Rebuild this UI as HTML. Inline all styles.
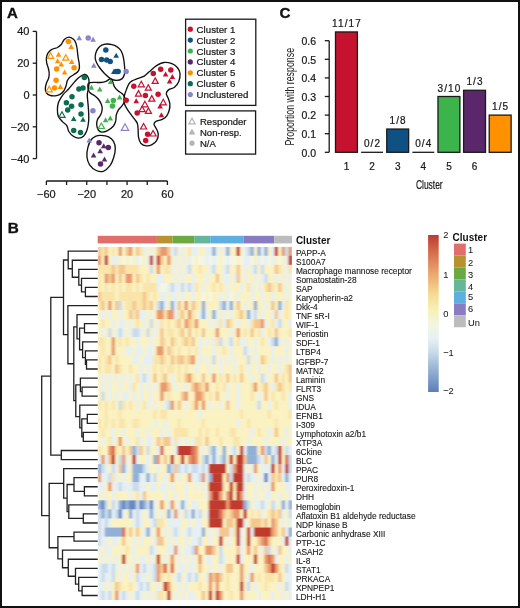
<!DOCTYPE html>
<html><head><meta charset="utf-8"><title>Figure</title>
<style>html,body{margin:0;padding:0;background:#fff;width:520px;height:608px;overflow:hidden}svg{display:block;will-change:transform}text{font-family:"Liberation Sans",sans-serif}</style>
</head><body>
<svg width="520" height="608" viewBox="0 0 520 608" font-family="Liberation Sans, sans-serif">
<rect x="1" y="1" width="518" height="606" fill="#fff" stroke="#111" stroke-width="2"/>
<text x="6.90" y="17.80" font-size="15.00" text-anchor="start" font-weight="bold" fill="#111" stroke="#111" stroke-width="0.35">A</text>
<text x="279.50" y="18.30" font-size="15.20" text-anchor="start" font-weight="bold" fill="#111" stroke="#111" stroke-width="0.35">C</text>
<text x="7.70" y="232.60" font-size="15.30" text-anchor="start" font-weight="bold" fill="#111" stroke="#111" stroke-width="0.35">B</text>
<path d="M36.5,31.4 V158.5" stroke="#1a1a1a" stroke-width="1.3" fill="none"/>
<path d="M32.7,31.40 H36.5" stroke="#1a1a1a" stroke-width="1.3"/>
<text x="29.50" y="35.30" font-size="11.00" text-anchor="end" font-weight="normal" fill="#1a1a1a" stroke="#1a1a1a" stroke-width="0.22" >40</text>
<path d="M32.7,63.20 H36.5" stroke="#1a1a1a" stroke-width="1.3"/>
<text x="29.50" y="67.10" font-size="11.00" text-anchor="end" font-weight="normal" fill="#1a1a1a" stroke="#1a1a1a" stroke-width="0.22" >20</text>
<path d="M32.7,95.00 H36.5" stroke="#1a1a1a" stroke-width="1.3"/>
<text x="29.50" y="98.90" font-size="11.00" text-anchor="end" font-weight="normal" fill="#1a1a1a" stroke="#1a1a1a" stroke-width="0.22" >0</text>
<path d="M32.7,126.80 H36.5" stroke="#1a1a1a" stroke-width="1.3"/>
<text x="29.50" y="130.70" font-size="11.00" text-anchor="end" font-weight="normal" fill="#1a1a1a" stroke="#1a1a1a" stroke-width="0.22" >−20</text>
<path d="M32.7,158.60 H36.5" stroke="#1a1a1a" stroke-width="1.3"/>
<text x="29.50" y="162.50" font-size="11.00" text-anchor="end" font-weight="normal" fill="#1a1a1a" stroke="#1a1a1a" stroke-width="0.22" >−40</text>
<path d="M46.4,181 H167.4" stroke="#1a1a1a" stroke-width="1.3" fill="none"/>
<path d="M46.40,181 V185" stroke="#1a1a1a" stroke-width="1.3"/>
<text x="46.40" y="197.80" font-size="11.00" text-anchor="middle" font-weight="normal" fill="#1a1a1a" stroke="#1a1a1a" stroke-width="0.22" >−60</text>
<path d="M66.57,181 V185" stroke="#1a1a1a" stroke-width="1.3"/>
<path d="M86.74,181 V185" stroke="#1a1a1a" stroke-width="1.3"/>
<text x="86.74" y="197.80" font-size="11.00" text-anchor="middle" font-weight="normal" fill="#1a1a1a" stroke="#1a1a1a" stroke-width="0.22" >−20</text>
<path d="M106.91,181 V185" stroke="#1a1a1a" stroke-width="1.3"/>
<path d="M127.08,181 V185" stroke="#1a1a1a" stroke-width="1.3"/>
<text x="127.08" y="197.80" font-size="11.00" text-anchor="middle" font-weight="normal" fill="#1a1a1a" stroke="#1a1a1a" stroke-width="0.22" >20</text>
<path d="M147.25,181 V185" stroke="#1a1a1a" stroke-width="1.3"/>
<path d="M167.42,181 V185" stroke="#1a1a1a" stroke-width="1.3"/>
<text x="167.42" y="197.80" font-size="11.00" text-anchor="middle" font-weight="normal" fill="#1a1a1a" stroke="#1a1a1a" stroke-width="0.22" >60</text>
<path d="M68.80,37.10 C70.33,37.05 72.33,38.32 73.50,39.30 C74.67,40.28 75.22,41.55 75.80,43.00 C76.38,44.45 76.70,46.33 77.00,48.00 C77.30,49.67 77.40,51.33 77.60,53.00 C77.80,54.67 77.93,56.25 78.20,58.00 C78.47,59.75 79.02,61.75 79.20,63.50 C79.38,65.25 79.58,67.08 79.30,68.50 C79.02,69.92 78.47,70.95 77.50,72.00 C76.53,73.05 74.83,73.88 73.50,74.80 C72.17,75.72 70.55,76.47 69.50,77.50 C68.45,78.53 67.78,79.58 67.20,81.00 C66.62,82.42 66.57,84.33 66.00,86.00 C65.43,87.67 64.80,89.62 63.80,91.00 C62.80,92.38 61.47,93.50 60.00,94.30 C58.53,95.10 56.67,95.62 55.00,95.80 C53.33,95.98 51.43,95.90 50.00,95.40 C48.57,94.90 47.18,93.95 46.40,92.80 C45.62,91.65 45.28,90.13 45.30,88.50 C45.32,86.87 45.95,84.70 46.50,83.00 C47.05,81.30 48.15,79.88 48.60,78.30 C49.05,76.72 49.23,75.13 49.20,73.50 C49.17,71.87 48.82,70.25 48.40,68.50 C47.98,66.75 47.03,64.75 46.70,63.00 C46.37,61.25 46.22,59.62 46.40,58.00 C46.58,56.38 46.95,54.70 47.80,53.30 C48.65,51.90 49.88,50.57 51.50,49.60 C53.12,48.63 55.88,48.35 57.50,47.50 C59.12,46.65 60.07,45.82 61.20,44.50 C62.33,43.18 63.03,40.83 64.30,39.60 C65.57,38.37 67.27,37.15 68.80,37.10 Z" fill="none" stroke="#111" stroke-width="1.35"/>
<path d="M106.70,44.00 C108.40,43.90 110.32,44.17 112.00,44.60 C113.68,45.03 115.43,45.77 116.80,46.60 C118.17,47.43 119.28,48.45 120.20,49.60 C121.12,50.75 121.75,52.10 122.30,53.50 C122.85,54.90 123.18,56.42 123.50,58.00 C123.82,59.58 124.00,61.25 124.20,63.00 C124.40,64.75 124.65,66.67 124.70,68.50 C124.75,70.33 124.92,72.32 124.50,74.00 C124.08,75.68 123.53,77.53 122.20,78.60 C120.87,79.67 118.45,80.40 116.50,80.40 C114.55,80.40 112.50,79.75 110.50,78.60 C108.50,77.45 106.33,75.35 104.50,73.50 C102.67,71.65 100.83,69.33 99.50,67.50 C98.17,65.67 97.22,64.08 96.50,62.50 C95.78,60.92 95.32,59.58 95.20,58.00 C95.08,56.42 95.33,54.58 95.80,53.00 C96.27,51.42 97.00,49.80 98.00,48.50 C99.00,47.20 100.35,45.95 101.80,45.20 C103.25,44.45 105.00,44.10 106.70,44.00 Z" fill="none" stroke="#111" stroke-width="1.35"/>
<path d="M84.40,74.50 C85.75,74.25 86.53,74.80 87.30,75.80 C88.07,76.80 88.78,78.55 89.00,80.50 C89.22,82.45 88.88,85.17 88.60,87.50 C88.32,89.83 87.43,92.17 87.30,94.50 C87.17,96.83 87.60,98.92 87.80,101.50 C88.00,104.08 88.35,106.83 88.50,110.00 C88.65,113.17 88.95,117.17 88.70,120.50 C88.45,123.83 87.87,127.38 87.00,130.00 C86.13,132.62 84.87,134.85 83.50,136.20 C82.13,137.55 80.50,138.08 78.80,138.10 C77.10,138.12 74.97,137.40 73.30,136.30 C71.63,135.20 69.88,133.28 68.80,131.50 C67.72,129.72 67.82,127.20 66.80,125.60 C65.78,124.00 64.12,123.45 62.70,121.90 C61.28,120.35 59.18,118.42 58.30,116.30 C57.42,114.18 57.40,111.42 57.40,109.20 C57.40,106.98 57.83,104.70 58.30,103.00 C58.77,101.30 59.37,100.43 60.20,99.00 C61.03,97.57 61.87,96.10 63.30,94.40 C64.73,92.70 66.92,90.88 68.80,88.80 C70.68,86.72 72.87,83.82 74.60,81.90 C76.33,79.98 77.57,78.53 79.20,77.30 C80.83,76.07 83.05,74.75 84.40,74.50 Z" fill="none" stroke="#111" stroke-width="1.35"/>
<path d="M88.60,83.20 C89.77,82.27 93.02,82.52 95.00,82.40 C96.98,82.28 98.67,82.67 100.50,82.50 C102.33,82.33 104.48,81.95 106.00,81.40 C107.52,80.85 108.60,79.43 109.60,79.20 C110.60,78.97 111.20,78.77 112.00,80.00 C112.80,81.23 113.40,84.80 114.40,86.60 C115.40,88.40 116.73,89.65 118.00,90.80 C119.27,91.95 120.90,92.47 122.00,93.50 C123.10,94.53 124.17,95.67 124.60,97.00 C125.03,98.33 125.03,100.03 124.60,101.50 C124.17,102.97 123.00,104.45 122.00,105.80 C121.00,107.15 119.55,108.07 118.60,109.60 C117.65,111.13 116.80,113.02 116.30,115.00 C115.80,116.98 116.15,119.58 115.60,121.50 C115.05,123.42 114.35,124.98 113.00,126.50 C111.65,128.02 109.35,129.67 107.50,130.60 C105.65,131.53 103.43,132.20 101.90,132.10 C100.37,132.00 99.17,131.22 98.30,130.00 C97.43,128.78 96.83,126.53 96.70,124.80 C96.57,123.07 96.82,121.32 97.50,119.60 C98.18,117.88 100.02,116.27 100.80,114.50 C101.58,112.73 102.10,110.67 102.20,109.00 C102.30,107.33 102.00,106.08 101.40,104.50 C100.80,102.92 99.67,100.92 98.60,99.50 C97.53,98.08 96.43,97.12 95.00,96.00 C93.57,94.88 91.17,94.13 90.00,92.80 C88.83,91.47 88.23,89.60 88.00,88.00 C87.77,86.40 87.43,84.13 88.60,83.20 Z" fill="none" stroke="#111" stroke-width="1.35"/>
<path d="M163.80,62.50 C166.37,62.18 169.62,62.83 171.90,63.70 C174.18,64.57 176.15,66.07 177.50,67.70 C178.85,69.33 179.78,71.20 180.00,73.50 C180.22,75.80 179.72,79.22 178.80,81.50 C177.88,83.78 176.17,85.85 174.50,87.20 C172.83,88.55 170.17,88.55 168.80,89.60 C167.43,90.65 166.40,92.07 166.30,93.50 C166.20,94.93 167.62,96.53 168.20,98.20 C168.78,99.87 169.60,101.62 169.80,103.50 C170.00,105.38 169.90,107.45 169.40,109.50 C168.90,111.55 167.98,114.17 166.80,115.80 C165.62,117.43 164.10,118.38 162.30,119.30 C160.50,120.22 157.38,120.48 156.00,121.30 C154.62,122.12 153.93,122.95 154.00,124.20 C154.07,125.45 155.68,127.13 156.40,128.80 C157.12,130.47 158.27,132.23 158.30,134.20 C158.33,136.17 157.65,138.87 156.60,140.60 C155.55,142.33 153.73,143.73 152.00,144.60 C150.27,145.47 148.03,145.98 146.20,145.80 C144.37,145.62 142.27,144.85 141.00,143.50 C139.73,142.15 139.08,140.02 138.60,137.70 C138.12,135.38 138.30,131.95 138.10,129.60 C137.90,127.25 137.93,125.25 137.40,123.60 C136.87,121.95 135.87,121.08 134.90,119.70 C133.93,118.32 132.70,116.77 131.60,115.30 C130.50,113.83 129.43,112.65 128.30,110.90 C127.17,109.15 125.53,106.70 124.80,104.80 C124.07,102.90 123.92,101.22 123.90,99.50 C123.88,97.78 124.27,96.18 124.70,94.50 C125.13,92.82 125.80,91.18 126.50,89.40 C127.20,87.62 127.98,85.23 128.90,83.80 C129.82,82.37 130.57,81.67 132.00,80.80 C133.43,79.93 135.47,79.38 137.50,78.60 C139.53,77.82 142.25,77.23 144.20,76.10 C146.15,74.97 147.15,73.55 149.20,71.80 C151.25,70.05 154.07,67.15 156.50,65.60 C158.93,64.05 161.23,62.82 163.80,62.50 Z" fill="none" stroke="#111" stroke-width="1.35"/>
<path d="M100.80,135.40 C102.90,135.52 106.48,135.82 108.60,136.80 C110.72,137.78 112.38,139.35 113.50,141.30 C114.62,143.25 115.28,145.77 115.30,148.50 C115.32,151.23 114.48,154.85 113.60,157.70 C112.72,160.55 111.72,163.33 110.00,165.60 C108.28,167.87 105.58,170.48 103.30,171.30 C101.02,172.12 98.58,171.58 96.30,170.50 C94.02,169.42 91.17,167.13 89.60,164.80 C88.03,162.47 87.18,159.42 86.90,156.50 C86.62,153.58 87.17,150.13 87.90,147.30 C88.63,144.47 89.95,141.37 91.30,139.50 C92.65,137.63 94.42,136.78 96.00,136.10 C97.58,135.42 98.70,135.28 100.80,135.40 Z" fill="none" stroke="#111" stroke-width="1.35"/>
<circle cx="68.4" cy="41.4" r="2.75" fill="#ff9100"/>
<path d="M71.20,43.98 L74.00,49.02 L68.40,49.02 Z" fill="#ff9100"/>
<path d="M50.60,52.81 L53.65,58.30 L47.55,58.30 Z" fill="none" stroke="#ff9100" stroke-width="1.2" stroke-linejoin="miter"/>
<path d="M58.60,51.68 L61.40,56.72 L55.80,56.72 Z" fill="#ff9100"/>
<path d="M65.80,54.71 L68.85,60.20 L62.75,60.20 Z" fill="none" stroke="#ff9100" stroke-width="1.2" stroke-linejoin="miter"/>
<path d="M57.60,58.18 L60.40,63.22 L54.80,63.22 Z" fill="#ff9100"/>
<path d="M61.30,61.48 L64.10,66.52 L58.50,66.52 Z" fill="#ff9100"/>
<path d="M71.70,58.98 L74.50,64.02 L68.90,64.02 Z" fill="#ff9100"/>
<circle cx="74.1" cy="67.7" r="2.75" fill="#ff9100"/>
<circle cx="56.6" cy="69.0" r="2.75" fill="#ff9100"/>
<path d="M64.60,69.38 L67.40,74.42 L61.80,74.42 Z" fill="#ff9100"/>
<circle cx="56.1" cy="80.2" r="2.75" fill="#ff9100"/>
<path d="M49.20,86.31 L52.25,91.80 L46.15,91.80 Z" fill="none" stroke="#ff9100" stroke-width="1.2" stroke-linejoin="miter"/>
<circle cx="54.5" cy="88.0" r="2.75" fill="#ff9100"/>
<path d="M60.40,83.98 L63.20,89.02 L57.60,89.02 Z" fill="#ff9100"/>
<path d="M79.20,35.18 L82.00,40.22 L76.40,40.22 Z" fill="#8a84c8"/>
<circle cx="88.2" cy="37.9" r="2.75" fill="#8a84c8"/>
<path d="M93.10,36.78 L95.90,41.82 L90.30,41.82 Z" fill="#8a84c8"/>
<path d="M93.80,62.78 L96.60,67.82 L91.00,67.82 Z" fill="#8a84c8"/>
<circle cx="126.1" cy="71.4" r="2.75" fill="#8a84c8"/>
<circle cx="92.9" cy="110.8" r="2.75" fill="#8a84c8"/>
<path d="M89.20,137.58 L92.00,142.62 L86.40,142.62 Z" fill="#8a84c8"/>
<path d="M125.00,123.80 L128.70,130.46 L121.30,130.46 Z" fill="none" stroke="#8a84c8" stroke-width="1.2" stroke-linejoin="miter"/>
<circle cx="105.8" cy="49.9" r="2.75" fill="#105183"/>
<path d="M116.20,52.78 L119.00,57.82 L113.40,57.82 Z" fill="#105183"/>
<circle cx="101.5" cy="59.4" r="2.75" fill="#105183"/>
<circle cx="106.7" cy="59.9" r="2.75" fill="#105183"/>
<circle cx="110.2" cy="61.4" r="2.75" fill="#105183"/>
<path d="M113.80,68.98 L116.60,74.02 L111.00,74.02 Z" fill="#105183"/>
<circle cx="118.2" cy="71.5" r="2.75" fill="#105183"/>
<circle cx="116.1" cy="71.6" r="2.75" fill="#105183"/>
<circle cx="84.4" cy="77.5" r="2.75" fill="#0a6e50"/>
<circle cx="78.9" cy="88.9" r="2.75" fill="#0a6e50"/>
<circle cx="83.0" cy="88.0" r="2.75" fill="#0a6e50"/>
<circle cx="72.0" cy="96.8" r="2.75" fill="#0a6e50"/>
<circle cx="66.4" cy="102.7" r="2.75" fill="#0a6e50"/>
<circle cx="71.6" cy="106.2" r="2.75" fill="#0a6e50"/>
<circle cx="81.0" cy="104.7" r="2.75" fill="#0a6e50"/>
<circle cx="67.7" cy="110.1" r="2.75" fill="#0a6e50"/>
<path d="M62.00,111.81 L65.05,117.30 L58.95,117.30 Z" fill="none" stroke="#0a6e50" stroke-width="1.2" stroke-linejoin="miter"/>
<circle cx="81.0" cy="114.1" r="2.75" fill="#0a6e50"/>
<path d="M73.70,115.98 L76.50,121.02 L70.90,121.02 Z" fill="#0a6e50"/>
<path d="M83.00,116.68 L85.80,121.72 L80.20,121.72 Z" fill="#0a6e50"/>
<circle cx="73.7" cy="130.4" r="2.75" fill="#0a6e50"/>
<circle cx="80.5" cy="132.4" r="2.75" fill="#0a6e50"/>
<path d="M91.40,84.68 L94.20,89.72 L88.60,89.72 Z" fill="#3cb44b"/>
<path d="M99.80,86.38 L102.60,91.42 L97.00,91.42 Z" fill="#3cb44b"/>
<path d="M110.70,78.98 L113.50,84.02 L107.90,84.02 Z" fill="#3cb44b"/>
<path d="M107.60,97.98 L110.40,103.02 L104.80,103.02 Z" fill="#3cb44b"/>
<circle cx="113.4" cy="100.4" r="2.75" fill="#3cb44b"/>
<path d="M119.60,94.58 L122.40,99.62 L116.80,99.62 Z" fill="#3cb44b"/>
<circle cx="112.4" cy="106.0" r="2.75" fill="#3cb44b"/>
<path d="M110.30,115.38 L113.10,120.42 L107.50,120.42 Z" fill="#3cb44b"/>
<path d="M105.60,117.18 L108.40,122.22 L102.80,122.22 Z" fill="#3cb44b"/>
<path d="M101.40,123.01 L104.45,128.50 L98.35,128.50 Z" fill="none" stroke="#3cb44b" stroke-width="1.2" stroke-linejoin="miter"/>
<circle cx="99.0" cy="142.7" r="2.75" fill="#5a286a"/>
<path d="M103.70,143.18 L106.50,148.22 L100.90,148.22 Z" fill="#5a286a"/>
<circle cx="108.3" cy="147.5" r="2.75" fill="#5a286a"/>
<path d="M100.20,148.28 L103.00,153.32 L97.40,153.32 Z" fill="#5a286a"/>
<path d="M93.60,152.58 L96.40,157.62 L90.80,157.62 Z" fill="#5a286a"/>
<path d="M104.50,156.38 L107.30,161.42 L101.70,161.42 Z" fill="#5a286a"/>
<circle cx="100.5" cy="164.0" r="2.75" fill="#5a286a"/>
<circle cx="160.7" cy="69.2" r="2.75" fill="#c4122f"/>
<circle cx="170.8" cy="70.1" r="2.75" fill="#c4122f"/>
<circle cx="153.3" cy="73.6" r="2.75" fill="#c4122f"/>
<path d="M165.60,71.58 L168.40,76.62 L162.80,76.62 Z" fill="#c4122f"/>
<path d="M172.40,74.08 L175.20,79.12 L169.60,79.12 Z" fill="#c4122f"/>
<path d="M169.60,78.58 L172.40,83.62 L166.80,83.62 Z" fill="#c4122f"/>
<path d="M155.20,77.91 L158.25,83.40 L152.15,83.40 Z" fill="none" stroke="#c4122f" stroke-width="1.2" stroke-linejoin="miter"/>
<circle cx="133.8" cy="86.3" r="2.75" fill="#c4122f"/>
<path d="M141.30,81.31 L144.35,86.80 L138.25,86.80 Z" fill="none" stroke="#c4122f" stroke-width="1.2" stroke-linejoin="miter"/>
<path d="M148.30,84.71 L151.35,90.20 L145.25,90.20 Z" fill="none" stroke="#c4122f" stroke-width="1.2" stroke-linejoin="miter"/>
<path d="M138.50,90.61 L141.55,96.10 L135.45,96.10 Z" fill="none" stroke="#c4122f" stroke-width="1.2" stroke-linejoin="miter"/>
<circle cx="145.4" cy="95.5" r="2.75" fill="#c4122f"/>
<circle cx="158.1" cy="94.2" r="2.75" fill="#c4122f"/>
<path d="M151.80,95.61 L154.85,101.10 L148.75,101.10 Z" fill="none" stroke="#c4122f" stroke-width="1.2" stroke-linejoin="miter"/>
<path d="M136.20,98.28 L139.00,103.32 L133.40,103.32 Z" fill="#c4122f"/>
<circle cx="126.2" cy="100.2" r="2.75" fill="#c4122f"/>
<path d="M144.90,101.31 L147.95,106.80 L141.85,106.80 Z" fill="none" stroke="#c4122f" stroke-width="1.2" stroke-linejoin="miter"/>
<path d="M163.30,99.31 L166.35,104.80 L160.25,104.80 Z" fill="none" stroke="#c4122f" stroke-width="1.2" stroke-linejoin="miter"/>
<path d="M160.10,103.58 L162.90,108.62 L157.30,108.62 Z" fill="#c4122f"/>
<path d="M142.10,106.21 L145.15,111.70 L139.05,111.70 Z" fill="none" stroke="#c4122f" stroke-width="1.2" stroke-linejoin="miter"/>
<path d="M148.40,107.91 L151.45,113.40 L145.35,113.40 Z" fill="none" stroke="#c4122f" stroke-width="1.2" stroke-linejoin="miter"/>
<circle cx="137.2" cy="113.0" r="2.75" fill="#c4122f"/>
<path d="M161.40,112.28 L164.20,117.32 L158.60,117.32 Z" fill="#c4122f"/>
<path d="M143.60,123.51 L146.65,129.00 L140.55,129.00 Z" fill="none" stroke="#c4122f" stroke-width="1.2" stroke-linejoin="miter"/>
<circle cx="147.6" cy="134.2" r="2.75" fill="#c4122f"/>
<path d="M153.10,130.51 L156.15,136.00 L150.05,136.00 Z" fill="none" stroke="#c4122f" stroke-width="1.2" stroke-linejoin="miter"/>
<circle cx="145.7" cy="140.6" r="2.75" fill="#c4122f"/>
<rect x="185.6" y="19.2" width="70.2" height="86.2" fill="none" stroke="#1a1a1a" stroke-width="1.3"/>
<rect x="185.6" y="110.9" width="70" height="43.2" fill="none" stroke="#1a1a1a" stroke-width="1.3"/>
<circle cx="190.3" cy="29.2" r="2.60" fill="#c4122f"/>
<text x="196.60" y="32.70" font-size="9.70" text-anchor="start" font-weight="normal" fill="#1a1a1a" stroke="#1a1a1a" stroke-width="0.22" >Cluster 1</text>
<circle cx="190.3" cy="40.1" r="2.60" fill="#105183"/>
<text x="196.60" y="43.60" font-size="9.70" text-anchor="start" font-weight="normal" fill="#1a1a1a" stroke="#1a1a1a" stroke-width="0.22" >Cluster 2</text>
<circle cx="190.3" cy="51.0" r="2.60" fill="#3cb44b"/>
<text x="196.60" y="54.50" font-size="9.70" text-anchor="start" font-weight="normal" fill="#1a1a1a" stroke="#1a1a1a" stroke-width="0.22" >Cluster 3</text>
<circle cx="190.3" cy="61.9" r="2.60" fill="#5a286a"/>
<text x="196.60" y="65.40" font-size="9.70" text-anchor="start" font-weight="normal" fill="#1a1a1a" stroke="#1a1a1a" stroke-width="0.22" >Cluster 4</text>
<circle cx="190.3" cy="72.8" r="2.60" fill="#ff9100"/>
<text x="196.60" y="76.30" font-size="9.70" text-anchor="start" font-weight="normal" fill="#1a1a1a" stroke="#1a1a1a" stroke-width="0.22" >Cluster 5</text>
<circle cx="190.3" cy="83.7" r="2.60" fill="#0a6e50"/>
<text x="196.60" y="87.20" font-size="9.70" text-anchor="start" font-weight="normal" fill="#1a1a1a" stroke="#1a1a1a" stroke-width="0.22" >Cluster 6</text>
<circle cx="190.3" cy="94.6" r="2.60" fill="#8a84c8"/>
<text x="196.60" y="98.10" font-size="9.70" text-anchor="start" font-weight="normal" fill="#1a1a1a" stroke="#1a1a1a" stroke-width="0.22" >Unclustered</text>
<path d="M192.00,118.14 L195.20,123.90 L188.80,123.90 Z" fill="none" stroke="#b4b4bc" stroke-width="1.2" stroke-linejoin="miter"/>
<text x="200.00" y="125.10" font-size="9.50" text-anchor="start" font-weight="normal" fill="#1a1a1a" stroke="#1a1a1a" stroke-width="0.22" >Responder</text>
<path d="M192.00,128.44 L195.30,134.38 L188.70,134.38 Z" fill="#b4b4bc"/>
<text x="200.00" y="135.90" font-size="9.50" text-anchor="start" font-weight="normal" fill="#1a1a1a" stroke="#1a1a1a" stroke-width="0.22" >Non-resp.</text>
<circle cx="192.0" cy="143.2" r="2.60" fill="#b4b4bc"/>
<text x="200.00" y="146.70" font-size="9.50" text-anchor="start" font-weight="normal" fill="#1a1a1a" stroke="#1a1a1a" stroke-width="0.22" >N/A</text>
<path d="M329.2,152.30 V40.70" stroke="#1a1a1a" stroke-width="1.3"/>
<path d="M324.8,152.30 H329.2" stroke="#1a1a1a" stroke-width="1.3"/>
<text x="316.00" y="156.60" font-size="10.50" text-anchor="end" font-weight="normal" fill="#1a1a1a" stroke="#1a1a1a" stroke-width="0.22" >0.0</text>
<path d="M324.8,133.70 H329.2" stroke="#1a1a1a" stroke-width="1.3"/>
<text x="316.00" y="138.00" font-size="10.50" text-anchor="end" font-weight="normal" fill="#1a1a1a" stroke="#1a1a1a" stroke-width="0.22" >0.1</text>
<path d="M324.8,115.10 H329.2" stroke="#1a1a1a" stroke-width="1.3"/>
<text x="316.00" y="119.40" font-size="10.50" text-anchor="end" font-weight="normal" fill="#1a1a1a" stroke="#1a1a1a" stroke-width="0.22" >0.2</text>
<path d="M324.8,96.50 H329.2" stroke="#1a1a1a" stroke-width="1.3"/>
<text x="316.00" y="100.80" font-size="10.50" text-anchor="end" font-weight="normal" fill="#1a1a1a" stroke="#1a1a1a" stroke-width="0.22" >0.3</text>
<path d="M324.8,77.90 H329.2" stroke="#1a1a1a" stroke-width="1.3"/>
<text x="316.00" y="82.20" font-size="10.50" text-anchor="end" font-weight="normal" fill="#1a1a1a" stroke="#1a1a1a" stroke-width="0.22" >0.4</text>
<path d="M324.8,59.30 H329.2" stroke="#1a1a1a" stroke-width="1.3"/>
<text x="316.00" y="63.60" font-size="10.50" text-anchor="end" font-weight="normal" fill="#1a1a1a" stroke="#1a1a1a" stroke-width="0.22" >0.5</text>
<path d="M324.8,40.70 H329.2" stroke="#1a1a1a" stroke-width="1.3"/>
<text x="316.00" y="45.00" font-size="10.50" text-anchor="end" font-weight="normal" fill="#1a1a1a" stroke="#1a1a1a" stroke-width="0.22" >0.6</text>
<rect x="335.50" y="31.95" width="21.90" height="120.35" fill="#c4122f" stroke="#1a1a1a" stroke-width="1.3"/>
<text x="346.95" y="26.95" font-size="10.00" text-anchor="middle" font-weight="normal" fill="#1a1a1a" stroke="#1a1a1a" stroke-width="0.22" letter-spacing="1.1">11/17</text>
<text x="346.45" y="170.20" font-size="10.00" text-anchor="middle" font-weight="normal" fill="#1a1a1a" stroke="#1a1a1a" stroke-width="0.22" >1</text>
<path d="M361.12,152.30 H383.02" stroke="#1a1a1a" stroke-width="1.3"/>
<text x="372.57" y="147.30" font-size="10.00" text-anchor="middle" font-weight="normal" fill="#1a1a1a" stroke="#1a1a1a" stroke-width="0.22" letter-spacing="1.1">0/2</text>
<text x="372.07" y="170.20" font-size="10.00" text-anchor="middle" font-weight="normal" fill="#1a1a1a" stroke="#1a1a1a" stroke-width="0.22" >2</text>
<rect x="386.74" y="129.05" width="21.90" height="23.25" fill="#105183" stroke="#1a1a1a" stroke-width="1.3"/>
<text x="398.19" y="124.05" font-size="10.00" text-anchor="middle" font-weight="normal" fill="#1a1a1a" stroke="#1a1a1a" stroke-width="0.22" letter-spacing="1.1">1/8</text>
<text x="397.69" y="170.20" font-size="10.00" text-anchor="middle" font-weight="normal" fill="#1a1a1a" stroke="#1a1a1a" stroke-width="0.22" >3</text>
<path d="M412.36,152.30 H434.26" stroke="#1a1a1a" stroke-width="1.3"/>
<text x="423.81" y="147.30" font-size="10.00" text-anchor="middle" font-weight="normal" fill="#1a1a1a" stroke="#1a1a1a" stroke-width="0.22" letter-spacing="1.1">0/4</text>
<text x="423.31" y="170.20" font-size="10.00" text-anchor="middle" font-weight="normal" fill="#1a1a1a" stroke="#1a1a1a" stroke-width="0.22" >4</text>
<rect x="437.98" y="96.50" width="21.90" height="55.80" fill="#3cb44b" stroke="#1a1a1a" stroke-width="1.3"/>
<text x="449.43" y="91.50" font-size="10.00" text-anchor="middle" font-weight="normal" fill="#1a1a1a" stroke="#1a1a1a" stroke-width="0.22" letter-spacing="1.1">3/10</text>
<text x="448.93" y="170.20" font-size="10.00" text-anchor="middle" font-weight="normal" fill="#1a1a1a" stroke="#1a1a1a" stroke-width="0.22" >5</text>
<rect x="463.60" y="90.30" width="21.90" height="62.00" fill="#5a286a" stroke="#1a1a1a" stroke-width="1.3"/>
<text x="475.05" y="85.30" font-size="10.00" text-anchor="middle" font-weight="normal" fill="#1a1a1a" stroke="#1a1a1a" stroke-width="0.22" letter-spacing="1.1">1/3</text>
<text x="474.55" y="170.20" font-size="10.00" text-anchor="middle" font-weight="normal" fill="#1a1a1a" stroke="#1a1a1a" stroke-width="0.22" >6</text>
<rect x="489.22" y="115.10" width="21.90" height="37.20" fill="#ff9100" stroke="#1a1a1a" stroke-width="1.3"/>
<text x="500.67" y="110.10" font-size="10.00" text-anchor="middle" font-weight="normal" fill="#1a1a1a" stroke="#1a1a1a" stroke-width="0.22" letter-spacing="1.1">1/5</text>
<text x="429.30" y="188.70" font-size="12.20" text-anchor="middle" font-weight="normal" fill="#1a1a1a" stroke="#1a1a1a" stroke-width="0.22" textLength="26.8" lengthAdjust="spacingAndGlyphs">Cluster</text>
<text transform="translate(294.2,96.75) rotate(-90)" font-size="12.2" text-anchor="middle" fill="#1a1a1a" textLength="97.7" lengthAdjust="spacingAndGlyphs">Proportion with response</text>
<defs><filter id="hb" x="0" y="0" width="1" height="1"><feGaussianBlur stdDeviation="0.8 0.25" edgeMode="duplicate"/></filter><clipPath id="hc"><rect x="97.7" y="246.7" width="194.3" height="353.3"/></clipPath></defs>
<g clip-path="url(#hc)"><g filter="url(#hb)">
<rect x="97.70" y="246.70" width="3.82" height="9.41" fill="#f4c790"/>
<rect x="101.17" y="246.70" width="3.82" height="9.41" fill="#f9e5aa"/>
<rect x="104.64" y="246.70" width="3.82" height="9.41" fill="#f4c790"/>
<rect x="108.11" y="246.70" width="3.82" height="9.41" fill="#faf2c2"/>
<rect x="111.58" y="246.70" width="3.82" height="9.41" fill="#f9e5aa"/>
<rect x="115.05" y="246.70" width="3.82" height="9.41" fill="#faf2c2"/>
<rect x="118.52" y="246.70" width="3.82" height="9.41" fill="#e99a6c"/>
<rect x="121.99" y="246.70" width="3.82" height="9.41" fill="#faf2c2"/>
<rect x="125.46" y="246.70" width="3.82" height="9.41" fill="#f4c790"/>
<rect x="128.93" y="246.70" width="3.82" height="9.41" fill="#e99a6c"/>
<rect x="132.40" y="246.70" width="3.82" height="9.41" fill="#faf2c2"/>
<rect x="135.87" y="246.70" width="3.82" height="9.41" fill="#f4c790"/>
<rect x="139.34" y="246.70" width="3.82" height="9.41" fill="#f9e5aa"/>
<rect x="142.81" y="246.70" width="3.82" height="9.41" fill="#e6f0f2"/>
<rect x="146.28" y="246.70" width="3.82" height="9.41" fill="#faf2c2"/>
<rect x="149.74" y="246.70" width="3.82" height="9.41" fill="#e6f0f2"/>
<rect x="153.21" y="246.70" width="3.82" height="9.41" fill="#faf2c2"/>
<rect x="156.68" y="246.70" width="3.82" height="9.41" fill="#f4c790"/>
<rect x="160.15" y="246.70" width="7.29" height="9.41" fill="#e99a6c"/>
<rect x="167.09" y="246.70" width="3.82" height="9.41" fill="#f4c790"/>
<rect x="170.56" y="246.70" width="3.82" height="9.41" fill="#e6f0f2"/>
<rect x="174.03" y="246.70" width="3.82" height="9.41" fill="#cadcec"/>
<rect x="177.50" y="246.70" width="3.82" height="9.41" fill="#faf2c2"/>
<rect x="180.97" y="246.70" width="3.82" height="9.41" fill="#e6f0f2"/>
<rect x="184.44" y="246.70" width="3.82" height="9.41" fill="#faf2c2"/>
<rect x="187.91" y="246.70" width="3.82" height="9.41" fill="#f9e5aa"/>
<rect x="191.38" y="246.70" width="7.29" height="9.41" fill="#e6f0f2"/>
<rect x="198.32" y="246.70" width="7.29" height="9.41" fill="#faf2c2"/>
<rect x="205.26" y="246.70" width="7.29" height="9.41" fill="#e6f0f2"/>
<rect x="212.20" y="246.70" width="3.82" height="9.41" fill="#92b0d6"/>
<rect x="215.67" y="246.70" width="3.82" height="9.41" fill="#e6f0f2"/>
<rect x="219.14" y="246.70" width="3.82" height="9.41" fill="#faf2c2"/>
<rect x="222.61" y="246.70" width="3.82" height="9.41" fill="#e6f0f2"/>
<rect x="226.08" y="246.70" width="3.82" height="9.41" fill="#92b0d6"/>
<rect x="229.55" y="246.70" width="7.29" height="9.41" fill="#faf2c2"/>
<rect x="236.49" y="246.70" width="3.82" height="9.41" fill="#c03a2e"/>
<rect x="239.96" y="246.70" width="3.82" height="9.41" fill="#faf2c2"/>
<rect x="243.43" y="246.70" width="3.82" height="9.41" fill="#e6f0f2"/>
<rect x="246.89" y="246.70" width="3.82" height="9.41" fill="#cadcec"/>
<rect x="250.36" y="246.70" width="3.82" height="9.41" fill="#92b0d6"/>
<rect x="253.83" y="246.70" width="3.82" height="9.41" fill="#faf2c2"/>
<rect x="257.30" y="246.70" width="3.82" height="9.41" fill="#92b0d6"/>
<rect x="260.77" y="246.70" width="3.82" height="9.41" fill="#e6f0f2"/>
<rect x="264.24" y="246.70" width="3.82" height="9.41" fill="#92b0d6"/>
<rect x="267.71" y="246.70" width="3.82" height="9.41" fill="#faf2c2"/>
<rect x="271.18" y="246.70" width="3.82" height="9.41" fill="#e6f0f2"/>
<rect x="274.65" y="246.70" width="3.82" height="9.41" fill="#c03a2e"/>
<rect x="278.12" y="246.70" width="3.82" height="9.41" fill="#faf2c2"/>
<rect x="281.59" y="246.70" width="3.82" height="9.41" fill="#e99a6c"/>
<rect x="285.06" y="246.70" width="3.82" height="9.41" fill="#cadcec"/>
<rect x="288.53" y="246.70" width="3.82" height="9.41" fill="#e99a6c"/>
<rect x="97.70" y="255.76" width="3.82" height="9.41" fill="#e99a6c"/>
<rect x="101.17" y="255.76" width="3.82" height="9.41" fill="#faf2c2"/>
<rect x="104.64" y="255.76" width="3.82" height="9.41" fill="#c03a2e"/>
<rect x="108.11" y="255.76" width="3.82" height="9.41" fill="#faf2c2"/>
<rect x="111.58" y="255.76" width="7.29" height="9.41" fill="#e6f0f2"/>
<rect x="118.52" y="255.76" width="3.82" height="9.41" fill="#faf2c2"/>
<rect x="121.99" y="255.76" width="3.82" height="9.41" fill="#f4f6e4"/>
<rect x="125.46" y="255.76" width="3.82" height="9.41" fill="#faf2c2"/>
<rect x="128.93" y="255.76" width="3.82" height="9.41" fill="#f4f6e4"/>
<rect x="132.40" y="255.76" width="3.82" height="9.41" fill="#faf2c2"/>
<rect x="135.87" y="255.76" width="3.82" height="9.41" fill="#e6f0f2"/>
<rect x="139.34" y="255.76" width="3.82" height="9.41" fill="#f4f6e4"/>
<rect x="142.81" y="255.76" width="3.82" height="9.41" fill="#faf2c2"/>
<rect x="146.28" y="255.76" width="3.82" height="9.41" fill="#e6f0f2"/>
<rect x="149.74" y="255.76" width="3.82" height="9.41" fill="#c03a2e"/>
<rect x="153.21" y="255.76" width="3.82" height="9.41" fill="#f4f6e4"/>
<rect x="156.68" y="255.76" width="3.82" height="9.41" fill="#c03a2e"/>
<rect x="160.15" y="255.76" width="3.82" height="9.41" fill="#f4c790"/>
<rect x="163.62" y="255.76" width="3.82" height="9.41" fill="#faf2c2"/>
<rect x="167.09" y="255.76" width="3.82" height="9.41" fill="#e99a6c"/>
<rect x="170.56" y="255.76" width="3.82" height="9.41" fill="#faf2c2"/>
<rect x="174.03" y="255.76" width="3.82" height="9.41" fill="#e6f0f2"/>
<rect x="177.50" y="255.76" width="3.82" height="9.41" fill="#faf2c2"/>
<rect x="180.97" y="255.76" width="3.82" height="9.41" fill="#e6f0f2"/>
<rect x="184.44" y="255.76" width="3.82" height="9.41" fill="#faf2c2"/>
<rect x="187.91" y="255.76" width="3.82" height="9.41" fill="#e6f0f2"/>
<rect x="191.38" y="255.76" width="3.82" height="9.41" fill="#f4f6e4"/>
<rect x="194.85" y="255.76" width="3.82" height="9.41" fill="#faf2c2"/>
<rect x="198.32" y="255.76" width="7.29" height="9.41" fill="#f4f6e4"/>
<rect x="205.26" y="255.76" width="3.82" height="9.41" fill="#e6f0f2"/>
<rect x="208.73" y="255.76" width="3.82" height="9.41" fill="#f4f6e4"/>
<rect x="212.20" y="255.76" width="3.82" height="9.41" fill="#e6f0f2"/>
<rect x="215.67" y="255.76" width="3.82" height="9.41" fill="#f4f6e4"/>
<rect x="219.14" y="255.76" width="3.82" height="9.41" fill="#faf2c2"/>
<rect x="222.61" y="255.76" width="3.82" height="9.41" fill="#f4f6e4"/>
<rect x="226.08" y="255.76" width="3.82" height="9.41" fill="#e6f0f2"/>
<rect x="229.55" y="255.76" width="7.29" height="9.41" fill="#f4f6e4"/>
<rect x="236.49" y="255.76" width="3.82" height="9.41" fill="#faf2c2"/>
<rect x="239.96" y="255.76" width="3.82" height="9.41" fill="#f4f6e4"/>
<rect x="243.43" y="255.76" width="7.29" height="9.41" fill="#e6f0f2"/>
<rect x="250.36" y="255.76" width="3.82" height="9.41" fill="#f4f6e4"/>
<rect x="253.83" y="255.76" width="3.82" height="9.41" fill="#faf2c2"/>
<rect x="257.30" y="255.76" width="3.82" height="9.41" fill="#e6f0f2"/>
<rect x="260.77" y="255.76" width="3.82" height="9.41" fill="#f4f6e4"/>
<rect x="264.24" y="255.76" width="3.82" height="9.41" fill="#e6f0f2"/>
<rect x="267.71" y="255.76" width="3.82" height="9.41" fill="#f4f6e4"/>
<rect x="271.18" y="255.76" width="3.82" height="9.41" fill="#e6f0f2"/>
<rect x="274.65" y="255.76" width="3.82" height="9.41" fill="#faf2c2"/>
<rect x="278.12" y="255.76" width="3.82" height="9.41" fill="#f4f6e4"/>
<rect x="281.59" y="255.76" width="3.82" height="9.41" fill="#faf2c2"/>
<rect x="285.06" y="255.76" width="3.82" height="9.41" fill="#e6f0f2"/>
<rect x="288.53" y="255.76" width="3.82" height="9.41" fill="#c03a2e"/>
<rect x="97.70" y="264.82" width="14.23" height="9.41" fill="#f9e5aa"/>
<rect x="111.58" y="264.82" width="3.82" height="9.41" fill="#f4c790"/>
<rect x="115.05" y="264.82" width="3.82" height="9.41" fill="#f9e5aa"/>
<rect x="118.52" y="264.82" width="7.29" height="9.41" fill="#f4c790"/>
<rect x="125.46" y="264.82" width="14.23" height="9.41" fill="#f9e5aa"/>
<rect x="139.34" y="264.82" width="10.76" height="9.41" fill="#faf2c2"/>
<rect x="149.74" y="264.82" width="3.82" height="9.41" fill="#cadcec"/>
<rect x="153.21" y="264.82" width="3.82" height="9.41" fill="#faf2c2"/>
<rect x="156.68" y="264.82" width="3.82" height="9.41" fill="#e99a6c"/>
<rect x="160.15" y="264.82" width="3.82" height="9.41" fill="#faf2c2"/>
<rect x="163.62" y="264.82" width="7.29" height="9.41" fill="#f9e5aa"/>
<rect x="170.56" y="264.82" width="3.82" height="9.41" fill="#e6f0f2"/>
<rect x="174.03" y="264.82" width="3.82" height="9.41" fill="#faf2c2"/>
<rect x="177.50" y="264.82" width="3.82" height="9.41" fill="#e6f0f2"/>
<rect x="180.97" y="264.82" width="3.82" height="9.41" fill="#faf2c2"/>
<rect x="184.44" y="264.82" width="3.82" height="9.41" fill="#e6f0f2"/>
<rect x="187.91" y="264.82" width="3.82" height="9.41" fill="#cadcec"/>
<rect x="191.38" y="264.82" width="7.29" height="9.41" fill="#faf2c2"/>
<rect x="198.32" y="264.82" width="3.82" height="9.41" fill="#f9e5aa"/>
<rect x="201.79" y="264.82" width="7.29" height="9.41" fill="#faf2c2"/>
<rect x="208.73" y="264.82" width="3.82" height="9.41" fill="#e6f0f2"/>
<rect x="212.20" y="264.82" width="3.82" height="9.41" fill="#cadcec"/>
<rect x="215.67" y="264.82" width="7.29" height="9.41" fill="#faf2c2"/>
<rect x="222.61" y="264.82" width="3.82" height="9.41" fill="#e6f0f2"/>
<rect x="226.08" y="264.82" width="3.82" height="9.41" fill="#cadcec"/>
<rect x="229.55" y="264.82" width="7.29" height="9.41" fill="#faf2c2"/>
<rect x="236.49" y="264.82" width="3.82" height="9.41" fill="#f4c790"/>
<rect x="239.96" y="264.82" width="3.82" height="9.41" fill="#faf2c2"/>
<rect x="243.43" y="264.82" width="3.82" height="9.41" fill="#e6f0f2"/>
<rect x="246.89" y="264.82" width="3.82" height="9.41" fill="#faf2c2"/>
<rect x="250.36" y="264.82" width="3.82" height="9.41" fill="#e6f0f2"/>
<rect x="253.83" y="264.82" width="3.82" height="9.41" fill="#cadcec"/>
<rect x="257.30" y="264.82" width="3.82" height="9.41" fill="#faf2c2"/>
<rect x="260.77" y="264.82" width="3.82" height="9.41" fill="#cadcec"/>
<rect x="264.24" y="264.82" width="10.76" height="9.41" fill="#faf2c2"/>
<rect x="274.65" y="264.82" width="3.82" height="9.41" fill="#f4c790"/>
<rect x="278.12" y="264.82" width="3.82" height="9.41" fill="#f9e5aa"/>
<rect x="281.59" y="264.82" width="3.82" height="9.41" fill="#faf2c2"/>
<rect x="285.06" y="264.82" width="3.82" height="9.41" fill="#e6f0f2"/>
<rect x="288.53" y="264.82" width="3.82" height="9.41" fill="#f9e5aa"/>
<rect x="97.70" y="273.88" width="3.82" height="9.41" fill="#f9e5aa"/>
<rect x="101.17" y="273.88" width="3.82" height="9.41" fill="#faf2c2"/>
<rect x="104.64" y="273.88" width="3.82" height="9.41" fill="#e99a6c"/>
<rect x="108.11" y="273.88" width="3.82" height="9.41" fill="#f4c790"/>
<rect x="111.58" y="273.88" width="3.82" height="9.41" fill="#e99a6c"/>
<rect x="115.05" y="273.88" width="3.82" height="9.41" fill="#faf2c2"/>
<rect x="118.52" y="273.88" width="3.82" height="9.41" fill="#f4c790"/>
<rect x="121.99" y="273.88" width="3.82" height="9.41" fill="#faf2c2"/>
<rect x="125.46" y="273.88" width="7.29" height="9.41" fill="#e99a6c"/>
<rect x="132.40" y="273.88" width="3.82" height="9.41" fill="#faf2c2"/>
<rect x="135.87" y="273.88" width="3.82" height="9.41" fill="#f4c790"/>
<rect x="139.34" y="273.88" width="3.82" height="9.41" fill="#f9e5aa"/>
<rect x="142.81" y="273.88" width="3.82" height="9.41" fill="#faf2c2"/>
<rect x="146.28" y="273.88" width="3.82" height="9.41" fill="#f9e5aa"/>
<rect x="149.74" y="273.88" width="7.29" height="9.41" fill="#faf2c2"/>
<rect x="156.68" y="273.88" width="7.29" height="9.41" fill="#e6f0f2"/>
<rect x="163.62" y="273.88" width="10.76" height="9.41" fill="#faf2c2"/>
<rect x="174.03" y="273.88" width="3.82" height="9.41" fill="#e6f0f2"/>
<rect x="177.50" y="273.88" width="3.82" height="9.41" fill="#faf2c2"/>
<rect x="180.97" y="273.88" width="3.82" height="9.41" fill="#e6f0f2"/>
<rect x="184.44" y="273.88" width="7.29" height="9.41" fill="#faf2c2"/>
<rect x="191.38" y="273.88" width="3.82" height="9.41" fill="#e6f0f2"/>
<rect x="194.85" y="273.88" width="10.76" height="9.41" fill="#faf2c2"/>
<rect x="205.26" y="273.88" width="3.82" height="9.41" fill="#e6f0f2"/>
<rect x="208.73" y="273.88" width="7.29" height="9.41" fill="#faf2c2"/>
<rect x="215.67" y="273.88" width="3.82" height="9.41" fill="#f4c790"/>
<rect x="219.14" y="273.88" width="3.82" height="9.41" fill="#faf2c2"/>
<rect x="222.61" y="273.88" width="7.29" height="9.41" fill="#e6f0f2"/>
<rect x="229.55" y="273.88" width="3.82" height="9.41" fill="#faf2c2"/>
<rect x="233.02" y="273.88" width="3.82" height="9.41" fill="#e6f0f2"/>
<rect x="236.49" y="273.88" width="3.82" height="9.41" fill="#f4c790"/>
<rect x="239.96" y="273.88" width="3.82" height="9.41" fill="#faf2c2"/>
<rect x="243.43" y="273.88" width="3.82" height="9.41" fill="#e6f0f2"/>
<rect x="246.89" y="273.88" width="7.29" height="9.41" fill="#faf2c2"/>
<rect x="253.83" y="273.88" width="3.82" height="9.41" fill="#e6f0f2"/>
<rect x="257.30" y="273.88" width="3.82" height="9.41" fill="#faf2c2"/>
<rect x="260.77" y="273.88" width="3.82" height="9.41" fill="#e6f0f2"/>
<rect x="264.24" y="273.88" width="3.82" height="9.41" fill="#cadcec"/>
<rect x="267.71" y="273.88" width="7.29" height="9.41" fill="#faf2c2"/>
<rect x="274.65" y="273.88" width="3.82" height="9.41" fill="#e6f0f2"/>
<rect x="278.12" y="273.88" width="3.82" height="9.41" fill="#faf2c2"/>
<rect x="281.59" y="273.88" width="3.82" height="9.41" fill="#e6f0f2"/>
<rect x="285.06" y="273.88" width="3.82" height="9.41" fill="#faf2c2"/>
<rect x="288.53" y="273.88" width="3.82" height="9.41" fill="#e6f0f2"/>
<rect x="97.70" y="282.94" width="3.82" height="9.41" fill="#f9e5aa"/>
<rect x="101.17" y="282.94" width="3.82" height="9.41" fill="#faf2c2"/>
<rect x="104.64" y="282.94" width="3.82" height="9.41" fill="#f9e5aa"/>
<rect x="108.11" y="282.94" width="3.82" height="9.41" fill="#faf2c2"/>
<rect x="111.58" y="282.94" width="3.82" height="9.41" fill="#f9e5aa"/>
<rect x="115.05" y="282.94" width="3.82" height="9.41" fill="#faf2c2"/>
<rect x="118.52" y="282.94" width="3.82" height="9.41" fill="#f9e5aa"/>
<rect x="121.99" y="282.94" width="3.82" height="9.41" fill="#faf2c2"/>
<rect x="125.46" y="282.94" width="7.29" height="9.41" fill="#f9e5aa"/>
<rect x="132.40" y="282.94" width="3.82" height="9.41" fill="#faf2c2"/>
<rect x="135.87" y="282.94" width="3.82" height="9.41" fill="#f9e5aa"/>
<rect x="139.34" y="282.94" width="3.82" height="9.41" fill="#faf2c2"/>
<rect x="142.81" y="282.94" width="14.23" height="9.41" fill="#f9e5aa"/>
<rect x="156.68" y="282.94" width="3.82" height="9.41" fill="#e6f0f2"/>
<rect x="160.15" y="282.94" width="7.29" height="9.41" fill="#f4f6e4"/>
<rect x="167.09" y="282.94" width="3.82" height="9.41" fill="#e6f0f2"/>
<rect x="170.56" y="282.94" width="3.82" height="9.41" fill="#cadcec"/>
<rect x="174.03" y="282.94" width="7.29" height="9.41" fill="#e6f0f2"/>
<rect x="180.97" y="282.94" width="3.82" height="9.41" fill="#cadcec"/>
<rect x="184.44" y="282.94" width="3.82" height="9.41" fill="#e6f0f2"/>
<rect x="187.91" y="282.94" width="3.82" height="9.41" fill="#cadcec"/>
<rect x="191.38" y="282.94" width="3.82" height="9.41" fill="#e6f0f2"/>
<rect x="194.85" y="282.94" width="3.82" height="9.41" fill="#f9e5aa"/>
<rect x="198.32" y="282.94" width="3.82" height="9.41" fill="#faf2c2"/>
<rect x="201.79" y="282.94" width="3.82" height="9.41" fill="#e6f0f2"/>
<rect x="205.26" y="282.94" width="7.29" height="9.41" fill="#faf2c2"/>
<rect x="212.20" y="282.94" width="3.82" height="9.41" fill="#f9e5aa"/>
<rect x="215.67" y="282.94" width="3.82" height="9.41" fill="#faf2c2"/>
<rect x="219.14" y="282.94" width="3.82" height="9.41" fill="#f9e5aa"/>
<rect x="222.61" y="282.94" width="3.82" height="9.41" fill="#faf2c2"/>
<rect x="226.08" y="282.94" width="3.82" height="9.41" fill="#e6f0f2"/>
<rect x="229.55" y="282.94" width="10.76" height="9.41" fill="#faf2c2"/>
<rect x="239.96" y="282.94" width="3.82" height="9.41" fill="#e6f0f2"/>
<rect x="243.43" y="282.94" width="3.82" height="9.41" fill="#faf2c2"/>
<rect x="246.89" y="282.94" width="3.82" height="9.41" fill="#f9e5aa"/>
<rect x="250.36" y="282.94" width="3.82" height="9.41" fill="#e6f0f2"/>
<rect x="253.83" y="282.94" width="3.82" height="9.41" fill="#faf2c2"/>
<rect x="257.30" y="282.94" width="3.82" height="9.41" fill="#e6f0f2"/>
<rect x="260.77" y="282.94" width="3.82" height="9.41" fill="#faf2c2"/>
<rect x="264.24" y="282.94" width="3.82" height="9.41" fill="#f9e5aa"/>
<rect x="267.71" y="282.94" width="3.82" height="9.41" fill="#f4c790"/>
<rect x="271.18" y="282.94" width="3.82" height="9.41" fill="#f9e5aa"/>
<rect x="274.65" y="282.94" width="3.82" height="9.41" fill="#faf2c2"/>
<rect x="278.12" y="282.94" width="3.82" height="9.41" fill="#f4c790"/>
<rect x="281.59" y="282.94" width="3.82" height="9.41" fill="#faf2c2"/>
<rect x="285.06" y="282.94" width="3.82" height="9.41" fill="#e6f0f2"/>
<rect x="288.53" y="282.94" width="3.82" height="9.41" fill="#faf2c2"/>
<rect x="97.70" y="292.00" width="3.82" height="9.41" fill="#f4c790"/>
<rect x="101.17" y="292.00" width="14.23" height="9.41" fill="#f9e5aa"/>
<rect x="115.05" y="292.00" width="3.82" height="9.41" fill="#faf2c2"/>
<rect x="118.52" y="292.00" width="24.64" height="9.41" fill="#f9e5aa"/>
<rect x="142.81" y="292.00" width="3.82" height="9.41" fill="#f4c790"/>
<rect x="146.28" y="292.00" width="3.82" height="9.41" fill="#f9e5aa"/>
<rect x="149.74" y="292.00" width="3.82" height="9.41" fill="#faf2c2"/>
<rect x="153.21" y="292.00" width="3.82" height="9.41" fill="#f9e5aa"/>
<rect x="156.68" y="292.00" width="3.82" height="9.41" fill="#faf2c2"/>
<rect x="160.15" y="292.00" width="7.29" height="9.41" fill="#e6f0f2"/>
<rect x="167.09" y="292.00" width="3.82" height="9.41" fill="#faf2c2"/>
<rect x="170.56" y="292.00" width="7.29" height="9.41" fill="#e6f0f2"/>
<rect x="177.50" y="292.00" width="3.82" height="9.41" fill="#faf2c2"/>
<rect x="180.97" y="292.00" width="3.82" height="9.41" fill="#e6f0f2"/>
<rect x="184.44" y="292.00" width="7.29" height="9.41" fill="#faf2c2"/>
<rect x="191.38" y="292.00" width="3.82" height="9.41" fill="#e6f0f2"/>
<rect x="194.85" y="292.00" width="7.29" height="9.41" fill="#faf2c2"/>
<rect x="201.79" y="292.00" width="3.82" height="9.41" fill="#f4f6e4"/>
<rect x="205.26" y="292.00" width="3.82" height="9.41" fill="#faf2c2"/>
<rect x="208.73" y="292.00" width="3.82" height="9.41" fill="#f4f6e4"/>
<rect x="212.20" y="292.00" width="7.29" height="9.41" fill="#faf2c2"/>
<rect x="219.14" y="292.00" width="3.82" height="9.41" fill="#e6f0f2"/>
<rect x="222.61" y="292.00" width="3.82" height="9.41" fill="#faf2c2"/>
<rect x="226.08" y="292.00" width="3.82" height="9.41" fill="#e6f0f2"/>
<rect x="229.55" y="292.00" width="3.82" height="9.41" fill="#f4f6e4"/>
<rect x="233.02" y="292.00" width="3.82" height="9.41" fill="#faf2c2"/>
<rect x="236.49" y="292.00" width="3.82" height="9.41" fill="#e6f0f2"/>
<rect x="239.96" y="292.00" width="10.76" height="9.41" fill="#faf2c2"/>
<rect x="250.36" y="292.00" width="3.82" height="9.41" fill="#e6f0f2"/>
<rect x="253.83" y="292.00" width="7.29" height="9.41" fill="#faf2c2"/>
<rect x="260.77" y="292.00" width="3.82" height="9.41" fill="#e6f0f2"/>
<rect x="264.24" y="292.00" width="7.29" height="9.41" fill="#faf2c2"/>
<rect x="271.18" y="292.00" width="3.82" height="9.41" fill="#e6f0f2"/>
<rect x="274.65" y="292.00" width="10.76" height="9.41" fill="#faf2c2"/>
<rect x="285.06" y="292.00" width="3.82" height="9.41" fill="#e6f0f2"/>
<rect x="288.53" y="292.00" width="3.82" height="9.41" fill="#faf2c2"/>
<rect x="97.70" y="301.06" width="3.82" height="9.41" fill="#f9e5aa"/>
<rect x="101.17" y="301.06" width="3.82" height="9.41" fill="#f4c790"/>
<rect x="104.64" y="301.06" width="3.82" height="9.41" fill="#faf2c2"/>
<rect x="108.11" y="301.06" width="3.82" height="9.41" fill="#e99a6c"/>
<rect x="111.58" y="301.06" width="3.82" height="9.41" fill="#faf2c2"/>
<rect x="115.05" y="301.06" width="3.82" height="9.41" fill="#f4c790"/>
<rect x="118.52" y="301.06" width="3.82" height="9.41" fill="#cadcec"/>
<rect x="121.99" y="301.06" width="3.82" height="9.41" fill="#faf2c2"/>
<rect x="125.46" y="301.06" width="7.29" height="9.41" fill="#f9e5aa"/>
<rect x="132.40" y="301.06" width="3.82" height="9.41" fill="#f4c790"/>
<rect x="135.87" y="301.06" width="7.29" height="9.41" fill="#f9e5aa"/>
<rect x="142.81" y="301.06" width="3.82" height="9.41" fill="#f4c790"/>
<rect x="146.28" y="301.06" width="3.82" height="9.41" fill="#f9e5aa"/>
<rect x="149.74" y="301.06" width="3.82" height="9.41" fill="#f4c790"/>
<rect x="153.21" y="301.06" width="3.82" height="9.41" fill="#faf2c2"/>
<rect x="156.68" y="301.06" width="3.82" height="9.41" fill="#cadcec"/>
<rect x="160.15" y="301.06" width="3.82" height="9.41" fill="#92b0d6"/>
<rect x="163.62" y="301.06" width="3.82" height="9.41" fill="#e6f0f2"/>
<rect x="167.09" y="301.06" width="3.82" height="9.41" fill="#faf2c2"/>
<rect x="170.56" y="301.06" width="3.82" height="9.41" fill="#92b0d6"/>
<rect x="174.03" y="301.06" width="3.82" height="9.41" fill="#e6f0f2"/>
<rect x="177.50" y="301.06" width="3.82" height="9.41" fill="#f4c790"/>
<rect x="180.97" y="301.06" width="3.82" height="9.41" fill="#faf2c2"/>
<rect x="184.44" y="301.06" width="3.82" height="9.41" fill="#e99a6c"/>
<rect x="187.91" y="301.06" width="3.82" height="9.41" fill="#faf2c2"/>
<rect x="191.38" y="301.06" width="3.82" height="9.41" fill="#f4c790"/>
<rect x="194.85" y="301.06" width="3.82" height="9.41" fill="#f9e5aa"/>
<rect x="198.32" y="301.06" width="3.82" height="9.41" fill="#faf2c2"/>
<rect x="201.79" y="301.06" width="3.82" height="9.41" fill="#92b0d6"/>
<rect x="205.26" y="301.06" width="14.23" height="9.41" fill="#faf2c2"/>
<rect x="219.14" y="301.06" width="3.82" height="9.41" fill="#cadcec"/>
<rect x="222.61" y="301.06" width="3.82" height="9.41" fill="#92b0d6"/>
<rect x="226.08" y="301.06" width="3.82" height="9.41" fill="#e6f0f2"/>
<rect x="229.55" y="301.06" width="3.82" height="9.41" fill="#92b0d6"/>
<rect x="233.02" y="301.06" width="3.82" height="9.41" fill="#faf2c2"/>
<rect x="236.49" y="301.06" width="3.82" height="9.41" fill="#f4c790"/>
<rect x="239.96" y="301.06" width="3.82" height="9.41" fill="#faf2c2"/>
<rect x="243.43" y="301.06" width="3.82" height="9.41" fill="#e6f0f2"/>
<rect x="246.89" y="301.06" width="7.29" height="9.41" fill="#faf2c2"/>
<rect x="253.83" y="301.06" width="3.82" height="9.41" fill="#92b0d6"/>
<rect x="257.30" y="301.06" width="7.29" height="9.41" fill="#faf2c2"/>
<rect x="264.24" y="301.06" width="3.82" height="9.41" fill="#e6f0f2"/>
<rect x="267.71" y="301.06" width="3.82" height="9.41" fill="#faf2c2"/>
<rect x="271.18" y="301.06" width="3.82" height="9.41" fill="#f4c790"/>
<rect x="274.65" y="301.06" width="3.82" height="9.41" fill="#faf2c2"/>
<rect x="278.12" y="301.06" width="3.82" height="9.41" fill="#92b0d6"/>
<rect x="281.59" y="301.06" width="3.82" height="9.41" fill="#e6f0f2"/>
<rect x="285.06" y="301.06" width="3.82" height="9.41" fill="#f9e5aa"/>
<rect x="288.53" y="301.06" width="3.82" height="9.41" fill="#faf2c2"/>
<rect x="97.70" y="310.12" width="3.82" height="9.41" fill="#faf2c2"/>
<rect x="101.17" y="310.12" width="3.82" height="9.41" fill="#e6f0f2"/>
<rect x="104.64" y="310.12" width="3.82" height="9.41" fill="#faf2c2"/>
<rect x="108.11" y="310.12" width="3.82" height="9.41" fill="#e6f0f2"/>
<rect x="111.58" y="310.12" width="7.29" height="9.41" fill="#faf2c2"/>
<rect x="118.52" y="310.12" width="3.82" height="9.41" fill="#e6f0f2"/>
<rect x="121.99" y="310.12" width="7.29" height="9.41" fill="#faf2c2"/>
<rect x="128.93" y="310.12" width="3.82" height="9.41" fill="#f4c790"/>
<rect x="132.40" y="310.12" width="3.82" height="9.41" fill="#f9e5aa"/>
<rect x="135.87" y="310.12" width="3.82" height="9.41" fill="#f4c790"/>
<rect x="139.34" y="310.12" width="7.29" height="9.41" fill="#e6f0f2"/>
<rect x="146.28" y="310.12" width="3.82" height="9.41" fill="#faf2c2"/>
<rect x="149.74" y="310.12" width="3.82" height="9.41" fill="#e6f0f2"/>
<rect x="153.21" y="310.12" width="3.82" height="9.41" fill="#faf2c2"/>
<rect x="156.68" y="310.12" width="7.29" height="9.41" fill="#e99a6c"/>
<rect x="163.62" y="310.12" width="3.82" height="9.41" fill="#f9e5aa"/>
<rect x="167.09" y="310.12" width="7.29" height="9.41" fill="#e99a6c"/>
<rect x="174.03" y="310.12" width="3.82" height="9.41" fill="#e6f0f2"/>
<rect x="177.50" y="310.12" width="3.82" height="9.41" fill="#f9e5aa"/>
<rect x="180.97" y="310.12" width="3.82" height="9.41" fill="#f4c790"/>
<rect x="184.44" y="310.12" width="3.82" height="9.41" fill="#faf2c2"/>
<rect x="187.91" y="310.12" width="3.82" height="9.41" fill="#e99a6c"/>
<rect x="191.38" y="310.12" width="3.82" height="9.41" fill="#f9e5aa"/>
<rect x="194.85" y="310.12" width="3.82" height="9.41" fill="#faf2c2"/>
<rect x="198.32" y="310.12" width="3.82" height="9.41" fill="#e6f0f2"/>
<rect x="201.79" y="310.12" width="3.82" height="9.41" fill="#92b0d6"/>
<rect x="205.26" y="310.12" width="3.82" height="9.41" fill="#e6f0f2"/>
<rect x="208.73" y="310.12" width="3.82" height="9.41" fill="#faf2c2"/>
<rect x="212.20" y="310.12" width="3.82" height="9.41" fill="#92b0d6"/>
<rect x="215.67" y="310.12" width="3.82" height="9.41" fill="#e6f0f2"/>
<rect x="219.14" y="310.12" width="3.82" height="9.41" fill="#faf2c2"/>
<rect x="222.61" y="310.12" width="3.82" height="9.41" fill="#e6f0f2"/>
<rect x="226.08" y="310.12" width="3.82" height="9.41" fill="#faf2c2"/>
<rect x="229.55" y="310.12" width="3.82" height="9.41" fill="#e6f0f2"/>
<rect x="233.02" y="310.12" width="3.82" height="9.41" fill="#faf2c2"/>
<rect x="236.49" y="310.12" width="3.82" height="9.41" fill="#f9e5aa"/>
<rect x="239.96" y="310.12" width="3.82" height="9.41" fill="#f4c790"/>
<rect x="243.43" y="310.12" width="3.82" height="9.41" fill="#faf2c2"/>
<rect x="246.89" y="310.12" width="3.82" height="9.41" fill="#92b0d6"/>
<rect x="250.36" y="310.12" width="3.82" height="9.41" fill="#e6f0f2"/>
<rect x="253.83" y="310.12" width="3.82" height="9.41" fill="#cadcec"/>
<rect x="257.30" y="310.12" width="3.82" height="9.41" fill="#faf2c2"/>
<rect x="260.77" y="310.12" width="3.82" height="9.41" fill="#e6f0f2"/>
<rect x="264.24" y="310.12" width="7.29" height="9.41" fill="#faf2c2"/>
<rect x="271.18" y="310.12" width="3.82" height="9.41" fill="#e6f0f2"/>
<rect x="274.65" y="310.12" width="3.82" height="9.41" fill="#f4c790"/>
<rect x="278.12" y="310.12" width="3.82" height="9.41" fill="#e6f0f2"/>
<rect x="281.59" y="310.12" width="3.82" height="9.41" fill="#faf2c2"/>
<rect x="285.06" y="310.12" width="3.82" height="9.41" fill="#f9e5aa"/>
<rect x="288.53" y="310.12" width="3.82" height="9.41" fill="#faf2c2"/>
<rect x="97.70" y="319.18" width="3.82" height="9.41" fill="#faf2c2"/>
<rect x="101.17" y="319.18" width="3.82" height="9.41" fill="#f9e5aa"/>
<rect x="104.64" y="319.18" width="7.29" height="9.41" fill="#faf2c2"/>
<rect x="111.58" y="319.18" width="3.82" height="9.41" fill="#e6f0f2"/>
<rect x="115.05" y="319.18" width="3.82" height="9.41" fill="#faf2c2"/>
<rect x="118.52" y="319.18" width="7.29" height="9.41" fill="#e6f0f2"/>
<rect x="125.46" y="319.18" width="3.82" height="9.41" fill="#faf2c2"/>
<rect x="128.93" y="319.18" width="3.82" height="9.41" fill="#e6f0f2"/>
<rect x="132.40" y="319.18" width="3.82" height="9.41" fill="#faf2c2"/>
<rect x="135.87" y="319.18" width="3.82" height="9.41" fill="#f9e5aa"/>
<rect x="139.34" y="319.18" width="3.82" height="9.41" fill="#faf2c2"/>
<rect x="142.81" y="319.18" width="3.82" height="9.41" fill="#e6f0f2"/>
<rect x="146.28" y="319.18" width="3.82" height="9.41" fill="#faf2c2"/>
<rect x="149.74" y="319.18" width="3.82" height="9.41" fill="#cadcec"/>
<rect x="153.21" y="319.18" width="3.82" height="9.41" fill="#faf2c2"/>
<rect x="156.68" y="319.18" width="3.82" height="9.41" fill="#e6f0f2"/>
<rect x="160.15" y="319.18" width="3.82" height="9.41" fill="#f9e5aa"/>
<rect x="163.62" y="319.18" width="3.82" height="9.41" fill="#faf2c2"/>
<rect x="167.09" y="319.18" width="3.82" height="9.41" fill="#f9e5aa"/>
<rect x="170.56" y="319.18" width="3.82" height="9.41" fill="#faf2c2"/>
<rect x="174.03" y="319.18" width="3.82" height="9.41" fill="#f9e5aa"/>
<rect x="177.50" y="319.18" width="3.82" height="9.41" fill="#f4c790"/>
<rect x="180.97" y="319.18" width="3.82" height="9.41" fill="#faf2c2"/>
<rect x="184.44" y="319.18" width="3.82" height="9.41" fill="#e99a6c"/>
<rect x="187.91" y="319.18" width="3.82" height="9.41" fill="#f4c790"/>
<rect x="191.38" y="319.18" width="3.82" height="9.41" fill="#f9e5aa"/>
<rect x="194.85" y="319.18" width="3.82" height="9.41" fill="#e99a6c"/>
<rect x="198.32" y="319.18" width="10.76" height="9.41" fill="#faf2c2"/>
<rect x="208.73" y="319.18" width="3.82" height="9.41" fill="#e6f0f2"/>
<rect x="212.20" y="319.18" width="3.82" height="9.41" fill="#faf2c2"/>
<rect x="215.67" y="319.18" width="3.82" height="9.41" fill="#e6f0f2"/>
<rect x="219.14" y="319.18" width="3.82" height="9.41" fill="#f9e5aa"/>
<rect x="222.61" y="319.18" width="3.82" height="9.41" fill="#e6f0f2"/>
<rect x="226.08" y="319.18" width="3.82" height="9.41" fill="#f4c790"/>
<rect x="229.55" y="319.18" width="3.82" height="9.41" fill="#f9e5aa"/>
<rect x="233.02" y="319.18" width="3.82" height="9.41" fill="#faf2c2"/>
<rect x="236.49" y="319.18" width="3.82" height="9.41" fill="#e6f0f2"/>
<rect x="239.96" y="319.18" width="7.29" height="9.41" fill="#faf2c2"/>
<rect x="246.89" y="319.18" width="3.82" height="9.41" fill="#e6f0f2"/>
<rect x="250.36" y="319.18" width="3.82" height="9.41" fill="#f9e5aa"/>
<rect x="253.83" y="319.18" width="7.29" height="9.41" fill="#f4c790"/>
<rect x="260.77" y="319.18" width="3.82" height="9.41" fill="#e99a6c"/>
<rect x="264.24" y="319.18" width="3.82" height="9.41" fill="#e6f0f2"/>
<rect x="267.71" y="319.18" width="3.82" height="9.41" fill="#faf2c2"/>
<rect x="271.18" y="319.18" width="3.82" height="9.41" fill="#f9e5aa"/>
<rect x="274.65" y="319.18" width="3.82" height="9.41" fill="#e6f0f2"/>
<rect x="278.12" y="319.18" width="3.82" height="9.41" fill="#cadcec"/>
<rect x="281.59" y="319.18" width="7.29" height="9.41" fill="#faf2c2"/>
<rect x="288.53" y="319.18" width="3.82" height="9.41" fill="#e6f0f2"/>
<rect x="97.70" y="328.24" width="3.82" height="9.41" fill="#faf2c2"/>
<rect x="101.17" y="328.24" width="3.82" height="9.41" fill="#e6f0f2"/>
<rect x="104.64" y="328.24" width="3.82" height="9.41" fill="#faf2c2"/>
<rect x="108.11" y="328.24" width="3.82" height="9.41" fill="#cadcec"/>
<rect x="111.58" y="328.24" width="3.82" height="9.41" fill="#faf2c2"/>
<rect x="115.05" y="328.24" width="3.82" height="9.41" fill="#e6f0f2"/>
<rect x="118.52" y="328.24" width="3.82" height="9.41" fill="#cadcec"/>
<rect x="121.99" y="328.24" width="3.82" height="9.41" fill="#e6f0f2"/>
<rect x="125.46" y="328.24" width="3.82" height="9.41" fill="#faf2c2"/>
<rect x="128.93" y="328.24" width="3.82" height="9.41" fill="#e6f0f2"/>
<rect x="132.40" y="328.24" width="7.29" height="9.41" fill="#cadcec"/>
<rect x="139.34" y="328.24" width="3.82" height="9.41" fill="#e6f0f2"/>
<rect x="142.81" y="328.24" width="3.82" height="9.41" fill="#faf2c2"/>
<rect x="146.28" y="328.24" width="3.82" height="9.41" fill="#cadcec"/>
<rect x="149.74" y="328.24" width="3.82" height="9.41" fill="#faf2c2"/>
<rect x="153.21" y="328.24" width="3.82" height="9.41" fill="#e6f0f2"/>
<rect x="156.68" y="328.24" width="3.82" height="9.41" fill="#faf2c2"/>
<rect x="160.15" y="328.24" width="3.82" height="9.41" fill="#f4c790"/>
<rect x="163.62" y="328.24" width="3.82" height="9.41" fill="#faf2c2"/>
<rect x="167.09" y="328.24" width="7.29" height="9.41" fill="#f9e5aa"/>
<rect x="174.03" y="328.24" width="3.82" height="9.41" fill="#faf2c2"/>
<rect x="177.50" y="328.24" width="3.82" height="9.41" fill="#f9e5aa"/>
<rect x="180.97" y="328.24" width="3.82" height="9.41" fill="#f4c790"/>
<rect x="184.44" y="328.24" width="3.82" height="9.41" fill="#faf2c2"/>
<rect x="187.91" y="328.24" width="3.82" height="9.41" fill="#f4c790"/>
<rect x="191.38" y="328.24" width="3.82" height="9.41" fill="#faf2c2"/>
<rect x="194.85" y="328.24" width="3.82" height="9.41" fill="#f9e5aa"/>
<rect x="198.32" y="328.24" width="3.82" height="9.41" fill="#faf2c2"/>
<rect x="201.79" y="328.24" width="3.82" height="9.41" fill="#f4c790"/>
<rect x="205.26" y="328.24" width="10.76" height="9.41" fill="#faf2c2"/>
<rect x="215.67" y="328.24" width="3.82" height="9.41" fill="#e99a6c"/>
<rect x="219.14" y="328.24" width="10.76" height="9.41" fill="#faf2c2"/>
<rect x="229.55" y="328.24" width="3.82" height="9.41" fill="#e6f0f2"/>
<rect x="233.02" y="328.24" width="3.82" height="9.41" fill="#faf2c2"/>
<rect x="236.49" y="328.24" width="3.82" height="9.41" fill="#e99a6c"/>
<rect x="239.96" y="328.24" width="3.82" height="9.41" fill="#faf2c2"/>
<rect x="243.43" y="328.24" width="3.82" height="9.41" fill="#f9e5aa"/>
<rect x="246.89" y="328.24" width="3.82" height="9.41" fill="#faf2c2"/>
<rect x="250.36" y="328.24" width="3.82" height="9.41" fill="#f4c790"/>
<rect x="253.83" y="328.24" width="3.82" height="9.41" fill="#faf2c2"/>
<rect x="257.30" y="328.24" width="3.82" height="9.41" fill="#f9e5aa"/>
<rect x="260.77" y="328.24" width="3.82" height="9.41" fill="#e6f0f2"/>
<rect x="264.24" y="328.24" width="3.82" height="9.41" fill="#faf2c2"/>
<rect x="267.71" y="328.24" width="3.82" height="9.41" fill="#f9e5aa"/>
<rect x="271.18" y="328.24" width="3.82" height="9.41" fill="#faf2c2"/>
<rect x="274.65" y="328.24" width="3.82" height="9.41" fill="#f4c790"/>
<rect x="278.12" y="328.24" width="10.76" height="9.41" fill="#faf2c2"/>
<rect x="288.53" y="328.24" width="3.82" height="9.41" fill="#f9e5aa"/>
<rect x="97.70" y="337.30" width="7.29" height="9.41" fill="#f9e5aa"/>
<rect x="104.64" y="337.30" width="7.29" height="9.41" fill="#faf2c2"/>
<rect x="111.58" y="337.30" width="3.82" height="9.41" fill="#e99a6c"/>
<rect x="115.05" y="337.30" width="3.82" height="9.41" fill="#faf2c2"/>
<rect x="118.52" y="337.30" width="3.82" height="9.41" fill="#f9e5aa"/>
<rect x="121.99" y="337.30" width="3.82" height="9.41" fill="#faf2c2"/>
<rect x="125.46" y="337.30" width="3.82" height="9.41" fill="#f9e5aa"/>
<rect x="128.93" y="337.30" width="7.29" height="9.41" fill="#faf2c2"/>
<rect x="135.87" y="337.30" width="3.82" height="9.41" fill="#e6f0f2"/>
<rect x="139.34" y="337.30" width="10.76" height="9.41" fill="#faf2c2"/>
<rect x="149.74" y="337.30" width="3.82" height="9.41" fill="#e6f0f2"/>
<rect x="153.21" y="337.30" width="7.29" height="9.41" fill="#faf2c2"/>
<rect x="160.15" y="337.30" width="3.82" height="9.41" fill="#f4c790"/>
<rect x="163.62" y="337.30" width="3.82" height="9.41" fill="#f9e5aa"/>
<rect x="167.09" y="337.30" width="3.82" height="9.41" fill="#faf2c2"/>
<rect x="170.56" y="337.30" width="3.82" height="9.41" fill="#f4c790"/>
<rect x="174.03" y="337.30" width="3.82" height="9.41" fill="#f9e5aa"/>
<rect x="177.50" y="337.30" width="3.82" height="9.41" fill="#faf2c2"/>
<rect x="180.97" y="337.30" width="3.82" height="9.41" fill="#f9e5aa"/>
<rect x="184.44" y="337.30" width="3.82" height="9.41" fill="#f4c790"/>
<rect x="187.91" y="337.30" width="3.82" height="9.41" fill="#f9e5aa"/>
<rect x="191.38" y="337.30" width="3.82" height="9.41" fill="#f4c790"/>
<rect x="194.85" y="337.30" width="3.82" height="9.41" fill="#faf2c2"/>
<rect x="198.32" y="337.30" width="3.82" height="9.41" fill="#e6f0f2"/>
<rect x="201.79" y="337.30" width="3.82" height="9.41" fill="#faf2c2"/>
<rect x="205.26" y="337.30" width="3.82" height="9.41" fill="#e6f0f2"/>
<rect x="208.73" y="337.30" width="3.82" height="9.41" fill="#faf2c2"/>
<rect x="212.20" y="337.30" width="3.82" height="9.41" fill="#e6f0f2"/>
<rect x="215.67" y="337.30" width="3.82" height="9.41" fill="#f9e5aa"/>
<rect x="219.14" y="337.30" width="3.82" height="9.41" fill="#cadcec"/>
<rect x="222.61" y="337.30" width="3.82" height="9.41" fill="#faf2c2"/>
<rect x="226.08" y="337.30" width="3.82" height="9.41" fill="#e6f0f2"/>
<rect x="229.55" y="337.30" width="3.82" height="9.41" fill="#cadcec"/>
<rect x="233.02" y="337.30" width="3.82" height="9.41" fill="#faf2c2"/>
<rect x="236.49" y="337.30" width="3.82" height="9.41" fill="#f9e5aa"/>
<rect x="239.96" y="337.30" width="7.29" height="9.41" fill="#e6f0f2"/>
<rect x="246.89" y="337.30" width="7.29" height="9.41" fill="#faf2c2"/>
<rect x="253.83" y="337.30" width="3.82" height="9.41" fill="#e6f0f2"/>
<rect x="257.30" y="337.30" width="3.82" height="9.41" fill="#faf2c2"/>
<rect x="260.77" y="337.30" width="3.82" height="9.41" fill="#f9e5aa"/>
<rect x="264.24" y="337.30" width="3.82" height="9.41" fill="#faf2c2"/>
<rect x="267.71" y="337.30" width="3.82" height="9.41" fill="#e6f0f2"/>
<rect x="271.18" y="337.30" width="3.82" height="9.41" fill="#cadcec"/>
<rect x="274.65" y="337.30" width="3.82" height="9.41" fill="#92b0d6"/>
<rect x="278.12" y="337.30" width="3.82" height="9.41" fill="#e6f0f2"/>
<rect x="281.59" y="337.30" width="3.82" height="9.41" fill="#faf2c2"/>
<rect x="285.06" y="337.30" width="3.82" height="9.41" fill="#e6f0f2"/>
<rect x="288.53" y="337.30" width="3.82" height="9.41" fill="#faf2c2"/>
<rect x="97.70" y="346.36" width="3.82" height="9.41" fill="#faf2c2"/>
<rect x="101.17" y="346.36" width="3.82" height="9.41" fill="#f9e5aa"/>
<rect x="104.64" y="346.36" width="7.29" height="9.41" fill="#faf2c2"/>
<rect x="111.58" y="346.36" width="3.82" height="9.41" fill="#e99a6c"/>
<rect x="115.05" y="346.36" width="10.76" height="9.41" fill="#faf2c2"/>
<rect x="125.46" y="346.36" width="7.29" height="9.41" fill="#e6f0f2"/>
<rect x="132.40" y="346.36" width="3.82" height="9.41" fill="#faf2c2"/>
<rect x="135.87" y="346.36" width="7.29" height="9.41" fill="#e6f0f2"/>
<rect x="142.81" y="346.36" width="3.82" height="9.41" fill="#faf2c2"/>
<rect x="146.28" y="346.36" width="7.29" height="9.41" fill="#e6f0f2"/>
<rect x="153.21" y="346.36" width="3.82" height="9.41" fill="#faf2c2"/>
<rect x="156.68" y="346.36" width="7.29" height="9.41" fill="#e99a6c"/>
<rect x="163.62" y="346.36" width="3.82" height="9.41" fill="#faf2c2"/>
<rect x="167.09" y="346.36" width="3.82" height="9.41" fill="#f4c790"/>
<rect x="170.56" y="346.36" width="3.82" height="9.41" fill="#f9e5aa"/>
<rect x="174.03" y="346.36" width="3.82" height="9.41" fill="#faf2c2"/>
<rect x="177.50" y="346.36" width="3.82" height="9.41" fill="#f9e5aa"/>
<rect x="180.97" y="346.36" width="7.29" height="9.41" fill="#faf2c2"/>
<rect x="187.91" y="346.36" width="3.82" height="9.41" fill="#f9e5aa"/>
<rect x="191.38" y="346.36" width="3.82" height="9.41" fill="#faf2c2"/>
<rect x="194.85" y="346.36" width="3.82" height="9.41" fill="#f9e5aa"/>
<rect x="198.32" y="346.36" width="3.82" height="9.41" fill="#e6f0f2"/>
<rect x="201.79" y="346.36" width="10.76" height="9.41" fill="#faf2c2"/>
<rect x="212.20" y="346.36" width="3.82" height="9.41" fill="#e6f0f2"/>
<rect x="215.67" y="346.36" width="7.29" height="9.41" fill="#faf2c2"/>
<rect x="222.61" y="346.36" width="3.82" height="9.41" fill="#f9e5aa"/>
<rect x="226.08" y="346.36" width="3.82" height="9.41" fill="#faf2c2"/>
<rect x="229.55" y="346.36" width="3.82" height="9.41" fill="#e6f0f2"/>
<rect x="233.02" y="346.36" width="10.76" height="9.41" fill="#faf2c2"/>
<rect x="243.43" y="346.36" width="3.82" height="9.41" fill="#cadcec"/>
<rect x="246.89" y="346.36" width="3.82" height="9.41" fill="#e6f0f2"/>
<rect x="250.36" y="346.36" width="3.82" height="9.41" fill="#faf2c2"/>
<rect x="253.83" y="346.36" width="3.82" height="9.41" fill="#e6f0f2"/>
<rect x="257.30" y="346.36" width="14.23" height="9.41" fill="#faf2c2"/>
<rect x="271.18" y="346.36" width="3.82" height="9.41" fill="#e6f0f2"/>
<rect x="274.65" y="346.36" width="10.76" height="9.41" fill="#faf2c2"/>
<rect x="285.06" y="346.36" width="3.82" height="9.41" fill="#e6f0f2"/>
<rect x="288.53" y="346.36" width="3.82" height="9.41" fill="#faf2c2"/>
<rect x="97.70" y="355.42" width="3.82" height="9.41" fill="#f9e5aa"/>
<rect x="101.17" y="355.42" width="3.82" height="9.41" fill="#faf2c2"/>
<rect x="104.64" y="355.42" width="3.82" height="9.41" fill="#f9e5aa"/>
<rect x="108.11" y="355.42" width="3.82" height="9.41" fill="#f4c790"/>
<rect x="111.58" y="355.42" width="3.82" height="9.41" fill="#faf2c2"/>
<rect x="115.05" y="355.42" width="3.82" height="9.41" fill="#f9e5aa"/>
<rect x="118.52" y="355.42" width="14.23" height="9.41" fill="#faf2c2"/>
<rect x="132.40" y="355.42" width="7.29" height="9.41" fill="#e6f0f2"/>
<rect x="139.34" y="355.42" width="3.82" height="9.41" fill="#faf2c2"/>
<rect x="142.81" y="355.42" width="10.76" height="9.41" fill="#e6f0f2"/>
<rect x="153.21" y="355.42" width="7.29" height="9.41" fill="#f9e5aa"/>
<rect x="160.15" y="355.42" width="3.82" height="9.41" fill="#f4c790"/>
<rect x="163.62" y="355.42" width="3.82" height="9.41" fill="#f9e5aa"/>
<rect x="167.09" y="355.42" width="3.82" height="9.41" fill="#faf2c2"/>
<rect x="170.56" y="355.42" width="3.82" height="9.41" fill="#f4c790"/>
<rect x="174.03" y="355.42" width="3.82" height="9.41" fill="#f9e5aa"/>
<rect x="177.50" y="355.42" width="7.29" height="9.41" fill="#f4c790"/>
<rect x="184.44" y="355.42" width="3.82" height="9.41" fill="#f9e5aa"/>
<rect x="187.91" y="355.42" width="3.82" height="9.41" fill="#f4c790"/>
<rect x="191.38" y="355.42" width="3.82" height="9.41" fill="#e99a6c"/>
<rect x="194.85" y="355.42" width="3.82" height="9.41" fill="#faf2c2"/>
<rect x="198.32" y="355.42" width="3.82" height="9.41" fill="#e6f0f2"/>
<rect x="201.79" y="355.42" width="3.82" height="9.41" fill="#faf2c2"/>
<rect x="205.26" y="355.42" width="3.82" height="9.41" fill="#e6f0f2"/>
<rect x="208.73" y="355.42" width="3.82" height="9.41" fill="#faf2c2"/>
<rect x="212.20" y="355.42" width="3.82" height="9.41" fill="#cadcec"/>
<rect x="215.67" y="355.42" width="3.82" height="9.41" fill="#faf2c2"/>
<rect x="219.14" y="355.42" width="3.82" height="9.41" fill="#e6f0f2"/>
<rect x="222.61" y="355.42" width="3.82" height="9.41" fill="#faf2c2"/>
<rect x="226.08" y="355.42" width="3.82" height="9.41" fill="#e6f0f2"/>
<rect x="229.55" y="355.42" width="3.82" height="9.41" fill="#faf2c2"/>
<rect x="233.02" y="355.42" width="3.82" height="9.41" fill="#e6f0f2"/>
<rect x="236.49" y="355.42" width="10.76" height="9.41" fill="#faf2c2"/>
<rect x="246.89" y="355.42" width="3.82" height="9.41" fill="#cadcec"/>
<rect x="250.36" y="355.42" width="3.82" height="9.41" fill="#faf2c2"/>
<rect x="253.83" y="355.42" width="3.82" height="9.41" fill="#e6f0f2"/>
<rect x="257.30" y="355.42" width="3.82" height="9.41" fill="#faf2c2"/>
<rect x="260.77" y="355.42" width="3.82" height="9.41" fill="#f4c790"/>
<rect x="264.24" y="355.42" width="3.82" height="9.41" fill="#f9e5aa"/>
<rect x="267.71" y="355.42" width="3.82" height="9.41" fill="#faf2c2"/>
<rect x="271.18" y="355.42" width="3.82" height="9.41" fill="#e6f0f2"/>
<rect x="274.65" y="355.42" width="3.82" height="9.41" fill="#faf2c2"/>
<rect x="278.12" y="355.42" width="3.82" height="9.41" fill="#e6f0f2"/>
<rect x="281.59" y="355.42" width="3.82" height="9.41" fill="#faf2c2"/>
<rect x="285.06" y="355.42" width="3.82" height="9.41" fill="#e6f0f2"/>
<rect x="288.53" y="355.42" width="3.82" height="9.41" fill="#faf2c2"/>
<rect x="97.70" y="364.48" width="3.82" height="9.41" fill="#f9e5aa"/>
<rect x="101.17" y="364.48" width="3.82" height="9.41" fill="#faf2c2"/>
<rect x="104.64" y="364.48" width="7.29" height="9.41" fill="#f9e5aa"/>
<rect x="111.58" y="364.48" width="3.82" height="9.41" fill="#faf2c2"/>
<rect x="115.05" y="364.48" width="3.82" height="9.41" fill="#f4c790"/>
<rect x="118.52" y="364.48" width="3.82" height="9.41" fill="#f9e5aa"/>
<rect x="121.99" y="364.48" width="7.29" height="9.41" fill="#faf2c2"/>
<rect x="128.93" y="364.48" width="3.82" height="9.41" fill="#f9e5aa"/>
<rect x="132.40" y="364.48" width="7.29" height="9.41" fill="#faf2c2"/>
<rect x="139.34" y="364.48" width="3.82" height="9.41" fill="#e6f0f2"/>
<rect x="142.81" y="364.48" width="3.82" height="9.41" fill="#faf2c2"/>
<rect x="146.28" y="364.48" width="3.82" height="9.41" fill="#e6f0f2"/>
<rect x="149.74" y="364.48" width="3.82" height="9.41" fill="#faf2c2"/>
<rect x="153.21" y="364.48" width="3.82" height="9.41" fill="#f9e5aa"/>
<rect x="156.68" y="364.48" width="3.82" height="9.41" fill="#faf2c2"/>
<rect x="160.15" y="364.48" width="3.82" height="9.41" fill="#f9e5aa"/>
<rect x="163.62" y="364.48" width="3.82" height="9.41" fill="#faf2c2"/>
<rect x="167.09" y="364.48" width="7.29" height="9.41" fill="#f9e5aa"/>
<rect x="174.03" y="364.48" width="3.82" height="9.41" fill="#faf2c2"/>
<rect x="177.50" y="364.48" width="3.82" height="9.41" fill="#f9e5aa"/>
<rect x="180.97" y="364.48" width="3.82" height="9.41" fill="#faf2c2"/>
<rect x="184.44" y="364.48" width="3.82" height="9.41" fill="#f9e5aa"/>
<rect x="187.91" y="364.48" width="7.29" height="9.41" fill="#faf2c2"/>
<rect x="194.85" y="364.48" width="3.82" height="9.41" fill="#e6f0f2"/>
<rect x="198.32" y="364.48" width="10.76" height="9.41" fill="#faf2c2"/>
<rect x="208.73" y="364.48" width="3.82" height="9.41" fill="#e6f0f2"/>
<rect x="212.20" y="364.48" width="7.29" height="9.41" fill="#faf2c2"/>
<rect x="219.14" y="364.48" width="3.82" height="9.41" fill="#e6f0f2"/>
<rect x="222.61" y="364.48" width="10.76" height="9.41" fill="#faf2c2"/>
<rect x="233.02" y="364.48" width="3.82" height="9.41" fill="#e6f0f2"/>
<rect x="236.49" y="364.48" width="3.82" height="9.41" fill="#faf2c2"/>
<rect x="239.96" y="364.48" width="3.82" height="9.41" fill="#f9e5aa"/>
<rect x="243.43" y="364.48" width="3.82" height="9.41" fill="#faf2c2"/>
<rect x="246.89" y="364.48" width="3.82" height="9.41" fill="#e6f0f2"/>
<rect x="250.36" y="364.48" width="7.29" height="9.41" fill="#faf2c2"/>
<rect x="257.30" y="364.48" width="3.82" height="9.41" fill="#e6f0f2"/>
<rect x="260.77" y="364.48" width="7.29" height="9.41" fill="#faf2c2"/>
<rect x="267.71" y="364.48" width="3.82" height="9.41" fill="#e6f0f2"/>
<rect x="271.18" y="364.48" width="7.29" height="9.41" fill="#faf2c2"/>
<rect x="278.12" y="364.48" width="3.82" height="9.41" fill="#e6f0f2"/>
<rect x="281.59" y="364.48" width="3.82" height="9.41" fill="#faf2c2"/>
<rect x="285.06" y="364.48" width="3.82" height="9.41" fill="#f9e5aa"/>
<rect x="288.53" y="364.48" width="3.82" height="9.41" fill="#f4c790"/>
<rect x="97.70" y="373.54" width="3.82" height="9.41" fill="#faf2c2"/>
<rect x="101.17" y="373.54" width="3.82" height="9.41" fill="#e6f0f2"/>
<rect x="104.64" y="373.54" width="3.82" height="9.41" fill="#faf2c2"/>
<rect x="108.11" y="373.54" width="3.82" height="9.41" fill="#e6f0f2"/>
<rect x="111.58" y="373.54" width="3.82" height="9.41" fill="#faf2c2"/>
<rect x="115.05" y="373.54" width="3.82" height="9.41" fill="#e6f0f2"/>
<rect x="118.52" y="373.54" width="3.82" height="9.41" fill="#faf2c2"/>
<rect x="121.99" y="373.54" width="3.82" height="9.41" fill="#e6f0f2"/>
<rect x="125.46" y="373.54" width="3.82" height="9.41" fill="#faf2c2"/>
<rect x="128.93" y="373.54" width="3.82" height="9.41" fill="#e6f0f2"/>
<rect x="132.40" y="373.54" width="3.82" height="9.41" fill="#faf2c2"/>
<rect x="135.87" y="373.54" width="3.82" height="9.41" fill="#f9e5aa"/>
<rect x="139.34" y="373.54" width="3.82" height="9.41" fill="#e6f0f2"/>
<rect x="142.81" y="373.54" width="3.82" height="9.41" fill="#cadcec"/>
<rect x="146.28" y="373.54" width="3.82" height="9.41" fill="#e6f0f2"/>
<rect x="149.74" y="373.54" width="3.82" height="9.41" fill="#faf2c2"/>
<rect x="153.21" y="373.54" width="3.82" height="9.41" fill="#f4c790"/>
<rect x="156.68" y="373.54" width="3.82" height="9.41" fill="#faf2c2"/>
<rect x="160.15" y="373.54" width="3.82" height="9.41" fill="#f9e5aa"/>
<rect x="163.62" y="373.54" width="3.82" height="9.41" fill="#f4c790"/>
<rect x="167.09" y="373.54" width="3.82" height="9.41" fill="#faf2c2"/>
<rect x="170.56" y="373.54" width="3.82" height="9.41" fill="#e6f0f2"/>
<rect x="174.03" y="373.54" width="3.82" height="9.41" fill="#faf2c2"/>
<rect x="177.50" y="373.54" width="3.82" height="9.41" fill="#f9e5aa"/>
<rect x="180.97" y="373.54" width="3.82" height="9.41" fill="#faf2c2"/>
<rect x="184.44" y="373.54" width="3.82" height="9.41" fill="#f4c790"/>
<rect x="187.91" y="373.54" width="3.82" height="9.41" fill="#e99a6c"/>
<rect x="191.38" y="373.54" width="3.82" height="9.41" fill="#f9e5aa"/>
<rect x="194.85" y="373.54" width="7.29" height="9.41" fill="#faf2c2"/>
<rect x="201.79" y="373.54" width="3.82" height="9.41" fill="#f4c790"/>
<rect x="205.26" y="373.54" width="7.29" height="9.41" fill="#faf2c2"/>
<rect x="212.20" y="373.54" width="3.82" height="9.41" fill="#e99a6c"/>
<rect x="215.67" y="373.54" width="3.82" height="9.41" fill="#faf2c2"/>
<rect x="219.14" y="373.54" width="3.82" height="9.41" fill="#f9e5aa"/>
<rect x="222.61" y="373.54" width="3.82" height="9.41" fill="#faf2c2"/>
<rect x="226.08" y="373.54" width="3.82" height="9.41" fill="#f4c790"/>
<rect x="229.55" y="373.54" width="3.82" height="9.41" fill="#faf2c2"/>
<rect x="233.02" y="373.54" width="3.82" height="9.41" fill="#f9e5aa"/>
<rect x="236.49" y="373.54" width="3.82" height="9.41" fill="#faf2c2"/>
<rect x="239.96" y="373.54" width="3.82" height="9.41" fill="#f4c790"/>
<rect x="243.43" y="373.54" width="7.29" height="9.41" fill="#faf2c2"/>
<rect x="250.36" y="373.54" width="3.82" height="9.41" fill="#e6f0f2"/>
<rect x="253.83" y="373.54" width="7.29" height="9.41" fill="#faf2c2"/>
<rect x="260.77" y="373.54" width="3.82" height="9.41" fill="#cadcec"/>
<rect x="264.24" y="373.54" width="3.82" height="9.41" fill="#e6f0f2"/>
<rect x="267.71" y="373.54" width="7.29" height="9.41" fill="#faf2c2"/>
<rect x="274.65" y="373.54" width="3.82" height="9.41" fill="#f4c790"/>
<rect x="278.12" y="373.54" width="3.82" height="9.41" fill="#faf2c2"/>
<rect x="281.59" y="373.54" width="3.82" height="9.41" fill="#f9e5aa"/>
<rect x="285.06" y="373.54" width="3.82" height="9.41" fill="#faf2c2"/>
<rect x="288.53" y="373.54" width="3.82" height="9.41" fill="#f4c790"/>
<rect x="97.70" y="382.60" width="3.82" height="9.41" fill="#faf2c2"/>
<rect x="101.17" y="382.60" width="3.82" height="9.41" fill="#e6f0f2"/>
<rect x="104.64" y="382.60" width="3.82" height="9.41" fill="#faf2c2"/>
<rect x="108.11" y="382.60" width="3.82" height="9.41" fill="#e6f0f2"/>
<rect x="111.58" y="382.60" width="7.29" height="9.41" fill="#faf2c2"/>
<rect x="118.52" y="382.60" width="3.82" height="9.41" fill="#e6f0f2"/>
<rect x="121.99" y="382.60" width="7.29" height="9.41" fill="#faf2c2"/>
<rect x="128.93" y="382.60" width="3.82" height="9.41" fill="#e6f0f2"/>
<rect x="132.40" y="382.60" width="3.82" height="9.41" fill="#f9e5aa"/>
<rect x="135.87" y="382.60" width="3.82" height="9.41" fill="#faf2c2"/>
<rect x="139.34" y="382.60" width="3.82" height="9.41" fill="#e6f0f2"/>
<rect x="142.81" y="382.60" width="3.82" height="9.41" fill="#faf2c2"/>
<rect x="146.28" y="382.60" width="3.82" height="9.41" fill="#e6f0f2"/>
<rect x="149.74" y="382.60" width="3.82" height="9.41" fill="#faf2c2"/>
<rect x="153.21" y="382.60" width="3.82" height="9.41" fill="#e6f0f2"/>
<rect x="156.68" y="382.60" width="3.82" height="9.41" fill="#faf2c2"/>
<rect x="160.15" y="382.60" width="7.29" height="9.41" fill="#e99a6c"/>
<rect x="167.09" y="382.60" width="3.82" height="9.41" fill="#f4c790"/>
<rect x="170.56" y="382.60" width="3.82" height="9.41" fill="#faf2c2"/>
<rect x="174.03" y="382.60" width="3.82" height="9.41" fill="#e6f0f2"/>
<rect x="177.50" y="382.60" width="7.29" height="9.41" fill="#faf2c2"/>
<rect x="184.44" y="382.60" width="3.82" height="9.41" fill="#e6f0f2"/>
<rect x="187.91" y="382.60" width="3.82" height="9.41" fill="#faf2c2"/>
<rect x="191.38" y="382.60" width="3.82" height="9.41" fill="#f4c790"/>
<rect x="194.85" y="382.60" width="3.82" height="9.41" fill="#e99a6c"/>
<rect x="198.32" y="382.60" width="3.82" height="9.41" fill="#f4c790"/>
<rect x="201.79" y="382.60" width="3.82" height="9.41" fill="#f9e5aa"/>
<rect x="205.26" y="382.60" width="3.82" height="9.41" fill="#e99a6c"/>
<rect x="208.73" y="382.60" width="7.29" height="9.41" fill="#faf2c2"/>
<rect x="215.67" y="382.60" width="3.82" height="9.41" fill="#f9e5aa"/>
<rect x="219.14" y="382.60" width="3.82" height="9.41" fill="#faf2c2"/>
<rect x="222.61" y="382.60" width="3.82" height="9.41" fill="#f9e5aa"/>
<rect x="226.08" y="382.60" width="3.82" height="9.41" fill="#e6f0f2"/>
<rect x="229.55" y="382.60" width="7.29" height="9.41" fill="#faf2c2"/>
<rect x="236.49" y="382.60" width="3.82" height="9.41" fill="#e6f0f2"/>
<rect x="239.96" y="382.60" width="10.76" height="9.41" fill="#faf2c2"/>
<rect x="250.36" y="382.60" width="3.82" height="9.41" fill="#f9e5aa"/>
<rect x="253.83" y="382.60" width="3.82" height="9.41" fill="#e99a6c"/>
<rect x="257.30" y="382.60" width="3.82" height="9.41" fill="#faf2c2"/>
<rect x="260.77" y="382.60" width="3.82" height="9.41" fill="#f9e5aa"/>
<rect x="264.24" y="382.60" width="3.82" height="9.41" fill="#f4c790"/>
<rect x="267.71" y="382.60" width="3.82" height="9.41" fill="#faf2c2"/>
<rect x="271.18" y="382.60" width="3.82" height="9.41" fill="#e6f0f2"/>
<rect x="274.65" y="382.60" width="3.82" height="9.41" fill="#f9e5aa"/>
<rect x="278.12" y="382.60" width="3.82" height="9.41" fill="#f4c790"/>
<rect x="281.59" y="382.60" width="3.82" height="9.41" fill="#f9e5aa"/>
<rect x="285.06" y="382.60" width="3.82" height="9.41" fill="#faf2c2"/>
<rect x="288.53" y="382.60" width="3.82" height="9.41" fill="#f9e5aa"/>
<rect x="97.70" y="391.66" width="3.82" height="9.41" fill="#faf2c2"/>
<rect x="101.17" y="391.66" width="3.82" height="9.41" fill="#cadcec"/>
<rect x="104.64" y="391.66" width="3.82" height="9.41" fill="#faf2c2"/>
<rect x="108.11" y="391.66" width="3.82" height="9.41" fill="#e6f0f2"/>
<rect x="111.58" y="391.66" width="3.82" height="9.41" fill="#faf2c2"/>
<rect x="115.05" y="391.66" width="3.82" height="9.41" fill="#e6f0f2"/>
<rect x="118.52" y="391.66" width="3.82" height="9.41" fill="#faf2c2"/>
<rect x="121.99" y="391.66" width="7.29" height="9.41" fill="#e6f0f2"/>
<rect x="128.93" y="391.66" width="3.82" height="9.41" fill="#faf2c2"/>
<rect x="132.40" y="391.66" width="3.82" height="9.41" fill="#e6f0f2"/>
<rect x="135.87" y="391.66" width="3.82" height="9.41" fill="#faf2c2"/>
<rect x="139.34" y="391.66" width="3.82" height="9.41" fill="#e6f0f2"/>
<rect x="142.81" y="391.66" width="7.29" height="9.41" fill="#faf2c2"/>
<rect x="149.74" y="391.66" width="3.82" height="9.41" fill="#e6f0f2"/>
<rect x="153.21" y="391.66" width="7.29" height="9.41" fill="#faf2c2"/>
<rect x="160.15" y="391.66" width="3.82" height="9.41" fill="#e99a6c"/>
<rect x="163.62" y="391.66" width="3.82" height="9.41" fill="#faf2c2"/>
<rect x="167.09" y="391.66" width="3.82" height="9.41" fill="#f9e5aa"/>
<rect x="170.56" y="391.66" width="10.76" height="9.41" fill="#faf2c2"/>
<rect x="180.97" y="391.66" width="3.82" height="9.41" fill="#f4c790"/>
<rect x="184.44" y="391.66" width="3.82" height="9.41" fill="#e99a6c"/>
<rect x="187.91" y="391.66" width="7.29" height="9.41" fill="#faf2c2"/>
<rect x="194.85" y="391.66" width="7.29" height="9.41" fill="#e99a6c"/>
<rect x="201.79" y="391.66" width="3.82" height="9.41" fill="#f4c790"/>
<rect x="205.26" y="391.66" width="3.82" height="9.41" fill="#faf2c2"/>
<rect x="208.73" y="391.66" width="3.82" height="9.41" fill="#f9e5aa"/>
<rect x="212.20" y="391.66" width="3.82" height="9.41" fill="#faf2c2"/>
<rect x="215.67" y="391.66" width="3.82" height="9.41" fill="#f4c790"/>
<rect x="219.14" y="391.66" width="7.29" height="9.41" fill="#faf2c2"/>
<rect x="226.08" y="391.66" width="3.82" height="9.41" fill="#e6f0f2"/>
<rect x="229.55" y="391.66" width="7.29" height="9.41" fill="#faf2c2"/>
<rect x="236.49" y="391.66" width="3.82" height="9.41" fill="#e6f0f2"/>
<rect x="239.96" y="391.66" width="10.76" height="9.41" fill="#faf2c2"/>
<rect x="250.36" y="391.66" width="3.82" height="9.41" fill="#f9e5aa"/>
<rect x="253.83" y="391.66" width="3.82" height="9.41" fill="#faf2c2"/>
<rect x="257.30" y="391.66" width="3.82" height="9.41" fill="#e6f0f2"/>
<rect x="260.77" y="391.66" width="3.82" height="9.41" fill="#faf2c2"/>
<rect x="264.24" y="391.66" width="3.82" height="9.41" fill="#f4c790"/>
<rect x="267.71" y="391.66" width="3.82" height="9.41" fill="#faf2c2"/>
<rect x="271.18" y="391.66" width="3.82" height="9.41" fill="#f9e5aa"/>
<rect x="274.65" y="391.66" width="7.29" height="9.41" fill="#faf2c2"/>
<rect x="281.59" y="391.66" width="3.82" height="9.41" fill="#f9e5aa"/>
<rect x="285.06" y="391.66" width="3.82" height="9.41" fill="#faf2c2"/>
<rect x="288.53" y="391.66" width="3.82" height="9.41" fill="#e6f0f2"/>
<rect x="97.70" y="400.72" width="3.82" height="9.41" fill="#f9e5aa"/>
<rect x="101.17" y="400.72" width="3.82" height="9.41" fill="#faf2c2"/>
<rect x="104.64" y="400.72" width="3.82" height="9.41" fill="#f9e5aa"/>
<rect x="108.11" y="400.72" width="3.82" height="9.41" fill="#faf2c2"/>
<rect x="111.58" y="400.72" width="3.82" height="9.41" fill="#f9e5aa"/>
<rect x="115.05" y="400.72" width="3.82" height="9.41" fill="#faf2c2"/>
<rect x="118.52" y="400.72" width="3.82" height="9.41" fill="#cadcec"/>
<rect x="121.99" y="400.72" width="3.82" height="9.41" fill="#f9e5aa"/>
<rect x="125.46" y="400.72" width="3.82" height="9.41" fill="#faf2c2"/>
<rect x="128.93" y="400.72" width="3.82" height="9.41" fill="#f9e5aa"/>
<rect x="132.40" y="400.72" width="3.82" height="9.41" fill="#faf2c2"/>
<rect x="135.87" y="400.72" width="3.82" height="9.41" fill="#e6f0f2"/>
<rect x="139.34" y="400.72" width="3.82" height="9.41" fill="#faf2c2"/>
<rect x="142.81" y="400.72" width="3.82" height="9.41" fill="#f9e5aa"/>
<rect x="146.28" y="400.72" width="3.82" height="9.41" fill="#e6f0f2"/>
<rect x="149.74" y="400.72" width="3.82" height="9.41" fill="#faf2c2"/>
<rect x="153.21" y="400.72" width="3.82" height="9.41" fill="#e6f0f2"/>
<rect x="156.68" y="400.72" width="7.29" height="9.41" fill="#faf2c2"/>
<rect x="163.62" y="400.72" width="3.82" height="9.41" fill="#e6f0f2"/>
<rect x="167.09" y="400.72" width="3.82" height="9.41" fill="#cadcec"/>
<rect x="170.56" y="400.72" width="3.82" height="9.41" fill="#e99a6c"/>
<rect x="174.03" y="400.72" width="3.82" height="9.41" fill="#faf2c2"/>
<rect x="177.50" y="400.72" width="3.82" height="9.41" fill="#f4c790"/>
<rect x="180.97" y="400.72" width="3.82" height="9.41" fill="#faf2c2"/>
<rect x="184.44" y="400.72" width="3.82" height="9.41" fill="#e6f0f2"/>
<rect x="187.91" y="400.72" width="3.82" height="9.41" fill="#faf2c2"/>
<rect x="191.38" y="400.72" width="3.82" height="9.41" fill="#f9e5aa"/>
<rect x="194.85" y="400.72" width="3.82" height="9.41" fill="#e99a6c"/>
<rect x="198.32" y="400.72" width="3.82" height="9.41" fill="#faf2c2"/>
<rect x="201.79" y="400.72" width="3.82" height="9.41" fill="#e99a6c"/>
<rect x="205.26" y="400.72" width="3.82" height="9.41" fill="#faf2c2"/>
<rect x="208.73" y="400.72" width="3.82" height="9.41" fill="#e6f0f2"/>
<rect x="212.20" y="400.72" width="7.29" height="9.41" fill="#faf2c2"/>
<rect x="219.14" y="400.72" width="3.82" height="9.41" fill="#e6f0f2"/>
<rect x="222.61" y="400.72" width="3.82" height="9.41" fill="#faf2c2"/>
<rect x="226.08" y="400.72" width="3.82" height="9.41" fill="#f4c790"/>
<rect x="229.55" y="400.72" width="7.29" height="9.41" fill="#faf2c2"/>
<rect x="236.49" y="400.72" width="3.82" height="9.41" fill="#e6f0f2"/>
<rect x="239.96" y="400.72" width="17.70" height="9.41" fill="#faf2c2"/>
<rect x="257.30" y="400.72" width="3.82" height="9.41" fill="#cadcec"/>
<rect x="260.77" y="400.72" width="7.29" height="9.41" fill="#faf2c2"/>
<rect x="267.71" y="400.72" width="3.82" height="9.41" fill="#e6f0f2"/>
<rect x="271.18" y="400.72" width="3.82" height="9.41" fill="#faf2c2"/>
<rect x="274.65" y="400.72" width="3.82" height="9.41" fill="#f9e5aa"/>
<rect x="278.12" y="400.72" width="10.76" height="9.41" fill="#faf2c2"/>
<rect x="288.53" y="400.72" width="3.82" height="9.41" fill="#e6f0f2"/>
<rect x="97.70" y="409.78" width="7.29" height="9.41" fill="#faf2c2"/>
<rect x="104.64" y="409.78" width="3.82" height="9.41" fill="#f9e5aa"/>
<rect x="108.11" y="409.78" width="10.76" height="9.41" fill="#faf2c2"/>
<rect x="118.52" y="409.78" width="3.82" height="9.41" fill="#f9e5aa"/>
<rect x="121.99" y="409.78" width="31.58" height="9.41" fill="#faf2c2"/>
<rect x="153.21" y="409.78" width="3.82" height="9.41" fill="#f9e5aa"/>
<rect x="156.68" y="409.78" width="3.82" height="9.41" fill="#faf2c2"/>
<rect x="160.15" y="409.78" width="7.29" height="9.41" fill="#f9e5aa"/>
<rect x="167.09" y="409.78" width="31.58" height="9.41" fill="#faf2c2"/>
<rect x="198.32" y="409.78" width="3.82" height="9.41" fill="#e6f0f2"/>
<rect x="201.79" y="409.78" width="38.52" height="9.41" fill="#faf2c2"/>
<rect x="239.96" y="409.78" width="3.82" height="9.41" fill="#f9e5aa"/>
<rect x="243.43" y="409.78" width="24.64" height="9.41" fill="#faf2c2"/>
<rect x="267.71" y="409.78" width="3.82" height="9.41" fill="#f9e5aa"/>
<rect x="271.18" y="409.78" width="17.70" height="9.41" fill="#faf2c2"/>
<rect x="288.53" y="409.78" width="3.82" height="9.41" fill="#f9e5aa"/>
<rect x="97.70" y="418.84" width="3.82" height="9.41" fill="#f9e5aa"/>
<rect x="101.17" y="418.84" width="3.82" height="9.41" fill="#faf2c2"/>
<rect x="104.64" y="418.84" width="3.82" height="9.41" fill="#f9e5aa"/>
<rect x="108.11" y="418.84" width="3.82" height="9.41" fill="#faf2c2"/>
<rect x="111.58" y="418.84" width="3.82" height="9.41" fill="#f9e5aa"/>
<rect x="115.05" y="418.84" width="3.82" height="9.41" fill="#faf2c2"/>
<rect x="118.52" y="418.84" width="7.29" height="9.41" fill="#f9e5aa"/>
<rect x="125.46" y="418.84" width="7.29" height="9.41" fill="#faf2c2"/>
<rect x="132.40" y="418.84" width="7.29" height="9.41" fill="#f9e5aa"/>
<rect x="139.34" y="418.84" width="14.23" height="9.41" fill="#faf2c2"/>
<rect x="153.21" y="418.84" width="3.82" height="9.41" fill="#e6f0f2"/>
<rect x="156.68" y="418.84" width="7.29" height="9.41" fill="#faf2c2"/>
<rect x="163.62" y="418.84" width="3.82" height="9.41" fill="#e6f0f2"/>
<rect x="167.09" y="418.84" width="10.76" height="9.41" fill="#faf2c2"/>
<rect x="177.50" y="418.84" width="3.82" height="9.41" fill="#f9e5aa"/>
<rect x="180.97" y="418.84" width="21.17" height="9.41" fill="#faf2c2"/>
<rect x="201.79" y="418.84" width="3.82" height="9.41" fill="#f9e5aa"/>
<rect x="205.26" y="418.84" width="31.58" height="9.41" fill="#faf2c2"/>
<rect x="236.49" y="418.84" width="3.82" height="9.41" fill="#e6f0f2"/>
<rect x="239.96" y="418.84" width="7.29" height="9.41" fill="#faf2c2"/>
<rect x="246.89" y="418.84" width="3.82" height="9.41" fill="#f9e5aa"/>
<rect x="250.36" y="418.84" width="24.64" height="9.41" fill="#faf2c2"/>
<rect x="274.65" y="418.84" width="3.82" height="9.41" fill="#f9e5aa"/>
<rect x="278.12" y="418.84" width="14.23" height="9.41" fill="#faf2c2"/>
<rect x="97.70" y="427.90" width="3.82" height="9.41" fill="#faf2c2"/>
<rect x="101.17" y="427.90" width="3.82" height="9.41" fill="#f9e5aa"/>
<rect x="104.64" y="427.90" width="7.29" height="9.41" fill="#faf2c2"/>
<rect x="111.58" y="427.90" width="3.82" height="9.41" fill="#e6f0f2"/>
<rect x="115.05" y="427.90" width="7.29" height="9.41" fill="#faf2c2"/>
<rect x="121.99" y="427.90" width="3.82" height="9.41" fill="#e6f0f2"/>
<rect x="125.46" y="427.90" width="10.76" height="9.41" fill="#faf2c2"/>
<rect x="135.87" y="427.90" width="3.82" height="9.41" fill="#e6f0f2"/>
<rect x="139.34" y="427.90" width="7.29" height="9.41" fill="#faf2c2"/>
<rect x="146.28" y="427.90" width="3.82" height="9.41" fill="#e6f0f2"/>
<rect x="149.74" y="427.90" width="10.76" height="9.41" fill="#faf2c2"/>
<rect x="160.15" y="427.90" width="3.82" height="9.41" fill="#e6f0f2"/>
<rect x="163.62" y="427.90" width="3.82" height="9.41" fill="#faf2c2"/>
<rect x="167.09" y="427.90" width="3.82" height="9.41" fill="#e6f0f2"/>
<rect x="170.56" y="427.90" width="3.82" height="9.41" fill="#faf2c2"/>
<rect x="174.03" y="427.90" width="14.23" height="9.41" fill="#f9e5aa"/>
<rect x="187.91" y="427.90" width="10.76" height="9.41" fill="#faf2c2"/>
<rect x="198.32" y="427.90" width="3.82" height="9.41" fill="#f9e5aa"/>
<rect x="201.79" y="427.90" width="3.82" height="9.41" fill="#faf2c2"/>
<rect x="205.26" y="427.90" width="3.82" height="9.41" fill="#f9e5aa"/>
<rect x="208.73" y="427.90" width="7.29" height="9.41" fill="#faf2c2"/>
<rect x="215.67" y="427.90" width="3.82" height="9.41" fill="#f9e5aa"/>
<rect x="219.14" y="427.90" width="10.76" height="9.41" fill="#faf2c2"/>
<rect x="229.55" y="427.90" width="7.29" height="9.41" fill="#f9e5aa"/>
<rect x="236.49" y="427.90" width="14.23" height="9.41" fill="#faf2c2"/>
<rect x="250.36" y="427.90" width="3.82" height="9.41" fill="#e6f0f2"/>
<rect x="253.83" y="427.90" width="3.82" height="9.41" fill="#faf2c2"/>
<rect x="257.30" y="427.90" width="3.82" height="9.41" fill="#f9e5aa"/>
<rect x="260.77" y="427.90" width="7.29" height="9.41" fill="#faf2c2"/>
<rect x="267.71" y="427.90" width="3.82" height="9.41" fill="#e6f0f2"/>
<rect x="271.18" y="427.90" width="3.82" height="9.41" fill="#faf2c2"/>
<rect x="274.65" y="427.90" width="3.82" height="9.41" fill="#f4c790"/>
<rect x="278.12" y="427.90" width="7.29" height="9.41" fill="#faf2c2"/>
<rect x="285.06" y="427.90" width="3.82" height="9.41" fill="#e6f0f2"/>
<rect x="288.53" y="427.90" width="3.82" height="9.41" fill="#faf2c2"/>
<rect x="97.70" y="436.96" width="3.82" height="9.41" fill="#faf2c2"/>
<rect x="101.17" y="436.96" width="3.82" height="9.41" fill="#e6f0f2"/>
<rect x="104.64" y="436.96" width="3.82" height="9.41" fill="#faf2c2"/>
<rect x="108.11" y="436.96" width="3.82" height="9.41" fill="#f9e5aa"/>
<rect x="111.58" y="436.96" width="3.82" height="9.41" fill="#e6f0f2"/>
<rect x="115.05" y="436.96" width="3.82" height="9.41" fill="#faf2c2"/>
<rect x="118.52" y="436.96" width="3.82" height="9.41" fill="#e99a6c"/>
<rect x="121.99" y="436.96" width="3.82" height="9.41" fill="#faf2c2"/>
<rect x="125.46" y="436.96" width="3.82" height="9.41" fill="#e6f0f2"/>
<rect x="128.93" y="436.96" width="7.29" height="9.41" fill="#faf2c2"/>
<rect x="135.87" y="436.96" width="3.82" height="9.41" fill="#f9e5aa"/>
<rect x="139.34" y="436.96" width="3.82" height="9.41" fill="#e6f0f2"/>
<rect x="142.81" y="436.96" width="3.82" height="9.41" fill="#faf2c2"/>
<rect x="146.28" y="436.96" width="7.29" height="9.41" fill="#e6f0f2"/>
<rect x="153.21" y="436.96" width="3.82" height="9.41" fill="#faf2c2"/>
<rect x="156.68" y="436.96" width="3.82" height="9.41" fill="#f4c790"/>
<rect x="160.15" y="436.96" width="3.82" height="9.41" fill="#f9e5aa"/>
<rect x="163.62" y="436.96" width="7.29" height="9.41" fill="#f4c790"/>
<rect x="170.56" y="436.96" width="3.82" height="9.41" fill="#e6f0f2"/>
<rect x="174.03" y="436.96" width="3.82" height="9.41" fill="#f9e5aa"/>
<rect x="177.50" y="436.96" width="3.82" height="9.41" fill="#e6f0f2"/>
<rect x="180.97" y="436.96" width="3.82" height="9.41" fill="#faf2c2"/>
<rect x="184.44" y="436.96" width="3.82" height="9.41" fill="#e6f0f2"/>
<rect x="187.91" y="436.96" width="3.82" height="9.41" fill="#faf2c2"/>
<rect x="191.38" y="436.96" width="3.82" height="9.41" fill="#e6f0f2"/>
<rect x="194.85" y="436.96" width="7.29" height="9.41" fill="#f9e5aa"/>
<rect x="201.79" y="436.96" width="3.82" height="9.41" fill="#faf2c2"/>
<rect x="205.26" y="436.96" width="3.82" height="9.41" fill="#f4c790"/>
<rect x="208.73" y="436.96" width="10.76" height="9.41" fill="#faf2c2"/>
<rect x="219.14" y="436.96" width="3.82" height="9.41" fill="#f9e5aa"/>
<rect x="222.61" y="436.96" width="10.76" height="9.41" fill="#faf2c2"/>
<rect x="233.02" y="436.96" width="7.29" height="9.41" fill="#f9e5aa"/>
<rect x="239.96" y="436.96" width="7.29" height="9.41" fill="#faf2c2"/>
<rect x="246.89" y="436.96" width="3.82" height="9.41" fill="#e6f0f2"/>
<rect x="250.36" y="436.96" width="14.23" height="9.41" fill="#faf2c2"/>
<rect x="264.24" y="436.96" width="3.82" height="9.41" fill="#e6f0f2"/>
<rect x="267.71" y="436.96" width="14.23" height="9.41" fill="#faf2c2"/>
<rect x="281.59" y="436.96" width="3.82" height="9.41" fill="#e6f0f2"/>
<rect x="285.06" y="436.96" width="7.29" height="9.41" fill="#faf2c2"/>
<rect x="97.70" y="446.02" width="3.82" height="9.41" fill="#f9e5aa"/>
<rect x="101.17" y="446.02" width="7.29" height="9.41" fill="#faf2c2"/>
<rect x="108.11" y="446.02" width="3.82" height="9.41" fill="#e99a6c"/>
<rect x="111.58" y="446.02" width="3.82" height="9.41" fill="#d96e50"/>
<rect x="115.05" y="446.02" width="3.82" height="9.41" fill="#f9e5aa"/>
<rect x="118.52" y="446.02" width="3.82" height="9.41" fill="#faf2c2"/>
<rect x="121.99" y="446.02" width="3.82" height="9.41" fill="#f4c790"/>
<rect x="125.46" y="446.02" width="3.82" height="9.41" fill="#faf2c2"/>
<rect x="128.93" y="446.02" width="3.82" height="9.41" fill="#f4c790"/>
<rect x="132.40" y="446.02" width="3.82" height="9.41" fill="#92b0d6"/>
<rect x="135.87" y="446.02" width="3.82" height="9.41" fill="#cadcec"/>
<rect x="139.34" y="446.02" width="3.82" height="9.41" fill="#f4c790"/>
<rect x="142.81" y="446.02" width="3.82" height="9.41" fill="#faf2c2"/>
<rect x="146.28" y="446.02" width="3.82" height="9.41" fill="#cadcec"/>
<rect x="149.74" y="446.02" width="7.29" height="9.41" fill="#faf2c2"/>
<rect x="156.68" y="446.02" width="3.82" height="9.41" fill="#e6f0f2"/>
<rect x="160.15" y="446.02" width="3.82" height="9.41" fill="#d96e50"/>
<rect x="163.62" y="446.02" width="10.76" height="9.41" fill="#faf2c2"/>
<rect x="174.03" y="446.02" width="3.82" height="9.41" fill="#e6f0f2"/>
<rect x="177.50" y="446.02" width="14.23" height="9.41" fill="#c03a2e"/>
<rect x="191.38" y="446.02" width="3.82" height="9.41" fill="#d96e50"/>
<rect x="194.85" y="446.02" width="3.82" height="9.41" fill="#e99a6c"/>
<rect x="198.32" y="446.02" width="3.82" height="9.41" fill="#faf2c2"/>
<rect x="201.79" y="446.02" width="3.82" height="9.41" fill="#e6f0f2"/>
<rect x="205.26" y="446.02" width="3.82" height="9.41" fill="#faf2c2"/>
<rect x="208.73" y="446.02" width="3.82" height="9.41" fill="#cadcec"/>
<rect x="212.20" y="446.02" width="3.82" height="9.41" fill="#92b0d6"/>
<rect x="215.67" y="446.02" width="3.82" height="9.41" fill="#e6f0f2"/>
<rect x="219.14" y="446.02" width="3.82" height="9.41" fill="#faf2c2"/>
<rect x="222.61" y="446.02" width="3.82" height="9.41" fill="#92b0d6"/>
<rect x="226.08" y="446.02" width="3.82" height="9.41" fill="#faf2c2"/>
<rect x="229.55" y="446.02" width="3.82" height="9.41" fill="#e6f0f2"/>
<rect x="233.02" y="446.02" width="3.82" height="9.41" fill="#cadcec"/>
<rect x="236.49" y="446.02" width="3.82" height="9.41" fill="#faf2c2"/>
<rect x="239.96" y="446.02" width="3.82" height="9.41" fill="#c03a2e"/>
<rect x="243.43" y="446.02" width="3.82" height="9.41" fill="#e6f0f2"/>
<rect x="246.89" y="446.02" width="10.76" height="9.41" fill="#92b0d6"/>
<rect x="257.30" y="446.02" width="3.82" height="9.41" fill="#faf2c2"/>
<rect x="260.77" y="446.02" width="3.82" height="9.41" fill="#e99a6c"/>
<rect x="264.24" y="446.02" width="3.82" height="9.41" fill="#cadcec"/>
<rect x="267.71" y="446.02" width="3.82" height="9.41" fill="#92b0d6"/>
<rect x="271.18" y="446.02" width="3.82" height="9.41" fill="#e6f0f2"/>
<rect x="274.65" y="446.02" width="3.82" height="9.41" fill="#cadcec"/>
<rect x="278.12" y="446.02" width="3.82" height="9.41" fill="#c03a2e"/>
<rect x="281.59" y="446.02" width="3.82" height="9.41" fill="#faf2c2"/>
<rect x="285.06" y="446.02" width="3.82" height="9.41" fill="#cadcec"/>
<rect x="288.53" y="446.02" width="3.82" height="9.41" fill="#e6f0f2"/>
<rect x="97.70" y="455.08" width="3.82" height="9.41" fill="#e6f0f2"/>
<rect x="101.17" y="455.08" width="3.82" height="9.41" fill="#e99a6c"/>
<rect x="104.64" y="455.08" width="3.82" height="9.41" fill="#e6f0f2"/>
<rect x="108.11" y="455.08" width="3.82" height="9.41" fill="#f4c790"/>
<rect x="111.58" y="455.08" width="3.82" height="9.41" fill="#c03a2e"/>
<rect x="115.05" y="455.08" width="3.82" height="9.41" fill="#faf2c2"/>
<rect x="118.52" y="455.08" width="3.82" height="9.41" fill="#cadcec"/>
<rect x="121.99" y="455.08" width="3.82" height="9.41" fill="#e99a6c"/>
<rect x="125.46" y="455.08" width="3.82" height="9.41" fill="#e6f0f2"/>
<rect x="128.93" y="455.08" width="3.82" height="9.41" fill="#faf2c2"/>
<rect x="132.40" y="455.08" width="3.82" height="9.41" fill="#c03a2e"/>
<rect x="135.87" y="455.08" width="3.82" height="9.41" fill="#e6f0f2"/>
<rect x="139.34" y="455.08" width="7.29" height="9.41" fill="#faf2c2"/>
<rect x="146.28" y="455.08" width="3.82" height="9.41" fill="#e6f0f2"/>
<rect x="149.74" y="455.08" width="3.82" height="9.41" fill="#faf2c2"/>
<rect x="153.21" y="455.08" width="3.82" height="9.41" fill="#92b0d6"/>
<rect x="156.68" y="455.08" width="3.82" height="9.41" fill="#e99a6c"/>
<rect x="160.15" y="455.08" width="3.82" height="9.41" fill="#faf2c2"/>
<rect x="163.62" y="455.08" width="3.82" height="9.41" fill="#f4c790"/>
<rect x="167.09" y="455.08" width="3.82" height="9.41" fill="#faf2c2"/>
<rect x="170.56" y="455.08" width="3.82" height="9.41" fill="#c03a2e"/>
<rect x="174.03" y="455.08" width="3.82" height="9.41" fill="#faf2c2"/>
<rect x="177.50" y="455.08" width="3.82" height="9.41" fill="#f9e5aa"/>
<rect x="180.97" y="455.08" width="3.82" height="9.41" fill="#c03a2e"/>
<rect x="184.44" y="455.08" width="3.82" height="9.41" fill="#faf2c2"/>
<rect x="187.91" y="455.08" width="3.82" height="9.41" fill="#e99a6c"/>
<rect x="191.38" y="455.08" width="3.82" height="9.41" fill="#d96e50"/>
<rect x="194.85" y="455.08" width="3.82" height="9.41" fill="#e99a6c"/>
<rect x="198.32" y="455.08" width="3.82" height="9.41" fill="#faf2c2"/>
<rect x="201.79" y="455.08" width="3.82" height="9.41" fill="#cadcec"/>
<rect x="205.26" y="455.08" width="3.82" height="9.41" fill="#92b0d6"/>
<rect x="208.73" y="455.08" width="3.82" height="9.41" fill="#e6f0f2"/>
<rect x="212.20" y="455.08" width="3.82" height="9.41" fill="#92b0d6"/>
<rect x="215.67" y="455.08" width="3.82" height="9.41" fill="#e6f0f2"/>
<rect x="219.14" y="455.08" width="3.82" height="9.41" fill="#cadcec"/>
<rect x="222.61" y="455.08" width="3.82" height="9.41" fill="#92b0d6"/>
<rect x="226.08" y="455.08" width="3.82" height="9.41" fill="#faf2c2"/>
<rect x="229.55" y="455.08" width="3.82" height="9.41" fill="#c03a2e"/>
<rect x="233.02" y="455.08" width="3.82" height="9.41" fill="#faf2c2"/>
<rect x="236.49" y="455.08" width="7.29" height="9.41" fill="#c03a2e"/>
<rect x="243.43" y="455.08" width="3.82" height="9.41" fill="#f4c790"/>
<rect x="246.89" y="455.08" width="10.76" height="9.41" fill="#92b0d6"/>
<rect x="257.30" y="455.08" width="3.82" height="9.41" fill="#cadcec"/>
<rect x="260.77" y="455.08" width="3.82" height="9.41" fill="#e6f0f2"/>
<rect x="264.24" y="455.08" width="3.82" height="9.41" fill="#f4c790"/>
<rect x="267.71" y="455.08" width="3.82" height="9.41" fill="#faf2c2"/>
<rect x="271.18" y="455.08" width="3.82" height="9.41" fill="#92b0d6"/>
<rect x="274.65" y="455.08" width="3.82" height="9.41" fill="#e6f0f2"/>
<rect x="278.12" y="455.08" width="3.82" height="9.41" fill="#c03a2e"/>
<rect x="281.59" y="455.08" width="3.82" height="9.41" fill="#faf2c2"/>
<rect x="285.06" y="455.08" width="3.82" height="9.41" fill="#d96e50"/>
<rect x="288.53" y="455.08" width="3.82" height="9.41" fill="#cadcec"/>
<rect x="97.70" y="464.14" width="3.82" height="9.41" fill="#92b0d6"/>
<rect x="101.17" y="464.14" width="3.82" height="9.41" fill="#cadcec"/>
<rect x="104.64" y="464.14" width="3.82" height="9.41" fill="#e6f0f2"/>
<rect x="108.11" y="464.14" width="3.82" height="9.41" fill="#faf2c2"/>
<rect x="111.58" y="464.14" width="3.82" height="9.41" fill="#cadcec"/>
<rect x="115.05" y="464.14" width="3.82" height="9.41" fill="#e6f0f2"/>
<rect x="118.52" y="464.14" width="3.82" height="9.41" fill="#f4c790"/>
<rect x="121.99" y="464.14" width="3.82" height="9.41" fill="#92b0d6"/>
<rect x="125.46" y="464.14" width="3.82" height="9.41" fill="#e6f0f2"/>
<rect x="128.93" y="464.14" width="3.82" height="9.41" fill="#faf2c2"/>
<rect x="132.40" y="464.14" width="10.76" height="9.41" fill="#92b0d6"/>
<rect x="142.81" y="464.14" width="3.82" height="9.41" fill="#cadcec"/>
<rect x="146.28" y="464.14" width="3.82" height="9.41" fill="#e6f0f2"/>
<rect x="149.74" y="464.14" width="7.29" height="9.41" fill="#faf2c2"/>
<rect x="156.68" y="464.14" width="3.82" height="9.41" fill="#e6f0f2"/>
<rect x="160.15" y="464.14" width="7.29" height="9.41" fill="#faf2c2"/>
<rect x="167.09" y="464.14" width="3.82" height="9.41" fill="#92b0d6"/>
<rect x="170.56" y="464.14" width="3.82" height="9.41" fill="#cadcec"/>
<rect x="174.03" y="464.14" width="3.82" height="9.41" fill="#f4c790"/>
<rect x="177.50" y="464.14" width="3.82" height="9.41" fill="#cadcec"/>
<rect x="180.97" y="464.14" width="3.82" height="9.41" fill="#e6f0f2"/>
<rect x="184.44" y="464.14" width="3.82" height="9.41" fill="#cadcec"/>
<rect x="187.91" y="464.14" width="3.82" height="9.41" fill="#e6f0f2"/>
<rect x="191.38" y="464.14" width="7.29" height="9.41" fill="#cadcec"/>
<rect x="198.32" y="464.14" width="3.82" height="9.41" fill="#e6f0f2"/>
<rect x="201.79" y="464.14" width="3.82" height="9.41" fill="#cadcec"/>
<rect x="205.26" y="464.14" width="3.82" height="9.41" fill="#e6f0f2"/>
<rect x="208.73" y="464.14" width="17.70" height="9.41" fill="#c03a2e"/>
<rect x="226.08" y="464.14" width="3.82" height="9.41" fill="#faf2c2"/>
<rect x="229.55" y="464.14" width="3.82" height="9.41" fill="#cadcec"/>
<rect x="233.02" y="464.14" width="3.82" height="9.41" fill="#e99a6c"/>
<rect x="236.49" y="464.14" width="7.29" height="9.41" fill="#c03a2e"/>
<rect x="243.43" y="464.14" width="3.82" height="9.41" fill="#e6f0f2"/>
<rect x="246.89" y="464.14" width="3.82" height="9.41" fill="#faf2c2"/>
<rect x="250.36" y="464.14" width="3.82" height="9.41" fill="#e6f0f2"/>
<rect x="253.83" y="464.14" width="3.82" height="9.41" fill="#e99a6c"/>
<rect x="257.30" y="464.14" width="3.82" height="9.41" fill="#faf2c2"/>
<rect x="260.77" y="464.14" width="10.76" height="9.41" fill="#e6f0f2"/>
<rect x="271.18" y="464.14" width="3.82" height="9.41" fill="#c03a2e"/>
<rect x="274.65" y="464.14" width="3.82" height="9.41" fill="#faf2c2"/>
<rect x="278.12" y="464.14" width="3.82" height="9.41" fill="#e99a6c"/>
<rect x="281.59" y="464.14" width="3.82" height="9.41" fill="#e6f0f2"/>
<rect x="285.06" y="464.14" width="3.82" height="9.41" fill="#c03a2e"/>
<rect x="288.53" y="464.14" width="3.82" height="9.41" fill="#cadcec"/>
<rect x="97.70" y="473.20" width="3.82" height="9.41" fill="#e99a6c"/>
<rect x="101.17" y="473.20" width="7.29" height="9.41" fill="#e6f0f2"/>
<rect x="108.11" y="473.20" width="3.82" height="9.41" fill="#cadcec"/>
<rect x="111.58" y="473.20" width="3.82" height="9.41" fill="#f9e5aa"/>
<rect x="115.05" y="473.20" width="3.82" height="9.41" fill="#e6f0f2"/>
<rect x="118.52" y="473.20" width="3.82" height="9.41" fill="#faf2c2"/>
<rect x="121.99" y="473.20" width="3.82" height="9.41" fill="#e6f0f2"/>
<rect x="125.46" y="473.20" width="7.29" height="9.41" fill="#faf2c2"/>
<rect x="132.40" y="473.20" width="7.29" height="9.41" fill="#92b0d6"/>
<rect x="139.34" y="473.20" width="7.29" height="9.41" fill="#e6f0f2"/>
<rect x="146.28" y="473.20" width="3.82" height="9.41" fill="#92b0d6"/>
<rect x="149.74" y="473.20" width="3.82" height="9.41" fill="#e6f0f2"/>
<rect x="153.21" y="473.20" width="3.82" height="9.41" fill="#cadcec"/>
<rect x="156.68" y="473.20" width="7.29" height="9.41" fill="#faf2c2"/>
<rect x="163.62" y="473.20" width="3.82" height="9.41" fill="#e6f0f2"/>
<rect x="167.09" y="473.20" width="3.82" height="9.41" fill="#faf2c2"/>
<rect x="170.56" y="473.20" width="3.82" height="9.41" fill="#e99a6c"/>
<rect x="174.03" y="473.20" width="3.82" height="9.41" fill="#faf2c2"/>
<rect x="177.50" y="473.20" width="3.82" height="9.41" fill="#e6f0f2"/>
<rect x="180.97" y="473.20" width="7.29" height="9.41" fill="#faf2c2"/>
<rect x="187.91" y="473.20" width="3.82" height="9.41" fill="#e99a6c"/>
<rect x="191.38" y="473.20" width="7.29" height="9.41" fill="#e6f0f2"/>
<rect x="198.32" y="473.20" width="3.82" height="9.41" fill="#cadcec"/>
<rect x="201.79" y="473.20" width="3.82" height="9.41" fill="#e99a6c"/>
<rect x="205.26" y="473.20" width="3.82" height="9.41" fill="#e6f0f2"/>
<rect x="208.73" y="473.20" width="3.82" height="9.41" fill="#92b0d6"/>
<rect x="212.20" y="473.20" width="10.76" height="9.41" fill="#c03a2e"/>
<rect x="222.61" y="473.20" width="3.82" height="9.41" fill="#faf2c2"/>
<rect x="226.08" y="473.20" width="3.82" height="9.41" fill="#e99a6c"/>
<rect x="229.55" y="473.20" width="3.82" height="9.41" fill="#cadcec"/>
<rect x="233.02" y="473.20" width="10.76" height="9.41" fill="#c03a2e"/>
<rect x="243.43" y="473.20" width="3.82" height="9.41" fill="#e6f0f2"/>
<rect x="246.89" y="473.20" width="3.82" height="9.41" fill="#cadcec"/>
<rect x="250.36" y="473.20" width="7.29" height="9.41" fill="#e6f0f2"/>
<rect x="257.30" y="473.20" width="3.82" height="9.41" fill="#faf2c2"/>
<rect x="260.77" y="473.20" width="3.82" height="9.41" fill="#e6f0f2"/>
<rect x="264.24" y="473.20" width="3.82" height="9.41" fill="#6a8ac2"/>
<rect x="267.71" y="473.20" width="3.82" height="9.41" fill="#e6f0f2"/>
<rect x="271.18" y="473.20" width="3.82" height="9.41" fill="#f4c790"/>
<rect x="274.65" y="473.20" width="3.82" height="9.41" fill="#f9e5aa"/>
<rect x="278.12" y="473.20" width="3.82" height="9.41" fill="#f4c790"/>
<rect x="281.59" y="473.20" width="3.82" height="9.41" fill="#e6f0f2"/>
<rect x="285.06" y="473.20" width="3.82" height="9.41" fill="#92b0d6"/>
<rect x="288.53" y="473.20" width="3.82" height="9.41" fill="#e6f0f2"/>
<rect x="97.70" y="482.26" width="7.29" height="9.41" fill="#e6f0f2"/>
<rect x="104.64" y="482.26" width="3.82" height="9.41" fill="#faf2c2"/>
<rect x="108.11" y="482.26" width="3.82" height="9.41" fill="#e99a6c"/>
<rect x="111.58" y="482.26" width="7.29" height="9.41" fill="#e6f0f2"/>
<rect x="118.52" y="482.26" width="3.82" height="9.41" fill="#cadcec"/>
<rect x="121.99" y="482.26" width="10.76" height="9.41" fill="#e6f0f2"/>
<rect x="132.40" y="482.26" width="7.29" height="9.41" fill="#cadcec"/>
<rect x="139.34" y="482.26" width="7.29" height="9.41" fill="#e6f0f2"/>
<rect x="146.28" y="482.26" width="3.82" height="9.41" fill="#faf2c2"/>
<rect x="149.74" y="482.26" width="7.29" height="9.41" fill="#e6f0f2"/>
<rect x="156.68" y="482.26" width="3.82" height="9.41" fill="#faf2c2"/>
<rect x="160.15" y="482.26" width="7.29" height="9.41" fill="#e6f0f2"/>
<rect x="167.09" y="482.26" width="3.82" height="9.41" fill="#faf2c2"/>
<rect x="170.56" y="482.26" width="3.82" height="9.41" fill="#e6f0f2"/>
<rect x="174.03" y="482.26" width="10.76" height="9.41" fill="#faf2c2"/>
<rect x="184.44" y="482.26" width="3.82" height="9.41" fill="#e6f0f2"/>
<rect x="187.91" y="482.26" width="7.29" height="9.41" fill="#faf2c2"/>
<rect x="194.85" y="482.26" width="3.82" height="9.41" fill="#e6f0f2"/>
<rect x="198.32" y="482.26" width="3.82" height="9.41" fill="#faf2c2"/>
<rect x="201.79" y="482.26" width="3.82" height="9.41" fill="#e6f0f2"/>
<rect x="205.26" y="482.26" width="3.82" height="9.41" fill="#faf2c2"/>
<rect x="208.73" y="482.26" width="14.23" height="9.41" fill="#c03a2e"/>
<rect x="222.61" y="482.26" width="3.82" height="9.41" fill="#f9e5aa"/>
<rect x="226.08" y="482.26" width="3.82" height="9.41" fill="#faf2c2"/>
<rect x="229.55" y="482.26" width="3.82" height="9.41" fill="#c03a2e"/>
<rect x="233.02" y="482.26" width="3.82" height="9.41" fill="#f9e5aa"/>
<rect x="236.49" y="482.26" width="7.29" height="9.41" fill="#c03a2e"/>
<rect x="243.43" y="482.26" width="3.82" height="9.41" fill="#e6f0f2"/>
<rect x="246.89" y="482.26" width="7.29" height="9.41" fill="#faf2c2"/>
<rect x="253.83" y="482.26" width="3.82" height="9.41" fill="#e6f0f2"/>
<rect x="257.30" y="482.26" width="3.82" height="9.41" fill="#faf2c2"/>
<rect x="260.77" y="482.26" width="3.82" height="9.41" fill="#e6f0f2"/>
<rect x="264.24" y="482.26" width="3.82" height="9.41" fill="#faf2c2"/>
<rect x="267.71" y="482.26" width="3.82" height="9.41" fill="#e6f0f2"/>
<rect x="271.18" y="482.26" width="3.82" height="9.41" fill="#e99a6c"/>
<rect x="274.65" y="482.26" width="10.76" height="9.41" fill="#faf2c2"/>
<rect x="285.06" y="482.26" width="7.29" height="9.41" fill="#e6f0f2"/>
<rect x="97.70" y="491.32" width="3.82" height="9.41" fill="#faf2c2"/>
<rect x="101.17" y="491.32" width="3.82" height="9.41" fill="#e6f0f2"/>
<rect x="104.64" y="491.32" width="7.29" height="9.41" fill="#faf2c2"/>
<rect x="111.58" y="491.32" width="3.82" height="9.41" fill="#e6f0f2"/>
<rect x="115.05" y="491.32" width="14.23" height="9.41" fill="#faf2c2"/>
<rect x="128.93" y="491.32" width="3.82" height="9.41" fill="#e6f0f2"/>
<rect x="132.40" y="491.32" width="3.82" height="9.41" fill="#faf2c2"/>
<rect x="135.87" y="491.32" width="3.82" height="9.41" fill="#f9e5aa"/>
<rect x="139.34" y="491.32" width="3.82" height="9.41" fill="#e6f0f2"/>
<rect x="142.81" y="491.32" width="3.82" height="9.41" fill="#f4c790"/>
<rect x="146.28" y="491.32" width="17.70" height="9.41" fill="#faf2c2"/>
<rect x="163.62" y="491.32" width="3.82" height="9.41" fill="#e6f0f2"/>
<rect x="167.09" y="491.32" width="7.29" height="9.41" fill="#faf2c2"/>
<rect x="174.03" y="491.32" width="3.82" height="9.41" fill="#e6f0f2"/>
<rect x="177.50" y="491.32" width="7.29" height="9.41" fill="#faf2c2"/>
<rect x="184.44" y="491.32" width="3.82" height="9.41" fill="#e6f0f2"/>
<rect x="187.91" y="491.32" width="17.70" height="9.41" fill="#faf2c2"/>
<rect x="205.26" y="491.32" width="3.82" height="9.41" fill="#e6f0f2"/>
<rect x="208.73" y="491.32" width="3.82" height="9.41" fill="#e99a6c"/>
<rect x="212.20" y="491.32" width="7.29" height="9.41" fill="#c03a2e"/>
<rect x="219.14" y="491.32" width="3.82" height="9.41" fill="#e99a6c"/>
<rect x="222.61" y="491.32" width="3.82" height="9.41" fill="#faf2c2"/>
<rect x="226.08" y="491.32" width="3.82" height="9.41" fill="#e99a6c"/>
<rect x="229.55" y="491.32" width="3.82" height="9.41" fill="#c03a2e"/>
<rect x="233.02" y="491.32" width="3.82" height="9.41" fill="#faf2c2"/>
<rect x="236.49" y="491.32" width="3.82" height="9.41" fill="#c03a2e"/>
<rect x="239.96" y="491.32" width="3.82" height="9.41" fill="#e99a6c"/>
<rect x="243.43" y="491.32" width="3.82" height="9.41" fill="#e6f0f2"/>
<rect x="246.89" y="491.32" width="7.29" height="9.41" fill="#faf2c2"/>
<rect x="253.83" y="491.32" width="3.82" height="9.41" fill="#e6f0f2"/>
<rect x="257.30" y="491.32" width="7.29" height="9.41" fill="#faf2c2"/>
<rect x="264.24" y="491.32" width="7.29" height="9.41" fill="#e6f0f2"/>
<rect x="271.18" y="491.32" width="7.29" height="9.41" fill="#faf2c2"/>
<rect x="278.12" y="491.32" width="3.82" height="9.41" fill="#e6f0f2"/>
<rect x="281.59" y="491.32" width="7.29" height="9.41" fill="#faf2c2"/>
<rect x="288.53" y="491.32" width="3.82" height="9.41" fill="#e6f0f2"/>
<rect x="97.70" y="500.38" width="3.82" height="9.41" fill="#92b0d6"/>
<rect x="101.17" y="500.38" width="3.82" height="9.41" fill="#6a8ac2"/>
<rect x="104.64" y="500.38" width="3.82" height="9.41" fill="#cadcec"/>
<rect x="108.11" y="500.38" width="3.82" height="9.41" fill="#faf2c2"/>
<rect x="111.58" y="500.38" width="3.82" height="9.41" fill="#cadcec"/>
<rect x="115.05" y="500.38" width="3.82" height="9.41" fill="#e6f0f2"/>
<rect x="118.52" y="500.38" width="3.82" height="9.41" fill="#92b0d6"/>
<rect x="121.99" y="500.38" width="3.82" height="9.41" fill="#6a8ac2"/>
<rect x="125.46" y="500.38" width="3.82" height="9.41" fill="#92b0d6"/>
<rect x="128.93" y="500.38" width="7.29" height="9.41" fill="#6a8ac2"/>
<rect x="135.87" y="500.38" width="3.82" height="9.41" fill="#cadcec"/>
<rect x="139.34" y="500.38" width="3.82" height="9.41" fill="#6a8ac2"/>
<rect x="142.81" y="500.38" width="3.82" height="9.41" fill="#92b0d6"/>
<rect x="146.28" y="500.38" width="3.82" height="9.41" fill="#cadcec"/>
<rect x="149.74" y="500.38" width="3.82" height="9.41" fill="#6a8ac2"/>
<rect x="153.21" y="500.38" width="3.82" height="9.41" fill="#e6f0f2"/>
<rect x="156.68" y="500.38" width="3.82" height="9.41" fill="#faf2c2"/>
<rect x="160.15" y="500.38" width="3.82" height="9.41" fill="#e99a6c"/>
<rect x="163.62" y="500.38" width="3.82" height="9.41" fill="#faf2c2"/>
<rect x="167.09" y="500.38" width="3.82" height="9.41" fill="#e6f0f2"/>
<rect x="170.56" y="500.38" width="3.82" height="9.41" fill="#e99a6c"/>
<rect x="174.03" y="500.38" width="3.82" height="9.41" fill="#faf2c2"/>
<rect x="177.50" y="500.38" width="3.82" height="9.41" fill="#e6f0f2"/>
<rect x="180.97" y="500.38" width="3.82" height="9.41" fill="#92b0d6"/>
<rect x="184.44" y="500.38" width="3.82" height="9.41" fill="#e6f0f2"/>
<rect x="187.91" y="500.38" width="3.82" height="9.41" fill="#faf2c2"/>
<rect x="191.38" y="500.38" width="7.29" height="9.41" fill="#e6f0f2"/>
<rect x="198.32" y="500.38" width="10.76" height="9.41" fill="#faf2c2"/>
<rect x="208.73" y="500.38" width="17.70" height="9.41" fill="#c03a2e"/>
<rect x="226.08" y="500.38" width="3.82" height="9.41" fill="#e99a6c"/>
<rect x="229.55" y="500.38" width="14.23" height="9.41" fill="#c03a2e"/>
<rect x="243.43" y="500.38" width="3.82" height="9.41" fill="#92b0d6"/>
<rect x="246.89" y="500.38" width="3.82" height="9.41" fill="#cadcec"/>
<rect x="250.36" y="500.38" width="3.82" height="9.41" fill="#faf2c2"/>
<rect x="253.83" y="500.38" width="7.29" height="9.41" fill="#e6f0f2"/>
<rect x="260.77" y="500.38" width="3.82" height="9.41" fill="#cadcec"/>
<rect x="264.24" y="500.38" width="3.82" height="9.41" fill="#e6f0f2"/>
<rect x="267.71" y="500.38" width="3.82" height="9.41" fill="#faf2c2"/>
<rect x="271.18" y="500.38" width="3.82" height="9.41" fill="#cadcec"/>
<rect x="274.65" y="500.38" width="3.82" height="9.41" fill="#e6f0f2"/>
<rect x="278.12" y="500.38" width="3.82" height="9.41" fill="#faf2c2"/>
<rect x="281.59" y="500.38" width="3.82" height="9.41" fill="#92b0d6"/>
<rect x="285.06" y="500.38" width="3.82" height="9.41" fill="#e6f0f2"/>
<rect x="288.53" y="500.38" width="3.82" height="9.41" fill="#92b0d6"/>
<rect x="97.70" y="509.44" width="3.82" height="9.41" fill="#cadcec"/>
<rect x="101.17" y="509.44" width="3.82" height="9.41" fill="#92b0d6"/>
<rect x="104.64" y="509.44" width="3.82" height="9.41" fill="#cadcec"/>
<rect x="108.11" y="509.44" width="3.82" height="9.41" fill="#92b0d6"/>
<rect x="111.58" y="509.44" width="3.82" height="9.41" fill="#e6f0f2"/>
<rect x="115.05" y="509.44" width="3.82" height="9.41" fill="#cadcec"/>
<rect x="118.52" y="509.44" width="3.82" height="9.41" fill="#6a8ac2"/>
<rect x="121.99" y="509.44" width="3.82" height="9.41" fill="#e6f0f2"/>
<rect x="125.46" y="509.44" width="3.82" height="9.41" fill="#faf2c2"/>
<rect x="128.93" y="509.44" width="3.82" height="9.41" fill="#92b0d6"/>
<rect x="132.40" y="509.44" width="3.82" height="9.41" fill="#e6f0f2"/>
<rect x="135.87" y="509.44" width="3.82" height="9.41" fill="#cadcec"/>
<rect x="139.34" y="509.44" width="3.82" height="9.41" fill="#e6f0f2"/>
<rect x="142.81" y="509.44" width="3.82" height="9.41" fill="#faf2c2"/>
<rect x="146.28" y="509.44" width="3.82" height="9.41" fill="#e6f0f2"/>
<rect x="149.74" y="509.44" width="3.82" height="9.41" fill="#92b0d6"/>
<rect x="153.21" y="509.44" width="3.82" height="9.41" fill="#e6f0f2"/>
<rect x="156.68" y="509.44" width="3.82" height="9.41" fill="#faf2c2"/>
<rect x="160.15" y="509.44" width="3.82" height="9.41" fill="#e6f0f2"/>
<rect x="163.62" y="509.44" width="3.82" height="9.41" fill="#faf2c2"/>
<rect x="167.09" y="509.44" width="3.82" height="9.41" fill="#92b0d6"/>
<rect x="170.56" y="509.44" width="3.82" height="9.41" fill="#e6f0f2"/>
<rect x="174.03" y="509.44" width="3.82" height="9.41" fill="#e99a6c"/>
<rect x="177.50" y="509.44" width="3.82" height="9.41" fill="#e6f0f2"/>
<rect x="180.97" y="509.44" width="3.82" height="9.41" fill="#faf2c2"/>
<rect x="184.44" y="509.44" width="3.82" height="9.41" fill="#cadcec"/>
<rect x="187.91" y="509.44" width="3.82" height="9.41" fill="#e6f0f2"/>
<rect x="191.38" y="509.44" width="3.82" height="9.41" fill="#92b0d6"/>
<rect x="194.85" y="509.44" width="3.82" height="9.41" fill="#e6f0f2"/>
<rect x="198.32" y="509.44" width="3.82" height="9.41" fill="#cadcec"/>
<rect x="201.79" y="509.44" width="3.82" height="9.41" fill="#faf2c2"/>
<rect x="205.26" y="509.44" width="3.82" height="9.41" fill="#e6f0f2"/>
<rect x="208.73" y="509.44" width="10.76" height="9.41" fill="#c03a2e"/>
<rect x="219.14" y="509.44" width="3.82" height="9.41" fill="#d96e50"/>
<rect x="222.61" y="509.44" width="3.82" height="9.41" fill="#f4c790"/>
<rect x="226.08" y="509.44" width="3.82" height="9.41" fill="#f9e5aa"/>
<rect x="229.55" y="509.44" width="3.82" height="9.41" fill="#f4c790"/>
<rect x="233.02" y="509.44" width="7.29" height="9.41" fill="#e99a6c"/>
<rect x="239.96" y="509.44" width="3.82" height="9.41" fill="#faf2c2"/>
<rect x="243.43" y="509.44" width="3.82" height="9.41" fill="#c03a2e"/>
<rect x="246.89" y="509.44" width="3.82" height="9.41" fill="#faf2c2"/>
<rect x="250.36" y="509.44" width="3.82" height="9.41" fill="#f9e5aa"/>
<rect x="253.83" y="509.44" width="3.82" height="9.41" fill="#faf2c2"/>
<rect x="257.30" y="509.44" width="3.82" height="9.41" fill="#f9e5aa"/>
<rect x="260.77" y="509.44" width="3.82" height="9.41" fill="#e6f0f2"/>
<rect x="264.24" y="509.44" width="3.82" height="9.41" fill="#faf2c2"/>
<rect x="267.71" y="509.44" width="3.82" height="9.41" fill="#f9e5aa"/>
<rect x="271.18" y="509.44" width="3.82" height="9.41" fill="#f4c790"/>
<rect x="274.65" y="509.44" width="3.82" height="9.41" fill="#f9e5aa"/>
<rect x="278.12" y="509.44" width="3.82" height="9.41" fill="#f4c790"/>
<rect x="281.59" y="509.44" width="3.82" height="9.41" fill="#e6f0f2"/>
<rect x="285.06" y="509.44" width="3.82" height="9.41" fill="#faf2c2"/>
<rect x="288.53" y="509.44" width="3.82" height="9.41" fill="#cadcec"/>
<rect x="97.70" y="518.50" width="3.82" height="9.41" fill="#cadcec"/>
<rect x="101.17" y="518.50" width="3.82" height="9.41" fill="#e6f0f2"/>
<rect x="104.64" y="518.50" width="3.82" height="9.41" fill="#cadcec"/>
<rect x="108.11" y="518.50" width="3.82" height="9.41" fill="#e6f0f2"/>
<rect x="111.58" y="518.50" width="21.17" height="9.41" fill="#faf2c2"/>
<rect x="132.40" y="518.50" width="3.82" height="9.41" fill="#e6f0f2"/>
<rect x="135.87" y="518.50" width="3.82" height="9.41" fill="#cadcec"/>
<rect x="139.34" y="518.50" width="3.82" height="9.41" fill="#e6f0f2"/>
<rect x="142.81" y="518.50" width="7.29" height="9.41" fill="#faf2c2"/>
<rect x="149.74" y="518.50" width="3.82" height="9.41" fill="#e6f0f2"/>
<rect x="153.21" y="518.50" width="3.82" height="9.41" fill="#cadcec"/>
<rect x="156.68" y="518.50" width="7.29" height="9.41" fill="#f9e5aa"/>
<rect x="163.62" y="518.50" width="3.82" height="9.41" fill="#faf2c2"/>
<rect x="167.09" y="518.50" width="14.23" height="9.41" fill="#e6f0f2"/>
<rect x="180.97" y="518.50" width="7.29" height="9.41" fill="#faf2c2"/>
<rect x="187.91" y="518.50" width="3.82" height="9.41" fill="#e6f0f2"/>
<rect x="191.38" y="518.50" width="3.82" height="9.41" fill="#faf2c2"/>
<rect x="194.85" y="518.50" width="7.29" height="9.41" fill="#e6f0f2"/>
<rect x="201.79" y="518.50" width="7.29" height="9.41" fill="#faf2c2"/>
<rect x="208.73" y="518.50" width="14.23" height="9.41" fill="#c03a2e"/>
<rect x="222.61" y="518.50" width="3.82" height="9.41" fill="#faf2c2"/>
<rect x="226.08" y="518.50" width="7.29" height="9.41" fill="#f4c790"/>
<rect x="233.02" y="518.50" width="3.82" height="9.41" fill="#f9e5aa"/>
<rect x="236.49" y="518.50" width="7.29" height="9.41" fill="#c03a2e"/>
<rect x="243.43" y="518.50" width="3.82" height="9.41" fill="#e6f0f2"/>
<rect x="246.89" y="518.50" width="3.82" height="9.41" fill="#faf2c2"/>
<rect x="250.36" y="518.50" width="10.76" height="9.41" fill="#f4c790"/>
<rect x="260.77" y="518.50" width="3.82" height="9.41" fill="#f9e5aa"/>
<rect x="264.24" y="518.50" width="3.82" height="9.41" fill="#f4c790"/>
<rect x="267.71" y="518.50" width="3.82" height="9.41" fill="#faf2c2"/>
<rect x="271.18" y="518.50" width="3.82" height="9.41" fill="#e99a6c"/>
<rect x="274.65" y="518.50" width="3.82" height="9.41" fill="#f4c790"/>
<rect x="278.12" y="518.50" width="3.82" height="9.41" fill="#faf2c2"/>
<rect x="281.59" y="518.50" width="3.82" height="9.41" fill="#e6f0f2"/>
<rect x="285.06" y="518.50" width="3.82" height="9.41" fill="#faf2c2"/>
<rect x="288.53" y="518.50" width="3.82" height="9.41" fill="#e6f0f2"/>
<rect x="97.70" y="527.56" width="3.82" height="9.41" fill="#cadcec"/>
<rect x="101.17" y="527.56" width="3.82" height="9.41" fill="#e6f0f2"/>
<rect x="104.64" y="527.56" width="17.70" height="9.41" fill="#92b0d6"/>
<rect x="121.99" y="527.56" width="3.82" height="9.41" fill="#d96e50"/>
<rect x="125.46" y="527.56" width="3.82" height="9.41" fill="#faf2c2"/>
<rect x="128.93" y="527.56" width="3.82" height="9.41" fill="#f4c790"/>
<rect x="132.40" y="527.56" width="3.82" height="9.41" fill="#faf2c2"/>
<rect x="135.87" y="527.56" width="3.82" height="9.41" fill="#f4c790"/>
<rect x="139.34" y="527.56" width="3.82" height="9.41" fill="#faf2c2"/>
<rect x="142.81" y="527.56" width="3.82" height="9.41" fill="#e6f0f2"/>
<rect x="146.28" y="527.56" width="3.82" height="9.41" fill="#92b0d6"/>
<rect x="149.74" y="527.56" width="3.82" height="9.41" fill="#e6f0f2"/>
<rect x="153.21" y="527.56" width="3.82" height="9.41" fill="#faf2c2"/>
<rect x="156.68" y="527.56" width="3.82" height="9.41" fill="#e99a6c"/>
<rect x="160.15" y="527.56" width="3.82" height="9.41" fill="#faf2c2"/>
<rect x="163.62" y="527.56" width="3.82" height="9.41" fill="#e6f0f2"/>
<rect x="167.09" y="527.56" width="3.82" height="9.41" fill="#faf2c2"/>
<rect x="170.56" y="527.56" width="3.82" height="9.41" fill="#e6f0f2"/>
<rect x="174.03" y="527.56" width="3.82" height="9.41" fill="#cadcec"/>
<rect x="177.50" y="527.56" width="3.82" height="9.41" fill="#e6f0f2"/>
<rect x="180.97" y="527.56" width="3.82" height="9.41" fill="#faf2c2"/>
<rect x="184.44" y="527.56" width="3.82" height="9.41" fill="#e6f0f2"/>
<rect x="187.91" y="527.56" width="3.82" height="9.41" fill="#cadcec"/>
<rect x="191.38" y="527.56" width="10.76" height="9.41" fill="#e6f0f2"/>
<rect x="201.79" y="527.56" width="3.82" height="9.41" fill="#92b0d6"/>
<rect x="205.26" y="527.56" width="3.82" height="9.41" fill="#faf2c2"/>
<rect x="208.73" y="527.56" width="3.82" height="9.41" fill="#e6f0f2"/>
<rect x="212.20" y="527.56" width="3.82" height="9.41" fill="#faf2c2"/>
<rect x="215.67" y="527.56" width="3.82" height="9.41" fill="#e6f0f2"/>
<rect x="219.14" y="527.56" width="10.76" height="9.41" fill="#f4c790"/>
<rect x="229.55" y="527.56" width="3.82" height="9.41" fill="#e6f0f2"/>
<rect x="233.02" y="527.56" width="3.82" height="9.41" fill="#f9e5aa"/>
<rect x="236.49" y="527.56" width="3.82" height="9.41" fill="#c03a2e"/>
<rect x="239.96" y="527.56" width="3.82" height="9.41" fill="#e6f0f2"/>
<rect x="243.43" y="527.56" width="3.82" height="9.41" fill="#faf2c2"/>
<rect x="246.89" y="527.56" width="3.82" height="9.41" fill="#c03a2e"/>
<rect x="250.36" y="527.56" width="3.82" height="9.41" fill="#e6f0f2"/>
<rect x="253.83" y="527.56" width="17.70" height="9.41" fill="#c03a2e"/>
<rect x="271.18" y="527.56" width="3.82" height="9.41" fill="#e99a6c"/>
<rect x="274.65" y="527.56" width="3.82" height="9.41" fill="#f4c790"/>
<rect x="278.12" y="527.56" width="3.82" height="9.41" fill="#faf2c2"/>
<rect x="281.59" y="527.56" width="3.82" height="9.41" fill="#f4c790"/>
<rect x="285.06" y="527.56" width="3.82" height="9.41" fill="#e6f0f2"/>
<rect x="288.53" y="527.56" width="3.82" height="9.41" fill="#92b0d6"/>
<rect x="97.70" y="536.62" width="3.82" height="9.41" fill="#cadcec"/>
<rect x="101.17" y="536.62" width="7.29" height="9.41" fill="#e6f0f2"/>
<rect x="108.11" y="536.62" width="3.82" height="9.41" fill="#faf2c2"/>
<rect x="111.58" y="536.62" width="7.29" height="9.41" fill="#e6f0f2"/>
<rect x="118.52" y="536.62" width="3.82" height="9.41" fill="#faf2c2"/>
<rect x="121.99" y="536.62" width="3.82" height="9.41" fill="#f4c790"/>
<rect x="125.46" y="536.62" width="7.29" height="9.41" fill="#faf2c2"/>
<rect x="132.40" y="536.62" width="3.82" height="9.41" fill="#e6f0f2"/>
<rect x="135.87" y="536.62" width="3.82" height="9.41" fill="#faf2c2"/>
<rect x="139.34" y="536.62" width="3.82" height="9.41" fill="#e6f0f2"/>
<rect x="142.81" y="536.62" width="10.76" height="9.41" fill="#faf2c2"/>
<rect x="153.21" y="536.62" width="3.82" height="9.41" fill="#e6f0f2"/>
<rect x="156.68" y="536.62" width="7.29" height="9.41" fill="#f4c790"/>
<rect x="163.62" y="536.62" width="3.82" height="9.41" fill="#faf2c2"/>
<rect x="167.09" y="536.62" width="3.82" height="9.41" fill="#e6f0f2"/>
<rect x="170.56" y="536.62" width="3.82" height="9.41" fill="#faf2c2"/>
<rect x="174.03" y="536.62" width="3.82" height="9.41" fill="#e6f0f2"/>
<rect x="177.50" y="536.62" width="7.29" height="9.41" fill="#faf2c2"/>
<rect x="184.44" y="536.62" width="3.82" height="9.41" fill="#e6f0f2"/>
<rect x="187.91" y="536.62" width="3.82" height="9.41" fill="#faf2c2"/>
<rect x="191.38" y="536.62" width="7.29" height="9.41" fill="#e6f0f2"/>
<rect x="198.32" y="536.62" width="3.82" height="9.41" fill="#cadcec"/>
<rect x="201.79" y="536.62" width="7.29" height="9.41" fill="#faf2c2"/>
<rect x="208.73" y="536.62" width="3.82" height="9.41" fill="#e6f0f2"/>
<rect x="212.20" y="536.62" width="7.29" height="9.41" fill="#faf2c2"/>
<rect x="219.14" y="536.62" width="3.82" height="9.41" fill="#c03a2e"/>
<rect x="222.61" y="536.62" width="3.82" height="9.41" fill="#faf2c2"/>
<rect x="226.08" y="536.62" width="3.82" height="9.41" fill="#e6f0f2"/>
<rect x="229.55" y="536.62" width="7.29" height="9.41" fill="#faf2c2"/>
<rect x="236.49" y="536.62" width="3.82" height="9.41" fill="#c03a2e"/>
<rect x="239.96" y="536.62" width="3.82" height="9.41" fill="#e6f0f2"/>
<rect x="243.43" y="536.62" width="3.82" height="9.41" fill="#faf2c2"/>
<rect x="246.89" y="536.62" width="3.82" height="9.41" fill="#c03a2e"/>
<rect x="250.36" y="536.62" width="7.29" height="9.41" fill="#faf2c2"/>
<rect x="257.30" y="536.62" width="3.82" height="9.41" fill="#f4c790"/>
<rect x="260.77" y="536.62" width="3.82" height="9.41" fill="#e99a6c"/>
<rect x="264.24" y="536.62" width="3.82" height="9.41" fill="#d96e50"/>
<rect x="267.71" y="536.62" width="3.82" height="9.41" fill="#f4c790"/>
<rect x="271.18" y="536.62" width="10.76" height="9.41" fill="#faf2c2"/>
<rect x="281.59" y="536.62" width="3.82" height="9.41" fill="#e6f0f2"/>
<rect x="285.06" y="536.62" width="3.82" height="9.41" fill="#c03a2e"/>
<rect x="288.53" y="536.62" width="3.82" height="9.41" fill="#e6f0f2"/>
<rect x="97.70" y="545.68" width="3.82" height="9.41" fill="#e6f0f2"/>
<rect x="101.17" y="545.68" width="3.82" height="9.41" fill="#faf2c2"/>
<rect x="104.64" y="545.68" width="7.29" height="9.41" fill="#e6f0f2"/>
<rect x="111.58" y="545.68" width="14.23" height="9.41" fill="#faf2c2"/>
<rect x="125.46" y="545.68" width="3.82" height="9.41" fill="#f9e5aa"/>
<rect x="128.93" y="545.68" width="3.82" height="9.41" fill="#faf2c2"/>
<rect x="132.40" y="545.68" width="3.82" height="9.41" fill="#e6f0f2"/>
<rect x="135.87" y="545.68" width="14.23" height="9.41" fill="#faf2c2"/>
<rect x="149.74" y="545.68" width="3.82" height="9.41" fill="#cadcec"/>
<rect x="153.21" y="545.68" width="3.82" height="9.41" fill="#e6f0f2"/>
<rect x="156.68" y="545.68" width="10.76" height="9.41" fill="#faf2c2"/>
<rect x="167.09" y="545.68" width="7.29" height="9.41" fill="#e6f0f2"/>
<rect x="174.03" y="545.68" width="3.82" height="9.41" fill="#e99a6c"/>
<rect x="177.50" y="545.68" width="3.82" height="9.41" fill="#e6f0f2"/>
<rect x="180.97" y="545.68" width="3.82" height="9.41" fill="#faf2c2"/>
<rect x="184.44" y="545.68" width="7.29" height="9.41" fill="#e6f0f2"/>
<rect x="191.38" y="545.68" width="3.82" height="9.41" fill="#cadcec"/>
<rect x="194.85" y="545.68" width="3.82" height="9.41" fill="#e99a6c"/>
<rect x="198.32" y="545.68" width="7.29" height="9.41" fill="#faf2c2"/>
<rect x="205.26" y="545.68" width="7.29" height="9.41" fill="#e99a6c"/>
<rect x="212.20" y="545.68" width="3.82" height="9.41" fill="#f4c790"/>
<rect x="215.67" y="545.68" width="3.82" height="9.41" fill="#faf2c2"/>
<rect x="219.14" y="545.68" width="3.82" height="9.41" fill="#cadcec"/>
<rect x="222.61" y="545.68" width="14.23" height="9.41" fill="#faf2c2"/>
<rect x="236.49" y="545.68" width="3.82" height="9.41" fill="#f4c790"/>
<rect x="239.96" y="545.68" width="3.82" height="9.41" fill="#e6f0f2"/>
<rect x="243.43" y="545.68" width="3.82" height="9.41" fill="#faf2c2"/>
<rect x="246.89" y="545.68" width="3.82" height="9.41" fill="#e99a6c"/>
<rect x="250.36" y="545.68" width="3.82" height="9.41" fill="#faf2c2"/>
<rect x="253.83" y="545.68" width="3.82" height="9.41" fill="#f4c790"/>
<rect x="257.30" y="545.68" width="3.82" height="9.41" fill="#faf2c2"/>
<rect x="260.77" y="545.68" width="3.82" height="9.41" fill="#e6f0f2"/>
<rect x="264.24" y="545.68" width="3.82" height="9.41" fill="#f4c790"/>
<rect x="267.71" y="545.68" width="3.82" height="9.41" fill="#cadcec"/>
<rect x="271.18" y="545.68" width="3.82" height="9.41" fill="#faf2c2"/>
<rect x="274.65" y="545.68" width="3.82" height="9.41" fill="#e6f0f2"/>
<rect x="278.12" y="545.68" width="3.82" height="9.41" fill="#f4c790"/>
<rect x="281.59" y="545.68" width="7.29" height="9.41" fill="#faf2c2"/>
<rect x="288.53" y="545.68" width="3.82" height="9.41" fill="#e6f0f2"/>
<rect x="97.70" y="554.74" width="3.82" height="9.41" fill="#faf2c2"/>
<rect x="101.17" y="554.74" width="3.82" height="9.41" fill="#e6f0f2"/>
<rect x="104.64" y="554.74" width="3.82" height="9.41" fill="#faf2c2"/>
<rect x="108.11" y="554.74" width="3.82" height="9.41" fill="#e6f0f2"/>
<rect x="111.58" y="554.74" width="3.82" height="9.41" fill="#faf2c2"/>
<rect x="115.05" y="554.74" width="3.82" height="9.41" fill="#e6f0f2"/>
<rect x="118.52" y="554.74" width="3.82" height="9.41" fill="#faf2c2"/>
<rect x="121.99" y="554.74" width="3.82" height="9.41" fill="#c03a2e"/>
<rect x="125.46" y="554.74" width="7.29" height="9.41" fill="#faf2c2"/>
<rect x="132.40" y="554.74" width="3.82" height="9.41" fill="#e6f0f2"/>
<rect x="135.87" y="554.74" width="3.82" height="9.41" fill="#faf2c2"/>
<rect x="139.34" y="554.74" width="7.29" height="9.41" fill="#e6f0f2"/>
<rect x="146.28" y="554.74" width="3.82" height="9.41" fill="#faf2c2"/>
<rect x="149.74" y="554.74" width="3.82" height="9.41" fill="#e6f0f2"/>
<rect x="153.21" y="554.74" width="3.82" height="9.41" fill="#faf2c2"/>
<rect x="156.68" y="554.74" width="3.82" height="9.41" fill="#c03a2e"/>
<rect x="160.15" y="554.74" width="3.82" height="9.41" fill="#faf2c2"/>
<rect x="163.62" y="554.74" width="3.82" height="9.41" fill="#e6f0f2"/>
<rect x="167.09" y="554.74" width="3.82" height="9.41" fill="#faf2c2"/>
<rect x="170.56" y="554.74" width="3.82" height="9.41" fill="#e99a6c"/>
<rect x="174.03" y="554.74" width="3.82" height="9.41" fill="#faf2c2"/>
<rect x="177.50" y="554.74" width="3.82" height="9.41" fill="#e6f0f2"/>
<rect x="180.97" y="554.74" width="3.82" height="9.41" fill="#faf2c2"/>
<rect x="184.44" y="554.74" width="3.82" height="9.41" fill="#e6f0f2"/>
<rect x="187.91" y="554.74" width="3.82" height="9.41" fill="#faf2c2"/>
<rect x="191.38" y="554.74" width="3.82" height="9.41" fill="#e6f0f2"/>
<rect x="194.85" y="554.74" width="3.82" height="9.41" fill="#faf2c2"/>
<rect x="198.32" y="554.74" width="3.82" height="9.41" fill="#e99a6c"/>
<rect x="201.79" y="554.74" width="3.82" height="9.41" fill="#faf2c2"/>
<rect x="205.26" y="554.74" width="7.29" height="9.41" fill="#e6f0f2"/>
<rect x="212.20" y="554.74" width="7.29" height="9.41" fill="#faf2c2"/>
<rect x="219.14" y="554.74" width="3.82" height="9.41" fill="#cadcec"/>
<rect x="222.61" y="554.74" width="3.82" height="9.41" fill="#e6f0f2"/>
<rect x="226.08" y="554.74" width="10.76" height="9.41" fill="#faf2c2"/>
<rect x="236.49" y="554.74" width="3.82" height="9.41" fill="#c03a2e"/>
<rect x="239.96" y="554.74" width="3.82" height="9.41" fill="#e6f0f2"/>
<rect x="243.43" y="554.74" width="10.76" height="9.41" fill="#faf2c2"/>
<rect x="253.83" y="554.74" width="3.82" height="9.41" fill="#c03a2e"/>
<rect x="257.30" y="554.74" width="7.29" height="9.41" fill="#faf2c2"/>
<rect x="264.24" y="554.74" width="3.82" height="9.41" fill="#e99a6c"/>
<rect x="267.71" y="554.74" width="3.82" height="9.41" fill="#d96e50"/>
<rect x="271.18" y="554.74" width="3.82" height="9.41" fill="#e99a6c"/>
<rect x="274.65" y="554.74" width="3.82" height="9.41" fill="#e6f0f2"/>
<rect x="278.12" y="554.74" width="7.29" height="9.41" fill="#faf2c2"/>
<rect x="285.06" y="554.74" width="3.82" height="9.41" fill="#e6f0f2"/>
<rect x="288.53" y="554.74" width="3.82" height="9.41" fill="#faf2c2"/>
<rect x="97.70" y="563.80" width="3.82" height="9.41" fill="#e6f0f2"/>
<rect x="101.17" y="563.80" width="7.29" height="9.41" fill="#cadcec"/>
<rect x="108.11" y="563.80" width="3.82" height="9.41" fill="#e6f0f2"/>
<rect x="111.58" y="563.80" width="3.82" height="9.41" fill="#cadcec"/>
<rect x="115.05" y="563.80" width="3.82" height="9.41" fill="#e6f0f2"/>
<rect x="118.52" y="563.80" width="3.82" height="9.41" fill="#faf2c2"/>
<rect x="121.99" y="563.80" width="3.82" height="9.41" fill="#e6f0f2"/>
<rect x="125.46" y="563.80" width="3.82" height="9.41" fill="#faf2c2"/>
<rect x="128.93" y="563.80" width="3.82" height="9.41" fill="#e6f0f2"/>
<rect x="132.40" y="563.80" width="3.82" height="9.41" fill="#faf2c2"/>
<rect x="135.87" y="563.80" width="3.82" height="9.41" fill="#e99a6c"/>
<rect x="139.34" y="563.80" width="3.82" height="9.41" fill="#e6f0f2"/>
<rect x="142.81" y="563.80" width="3.82" height="9.41" fill="#cadcec"/>
<rect x="146.28" y="563.80" width="7.29" height="9.41" fill="#e6f0f2"/>
<rect x="153.21" y="563.80" width="3.82" height="9.41" fill="#cadcec"/>
<rect x="156.68" y="563.80" width="3.82" height="9.41" fill="#e99a6c"/>
<rect x="160.15" y="563.80" width="3.82" height="9.41" fill="#f4c790"/>
<rect x="163.62" y="563.80" width="3.82" height="9.41" fill="#d96e50"/>
<rect x="167.09" y="563.80" width="3.82" height="9.41" fill="#faf2c2"/>
<rect x="170.56" y="563.80" width="3.82" height="9.41" fill="#d96e50"/>
<rect x="174.03" y="563.80" width="3.82" height="9.41" fill="#faf2c2"/>
<rect x="177.50" y="563.80" width="7.29" height="9.41" fill="#e6f0f2"/>
<rect x="184.44" y="563.80" width="3.82" height="9.41" fill="#faf2c2"/>
<rect x="187.91" y="563.80" width="7.29" height="9.41" fill="#e6f0f2"/>
<rect x="194.85" y="563.80" width="3.82" height="9.41" fill="#faf2c2"/>
<rect x="198.32" y="563.80" width="3.82" height="9.41" fill="#f4c790"/>
<rect x="201.79" y="563.80" width="7.29" height="9.41" fill="#faf2c2"/>
<rect x="208.73" y="563.80" width="3.82" height="9.41" fill="#e6f0f2"/>
<rect x="212.20" y="563.80" width="7.29" height="9.41" fill="#faf2c2"/>
<rect x="219.14" y="563.80" width="3.82" height="9.41" fill="#e6f0f2"/>
<rect x="222.61" y="563.80" width="3.82" height="9.41" fill="#faf2c2"/>
<rect x="226.08" y="563.80" width="7.29" height="9.41" fill="#f4c790"/>
<rect x="233.02" y="563.80" width="7.29" height="9.41" fill="#faf2c2"/>
<rect x="239.96" y="563.80" width="3.82" height="9.41" fill="#e99a6c"/>
<rect x="243.43" y="563.80" width="7.29" height="9.41" fill="#faf2c2"/>
<rect x="250.36" y="563.80" width="3.82" height="9.41" fill="#e6f0f2"/>
<rect x="253.83" y="563.80" width="10.76" height="9.41" fill="#faf2c2"/>
<rect x="264.24" y="563.80" width="3.82" height="9.41" fill="#f4c790"/>
<rect x="267.71" y="563.80" width="3.82" height="9.41" fill="#e99a6c"/>
<rect x="271.18" y="563.80" width="3.82" height="9.41" fill="#c03a2e"/>
<rect x="274.65" y="563.80" width="3.82" height="9.41" fill="#e99a6c"/>
<rect x="278.12" y="563.80" width="3.82" height="9.41" fill="#f9e5aa"/>
<rect x="281.59" y="563.80" width="3.82" height="9.41" fill="#faf2c2"/>
<rect x="285.06" y="563.80" width="3.82" height="9.41" fill="#cadcec"/>
<rect x="288.53" y="563.80" width="3.82" height="9.41" fill="#e6f0f2"/>
<rect x="97.70" y="572.86" width="3.82" height="9.41" fill="#e6f0f2"/>
<rect x="101.17" y="572.86" width="3.82" height="9.41" fill="#cadcec"/>
<rect x="104.64" y="572.86" width="7.29" height="9.41" fill="#e6f0f2"/>
<rect x="111.58" y="572.86" width="3.82" height="9.41" fill="#cadcec"/>
<rect x="115.05" y="572.86" width="3.82" height="9.41" fill="#faf2c2"/>
<rect x="118.52" y="572.86" width="3.82" height="9.41" fill="#e6f0f2"/>
<rect x="121.99" y="572.86" width="7.29" height="9.41" fill="#faf2c2"/>
<rect x="128.93" y="572.86" width="3.82" height="9.41" fill="#e6f0f2"/>
<rect x="132.40" y="572.86" width="3.82" height="9.41" fill="#faf2c2"/>
<rect x="135.87" y="572.86" width="3.82" height="9.41" fill="#cadcec"/>
<rect x="139.34" y="572.86" width="7.29" height="9.41" fill="#e6f0f2"/>
<rect x="146.28" y="572.86" width="3.82" height="9.41" fill="#faf2c2"/>
<rect x="149.74" y="572.86" width="3.82" height="9.41" fill="#e6f0f2"/>
<rect x="153.21" y="572.86" width="3.82" height="9.41" fill="#cadcec"/>
<rect x="156.68" y="572.86" width="3.82" height="9.41" fill="#e99a6c"/>
<rect x="160.15" y="572.86" width="3.82" height="9.41" fill="#f9e5aa"/>
<rect x="163.62" y="572.86" width="3.82" height="9.41" fill="#faf2c2"/>
<rect x="167.09" y="572.86" width="3.82" height="9.41" fill="#f9e5aa"/>
<rect x="170.56" y="572.86" width="3.82" height="9.41" fill="#faf2c2"/>
<rect x="174.03" y="572.86" width="3.82" height="9.41" fill="#e6f0f2"/>
<rect x="177.50" y="572.86" width="3.82" height="9.41" fill="#cadcec"/>
<rect x="180.97" y="572.86" width="3.82" height="9.41" fill="#faf2c2"/>
<rect x="184.44" y="572.86" width="3.82" height="9.41" fill="#e6f0f2"/>
<rect x="187.91" y="572.86" width="3.82" height="9.41" fill="#cadcec"/>
<rect x="191.38" y="572.86" width="3.82" height="9.41" fill="#e6f0f2"/>
<rect x="194.85" y="572.86" width="3.82" height="9.41" fill="#cadcec"/>
<rect x="198.32" y="572.86" width="7.29" height="9.41" fill="#faf2c2"/>
<rect x="205.26" y="572.86" width="3.82" height="9.41" fill="#e6f0f2"/>
<rect x="208.73" y="572.86" width="3.82" height="9.41" fill="#e99a6c"/>
<rect x="212.20" y="572.86" width="3.82" height="9.41" fill="#f4c790"/>
<rect x="215.67" y="572.86" width="3.82" height="9.41" fill="#e99a6c"/>
<rect x="219.14" y="572.86" width="3.82" height="9.41" fill="#f4c790"/>
<rect x="222.61" y="572.86" width="3.82" height="9.41" fill="#faf2c2"/>
<rect x="226.08" y="572.86" width="3.82" height="9.41" fill="#f9e5aa"/>
<rect x="229.55" y="572.86" width="10.76" height="9.41" fill="#faf2c2"/>
<rect x="239.96" y="572.86" width="3.82" height="9.41" fill="#e99a6c"/>
<rect x="243.43" y="572.86" width="3.82" height="9.41" fill="#faf2c2"/>
<rect x="246.89" y="572.86" width="3.82" height="9.41" fill="#e6f0f2"/>
<rect x="250.36" y="572.86" width="3.82" height="9.41" fill="#e99a6c"/>
<rect x="253.83" y="572.86" width="3.82" height="9.41" fill="#faf2c2"/>
<rect x="257.30" y="572.86" width="3.82" height="9.41" fill="#f9e5aa"/>
<rect x="260.77" y="572.86" width="3.82" height="9.41" fill="#faf2c2"/>
<rect x="264.24" y="572.86" width="10.76" height="9.41" fill="#f9e5aa"/>
<rect x="274.65" y="572.86" width="3.82" height="9.41" fill="#faf2c2"/>
<rect x="278.12" y="572.86" width="3.82" height="9.41" fill="#f4c790"/>
<rect x="281.59" y="572.86" width="3.82" height="9.41" fill="#faf2c2"/>
<rect x="285.06" y="572.86" width="7.29" height="9.41" fill="#e6f0f2"/>
<rect x="97.70" y="581.92" width="7.29" height="9.41" fill="#e6f0f2"/>
<rect x="104.64" y="581.92" width="3.82" height="9.41" fill="#faf2c2"/>
<rect x="108.11" y="581.92" width="3.82" height="9.41" fill="#e6f0f2"/>
<rect x="111.58" y="581.92" width="3.82" height="9.41" fill="#faf2c2"/>
<rect x="115.05" y="581.92" width="3.82" height="9.41" fill="#f4c790"/>
<rect x="118.52" y="581.92" width="3.82" height="9.41" fill="#f9e5aa"/>
<rect x="121.99" y="581.92" width="7.29" height="9.41" fill="#faf2c2"/>
<rect x="128.93" y="581.92" width="3.82" height="9.41" fill="#f9e5aa"/>
<rect x="132.40" y="581.92" width="3.82" height="9.41" fill="#faf2c2"/>
<rect x="135.87" y="581.92" width="3.82" height="9.41" fill="#e6f0f2"/>
<rect x="139.34" y="581.92" width="3.82" height="9.41" fill="#cadcec"/>
<rect x="142.81" y="581.92" width="3.82" height="9.41" fill="#e6f0f2"/>
<rect x="146.28" y="581.92" width="3.82" height="9.41" fill="#cadcec"/>
<rect x="149.74" y="581.92" width="7.29" height="9.41" fill="#faf2c2"/>
<rect x="156.68" y="581.92" width="3.82" height="9.41" fill="#e6f0f2"/>
<rect x="160.15" y="581.92" width="3.82" height="9.41" fill="#faf2c2"/>
<rect x="163.62" y="581.92" width="3.82" height="9.41" fill="#c03a2e"/>
<rect x="167.09" y="581.92" width="3.82" height="9.41" fill="#e99a6c"/>
<rect x="170.56" y="581.92" width="7.29" height="9.41" fill="#faf2c2"/>
<rect x="177.50" y="581.92" width="3.82" height="9.41" fill="#e6f0f2"/>
<rect x="180.97" y="581.92" width="3.82" height="9.41" fill="#faf2c2"/>
<rect x="184.44" y="581.92" width="3.82" height="9.41" fill="#e6f0f2"/>
<rect x="187.91" y="581.92" width="10.76" height="9.41" fill="#faf2c2"/>
<rect x="198.32" y="581.92" width="3.82" height="9.41" fill="#f9e5aa"/>
<rect x="201.79" y="581.92" width="7.29" height="9.41" fill="#faf2c2"/>
<rect x="208.73" y="581.92" width="3.82" height="9.41" fill="#e99a6c"/>
<rect x="212.20" y="581.92" width="3.82" height="9.41" fill="#faf2c2"/>
<rect x="215.67" y="581.92" width="3.82" height="9.41" fill="#e99a6c"/>
<rect x="219.14" y="581.92" width="7.29" height="9.41" fill="#faf2c2"/>
<rect x="226.08" y="581.92" width="3.82" height="9.41" fill="#f9e5aa"/>
<rect x="229.55" y="581.92" width="10.76" height="9.41" fill="#faf2c2"/>
<rect x="239.96" y="581.92" width="3.82" height="9.41" fill="#c03a2e"/>
<rect x="243.43" y="581.92" width="3.82" height="9.41" fill="#faf2c2"/>
<rect x="246.89" y="581.92" width="3.82" height="9.41" fill="#cadcec"/>
<rect x="250.36" y="581.92" width="3.82" height="9.41" fill="#faf2c2"/>
<rect x="253.83" y="581.92" width="3.82" height="9.41" fill="#e6f0f2"/>
<rect x="257.30" y="581.92" width="7.29" height="9.41" fill="#faf2c2"/>
<rect x="264.24" y="581.92" width="3.82" height="9.41" fill="#f9e5aa"/>
<rect x="267.71" y="581.92" width="10.76" height="9.41" fill="#faf2c2"/>
<rect x="278.12" y="581.92" width="3.82" height="9.41" fill="#e6f0f2"/>
<rect x="281.59" y="581.92" width="3.82" height="9.41" fill="#faf2c2"/>
<rect x="285.06" y="581.92" width="3.82" height="9.41" fill="#cadcec"/>
<rect x="288.53" y="581.92" width="3.82" height="9.41" fill="#e6f0f2"/>
<rect x="97.70" y="590.98" width="3.82" height="9.41" fill="#e6f0f2"/>
<rect x="101.17" y="590.98" width="3.82" height="9.41" fill="#cadcec"/>
<rect x="104.64" y="590.98" width="3.82" height="9.41" fill="#e6f0f2"/>
<rect x="108.11" y="590.98" width="3.82" height="9.41" fill="#cadcec"/>
<rect x="111.58" y="590.98" width="3.82" height="9.41" fill="#faf2c2"/>
<rect x="115.05" y="590.98" width="3.82" height="9.41" fill="#e99a6c"/>
<rect x="118.52" y="590.98" width="3.82" height="9.41" fill="#e6f0f2"/>
<rect x="121.99" y="590.98" width="3.82" height="9.41" fill="#cadcec"/>
<rect x="125.46" y="590.98" width="3.82" height="9.41" fill="#e6f0f2"/>
<rect x="128.93" y="590.98" width="3.82" height="9.41" fill="#faf2c2"/>
<rect x="132.40" y="590.98" width="3.82" height="9.41" fill="#e6f0f2"/>
<rect x="135.87" y="590.98" width="3.82" height="9.41" fill="#cadcec"/>
<rect x="139.34" y="590.98" width="3.82" height="9.41" fill="#e6f0f2"/>
<rect x="142.81" y="590.98" width="3.82" height="9.41" fill="#faf2c2"/>
<rect x="146.28" y="590.98" width="3.82" height="9.41" fill="#e6f0f2"/>
<rect x="149.74" y="590.98" width="3.82" height="9.41" fill="#faf2c2"/>
<rect x="153.21" y="590.98" width="3.82" height="9.41" fill="#e6f0f2"/>
<rect x="156.68" y="590.98" width="7.29" height="9.41" fill="#f9e5aa"/>
<rect x="163.62" y="590.98" width="3.82" height="9.41" fill="#faf2c2"/>
<rect x="167.09" y="590.98" width="3.82" height="9.41" fill="#c03a2e"/>
<rect x="170.56" y="590.98" width="3.82" height="9.41" fill="#faf2c2"/>
<rect x="174.03" y="590.98" width="3.82" height="9.41" fill="#e6f0f2"/>
<rect x="177.50" y="590.98" width="3.82" height="9.41" fill="#faf2c2"/>
<rect x="180.97" y="590.98" width="3.82" height="9.41" fill="#e6f0f2"/>
<rect x="184.44" y="590.98" width="3.82" height="9.41" fill="#faf2c2"/>
<rect x="187.91" y="590.98" width="7.29" height="9.41" fill="#e6f0f2"/>
<rect x="194.85" y="590.98" width="7.29" height="9.41" fill="#faf2c2"/>
<rect x="201.79" y="590.98" width="3.82" height="9.41" fill="#f4c790"/>
<rect x="205.26" y="590.98" width="3.82" height="9.41" fill="#faf2c2"/>
<rect x="208.73" y="590.98" width="3.82" height="9.41" fill="#c03a2e"/>
<rect x="212.20" y="590.98" width="3.82" height="9.41" fill="#faf2c2"/>
<rect x="215.67" y="590.98" width="3.82" height="9.41" fill="#c03a2e"/>
<rect x="219.14" y="590.98" width="3.82" height="9.41" fill="#e99a6c"/>
<rect x="222.61" y="590.98" width="7.29" height="9.41" fill="#faf2c2"/>
<rect x="229.55" y="590.98" width="3.82" height="9.41" fill="#f9e5aa"/>
<rect x="233.02" y="590.98" width="7.29" height="9.41" fill="#faf2c2"/>
<rect x="239.96" y="590.98" width="3.82" height="9.41" fill="#e99a6c"/>
<rect x="243.43" y="590.98" width="14.23" height="9.41" fill="#faf2c2"/>
<rect x="257.30" y="590.98" width="3.82" height="9.41" fill="#e6f0f2"/>
<rect x="260.77" y="590.98" width="10.76" height="9.41" fill="#faf2c2"/>
<rect x="271.18" y="590.98" width="3.82" height="9.41" fill="#e6f0f2"/>
<rect x="274.65" y="590.98" width="7.29" height="9.41" fill="#faf2c2"/>
<rect x="281.59" y="590.98" width="3.82" height="9.41" fill="#e6f0f2"/>
<rect x="285.06" y="590.98" width="3.82" height="9.41" fill="#faf2c2"/>
<rect x="288.53" y="590.98" width="3.82" height="9.41" fill="#e6f0f2"/>
</g></g>
<rect x="97.70" y="235.8" width="59.20" height="7.6" fill="#e06e6a"/>
<rect x="156.90" y="235.8" width="15.60" height="7.6" fill="#b8922e"/>
<rect x="172.50" y="235.8" width="21.80" height="7.6" fill="#6aaa40"/>
<rect x="194.30" y="235.8" width="15.90" height="7.6" fill="#62b898"/>
<rect x="210.20" y="235.8" width="33.60" height="7.6" fill="#5eaee0"/>
<rect x="243.80" y="235.8" width="30.40" height="7.6" fill="#8a7cc0"/>
<rect x="274.20" y="235.8" width="17.80" height="7.6" fill="#bcbcbc"/>
<text x="295.90" y="244.00" font-size="10.00" text-anchor="start" font-weight="bold" fill="#111" >Cluster</text>
<text x="295.90" y="255.83" font-size="8.35" text-anchor="start" font-weight="normal" fill="#161616" stroke="#161616" stroke-width="0.10" >PAPP-A</text>
<text x="295.90" y="264.89" font-size="8.35" text-anchor="start" font-weight="normal" fill="#161616" stroke="#161616" stroke-width="0.10" >S100A7</text>
<text x="295.90" y="273.95" font-size="8.35" text-anchor="start" font-weight="normal" fill="#161616" stroke="#161616" stroke-width="0.10" >Macrophage mannose receptor</text>
<text x="295.90" y="283.01" font-size="8.35" text-anchor="start" font-weight="normal" fill="#161616" stroke="#161616" stroke-width="0.10" >Somatostatin-28</text>
<text x="295.90" y="292.07" font-size="8.35" text-anchor="start" font-weight="normal" fill="#161616" stroke="#161616" stroke-width="0.10" >SAP</text>
<text x="295.90" y="301.13" font-size="8.35" text-anchor="start" font-weight="normal" fill="#161616" stroke="#161616" stroke-width="0.10" >Karyopherin-a2</text>
<text x="295.90" y="310.19" font-size="8.35" text-anchor="start" font-weight="normal" fill="#161616" stroke="#161616" stroke-width="0.10" >Dkk-4</text>
<text x="295.90" y="319.25" font-size="8.35" text-anchor="start" font-weight="normal" fill="#161616" stroke="#161616" stroke-width="0.10" >TNF sR-I</text>
<text x="295.90" y="328.31" font-size="8.35" text-anchor="start" font-weight="normal" fill="#161616" stroke="#161616" stroke-width="0.10" >WIF-1</text>
<text x="295.90" y="337.37" font-size="8.35" text-anchor="start" font-weight="normal" fill="#161616" stroke="#161616" stroke-width="0.10" >Periostin</text>
<text x="295.90" y="346.43" font-size="8.35" text-anchor="start" font-weight="normal" fill="#161616" stroke="#161616" stroke-width="0.10" >SDF-1</text>
<text x="295.90" y="355.49" font-size="8.35" text-anchor="start" font-weight="normal" fill="#161616" stroke="#161616" stroke-width="0.10" >LTBP4</text>
<text x="295.90" y="364.55" font-size="8.35" text-anchor="start" font-weight="normal" fill="#161616" stroke="#161616" stroke-width="0.10" >IGFBP-7</text>
<text x="295.90" y="373.61" font-size="8.35" text-anchor="start" font-weight="normal" fill="#161616" stroke="#161616" stroke-width="0.10" >MATN2</text>
<text x="295.90" y="382.67" font-size="8.35" text-anchor="start" font-weight="normal" fill="#161616" stroke="#161616" stroke-width="0.10" >Laminin</text>
<text x="295.90" y="391.73" font-size="8.35" text-anchor="start" font-weight="normal" fill="#161616" stroke="#161616" stroke-width="0.10" >FLRT3</text>
<text x="295.90" y="400.79" font-size="8.35" text-anchor="start" font-weight="normal" fill="#161616" stroke="#161616" stroke-width="0.10" >GNS</text>
<text x="295.90" y="409.85" font-size="8.35" text-anchor="start" font-weight="normal" fill="#161616" stroke="#161616" stroke-width="0.10" >IDUA</text>
<text x="295.90" y="418.91" font-size="8.35" text-anchor="start" font-weight="normal" fill="#161616" stroke="#161616" stroke-width="0.10" >EFNB1</text>
<text x="295.90" y="427.97" font-size="8.35" text-anchor="start" font-weight="normal" fill="#161616" stroke="#161616" stroke-width="0.10" >I-309</text>
<text x="295.90" y="437.03" font-size="8.35" text-anchor="start" font-weight="normal" fill="#161616" stroke="#161616" stroke-width="0.10" >Lymphotoxin a2/b1</text>
<text x="295.90" y="446.09" font-size="8.35" text-anchor="start" font-weight="normal" fill="#161616" stroke="#161616" stroke-width="0.10" >XTP3A</text>
<text x="295.90" y="455.15" font-size="8.35" text-anchor="start" font-weight="normal" fill="#161616" stroke="#161616" stroke-width="0.10" >6Ckine</text>
<text x="295.90" y="464.21" font-size="8.35" text-anchor="start" font-weight="normal" fill="#161616" stroke="#161616" stroke-width="0.10" >BLC</text>
<text x="295.90" y="473.27" font-size="8.35" text-anchor="start" font-weight="normal" fill="#161616" stroke="#161616" stroke-width="0.10" >PPAC</text>
<text x="295.90" y="482.33" font-size="8.35" text-anchor="start" font-weight="normal" fill="#161616" stroke="#161616" stroke-width="0.10" >PUR8</text>
<text x="295.90" y="491.39" font-size="8.35" text-anchor="start" font-weight="normal" fill="#161616" stroke="#161616" stroke-width="0.10" >Peroxiredoxin-1</text>
<text x="295.90" y="500.45" font-size="8.35" text-anchor="start" font-weight="normal" fill="#161616" stroke="#161616" stroke-width="0.10" >DHH</text>
<text x="295.90" y="509.51" font-size="8.35" text-anchor="start" font-weight="normal" fill="#161616" stroke="#161616" stroke-width="0.10" >Hemoglobin</text>
<text x="295.90" y="518.57" font-size="8.35" text-anchor="start" font-weight="normal" fill="#161616" stroke="#161616" stroke-width="0.10" >Aflatoxin B1 aldehyde reductase</text>
<text x="295.90" y="527.63" font-size="8.35" text-anchor="start" font-weight="normal" fill="#161616" stroke="#161616" stroke-width="0.10" >NDP kinase B</text>
<text x="295.90" y="536.69" font-size="8.35" text-anchor="start" font-weight="normal" fill="#161616" stroke="#161616" stroke-width="0.10" >Carbonic anhydrase XIII</text>
<text x="295.90" y="545.75" font-size="8.35" text-anchor="start" font-weight="normal" fill="#161616" stroke="#161616" stroke-width="0.10" >PTP-1C</text>
<text x="295.90" y="554.81" font-size="8.35" text-anchor="start" font-weight="normal" fill="#161616" stroke="#161616" stroke-width="0.10" >ASAH2</text>
<text x="295.90" y="563.87" font-size="8.35" text-anchor="start" font-weight="normal" fill="#161616" stroke="#161616" stroke-width="0.10" >IL-8</text>
<text x="295.90" y="572.93" font-size="8.35" text-anchor="start" font-weight="normal" fill="#161616" stroke="#161616" stroke-width="0.10" >STAT1</text>
<text x="295.90" y="581.99" font-size="8.35" text-anchor="start" font-weight="normal" fill="#161616" stroke="#161616" stroke-width="0.10" >PRKACA</text>
<text x="295.90" y="591.05" font-size="8.35" text-anchor="start" font-weight="normal" fill="#161616" stroke="#161616" stroke-width="0.10" >XPNPEP1</text>
<text x="295.90" y="600.11" font-size="8.35" text-anchor="start" font-weight="normal" fill="#161616" stroke="#161616" stroke-width="0.10" >LDH-H1</text>
<defs><linearGradient id="kg" x1="0" y1="0" x2="0" y2="1"><stop offset="0" stop-color="#bc3a30"/><stop offset="0.1" stop-color="#d4694a"/><stop offset="0.25" stop-color="#eba870"/><stop offset="0.38" stop-color="#f5dc94"/><stop offset="0.48" stop-color="#f8f0b8"/><stop offset="0.57" stop-color="#f2f6e0"/><stop offset="0.66" stop-color="#e6f1f4"/><stop offset="0.75" stop-color="#c8dae8"/><stop offset="0.83" stop-color="#a0bcd8"/><stop offset="0.92" stop-color="#7e9cc8"/><stop offset="1" stop-color="#5e7cb8"/></linearGradient></defs>
<rect x="428.1" y="235" width="10.6" height="157" fill="url(#kg)"/>
<text x="443.20" y="237.70" font-size="9.30" text-anchor="start" font-weight="normal" fill="#1a1a1a" stroke="#1a1a1a" stroke-width="0.05" >2</text>
<text x="443.20" y="278.00" font-size="9.30" text-anchor="start" font-weight="normal" fill="#1a1a1a" stroke="#1a1a1a" stroke-width="0.05" >1</text>
<text x="443.20" y="316.60" font-size="9.30" text-anchor="start" font-weight="normal" fill="#1a1a1a" stroke="#1a1a1a" stroke-width="0.05" >0</text>
<text x="443.20" y="356.30" font-size="9.30" text-anchor="start" font-weight="normal" fill="#1a1a1a" stroke="#1a1a1a" stroke-width="0.05" >−1</text>
<text x="443.20" y="394.30" font-size="9.30" text-anchor="start" font-weight="normal" fill="#1a1a1a" stroke="#1a1a1a" stroke-width="0.05" >−2</text>
<text x="452.60" y="241.00" font-size="10.00" text-anchor="start" font-weight="bold" fill="#111" >Cluster</text>
<rect x="454" y="243.60" width="11.8" height="11.95" fill="#e06e6a"/>
<text x="468.00" y="252.90" font-size="9.30" text-anchor="start" font-weight="normal" fill="#1a1a1a" stroke="#1a1a1a" stroke-width="0.05" >1</text>
<rect x="454" y="255.55" width="11.8" height="11.95" fill="#b8922e"/>
<text x="468.00" y="265.90" font-size="9.30" text-anchor="start" font-weight="normal" fill="#1a1a1a" stroke="#1a1a1a" stroke-width="0.05" >2</text>
<rect x="454" y="267.50" width="11.8" height="11.95" fill="#6aaa40"/>
<text x="468.00" y="278.20" font-size="9.30" text-anchor="start" font-weight="normal" fill="#1a1a1a" stroke="#1a1a1a" stroke-width="0.05" >3</text>
<rect x="454" y="279.45" width="11.8" height="11.95" fill="#62b898"/>
<text x="468.00" y="290.30" font-size="9.30" text-anchor="start" font-weight="normal" fill="#1a1a1a" stroke="#1a1a1a" stroke-width="0.05" >4</text>
<rect x="454" y="291.40" width="11.8" height="11.95" fill="#5eaee0"/>
<text x="468.00" y="299.90" font-size="9.30" text-anchor="start" font-weight="normal" fill="#1a1a1a" stroke="#1a1a1a" stroke-width="0.05" >5</text>
<rect x="454" y="303.35" width="11.8" height="11.95" fill="#8a7cc0"/>
<text x="468.00" y="312.00" font-size="9.30" text-anchor="start" font-weight="normal" fill="#1a1a1a" stroke="#1a1a1a" stroke-width="0.05" >6</text>
<rect x="454" y="315.30" width="11.8" height="11.95" fill="#bcbcbc"/>
<text x="468.00" y="326.10" font-size="9.30" text-anchor="start" font-weight="normal" fill="#1a1a1a" stroke="#1a1a1a" stroke-width="0.05" >Un</text>
<path d="M97.70,287.44 H85.40 V296.50 H97.70 M97.70,278.38 H81.50 V291.97 H85.40 M97.70,269.32 H78.80 V285.18 H81.50 M97.70,260.26 H72.30 V277.25 H78.80 M97.70,251.20 H68.20 V268.75 H72.30 M97.70,323.68 H84.50 V332.74 H97.70 M97.70,359.92 H86.50 V368.98 H97.70 M97.70,350.86 H85.40 V364.45 H86.50 M97.70,341.80 H82.60 V357.65 H85.40 M84.50,328.21 H79.60 V349.73 H82.60 M97.70,314.62 H77.00 V338.97 H79.60 M97.70,387.10 H82.10 V396.16 H97.70 M97.70,378.04 H80.40 V391.63 H82.10 M97.70,414.28 H87.30 V423.34 H97.70 M97.70,432.40 H83.30 V441.46 H97.70 M87.30,418.81 H81.80 V436.93 H83.30 M97.70,405.22 H79.80 V427.87 H81.80 M80.40,384.83 H75.80 V416.55 H79.80 M77.00,326.79 H73.80 V400.69 H75.80 M97.70,305.56 H67.90 V363.74 H73.80 M68.20,259.98 H63.50 V334.65 H67.90 M97.70,450.52 H61.30 V459.58 H97.70 M63.50,297.31 H50.80 V455.05 H61.30 M97.70,486.76 H84.40 V495.82 H97.70 M97.70,477.70 H74.00 V491.29 H84.40 M97.70,513.94 H83.30 V523.00 H97.70 M97.70,504.88 H68.80 V518.47 H83.30 M74.00,484.50 H67.10 V511.68 H68.80 M97.70,468.64 H63.70 V498.09 H67.10 M97.70,532.06 H74.00 V541.12 H97.70 M97.70,586.42 H82.10 V595.48 H97.70 M97.70,577.36 H78.70 V590.95 H82.10 M97.70,568.30 H75.50 V584.15 H78.70 M97.70,559.24 H68.30 V576.23 H75.50 M97.70,550.18 H62.50 V567.73 H68.30 M74.00,536.59 H57.90 V558.96 H62.50 M63.70,483.36 H49.20 V547.77 H57.90 M50.80,376.18 H41.70 V515.57 H49.20 " fill="none" stroke="#222" stroke-width="1.3" stroke-linejoin="miter" stroke-linecap="butt"/>
</svg>
</body></html>
